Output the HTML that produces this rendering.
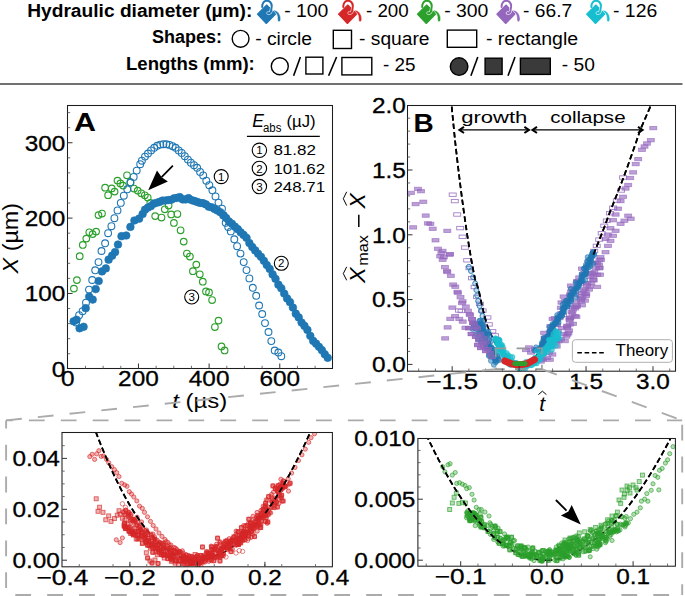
<!DOCTYPE html>
<html><head><meta charset="utf-8"><title>figure</title>
<style>html,body{margin:0;padding:0;background:#fff;width:685px;height:596px;overflow:hidden}
svg{display:block}
.bo{fill:none;stroke:#1f77b4;stroke-width:1.1}
.bf{fill:#1f77b4;stroke:#1f77b4;stroke-width:0.6}
.go{fill:none;stroke:#2ca02c;stroke-width:1.15}
.pf{fill:#9467bd;fill-opacity:.62;stroke:#9467bd;stroke-opacity:.7;stroke-width:.8}
.po{fill:none;stroke:#9467bd;stroke-opacity:.85;stroke-width:.9}
.bt{fill:#1f77b4;fill-opacity:.5;stroke:#1f77b4;stroke-opacity:.75;stroke-width:.8}
.bl{fill:#1f77b4;fill-opacity:.25;stroke:#1f77b4;stroke-opacity:.85;stroke-width:1}
.ct{fill:#17becf;fill-opacity:.6;stroke:#17becf;stroke-opacity:.7;stroke-width:.8}
.rc{fill:#d62728;fill-opacity:.35;stroke:#d62728;stroke-opacity:.7;stroke-width:.9}
.rs{fill:#d62728;fill-opacity:.35;stroke:#d62728;stroke-opacity:.7;stroke-width:.9}
.ro{fill:none;stroke:#d62728;stroke-opacity:.7;stroke-width:.8}
.gc{fill:#2ca02c;fill-opacity:.35;stroke:#2ca02c;stroke-opacity:.7;stroke-width:.9}
.gs{fill:#2ca02c;fill-opacity:.35;stroke:#2ca02c;stroke-opacity:.7;stroke-width:.9}
text{font-family:"Liberation Sans",sans-serif}
</style></head>
<body><svg width="685" height="596" viewBox="0 0 685 596" font-family="Liberation Sans, sans-serif">
<rect width="685" height="596" fill="#fff"/>
<text x="27.2" y="17.1" font-size="19.2" font-weight="bold" font-style="normal" text-anchor="start" fill="#000" textLength="225.2" lengthAdjust="spacingAndGlyphs" >Hydraulic diameter (µm):</text>
<g transform="translate(254.9,0)"><path d="M2.5,14.2 L11.8,5 L20.7,14 L11.4,23.5 Z" fill="#1f77b4" stroke="#1f77b4" stroke-width="1.1" stroke-linejoin="round"/><path d="M16.5,8.6 L16.1,11.4 C15.9,12.8 14.4,13.6 13.1,13" fill="none" stroke="#fff" stroke-width="3.1" stroke-linecap="round"/><path d="M7.3,7.0 C7.1,2.8 9.5,0.8 11.9,0.8 C14.8,0.8 16.9,2.7 16.8,6.4 L16.1,11.4 C15.9,12.8 14.4,13.6 13.1,13" fill="none" stroke="#1f77b4" stroke-width="2" stroke-linecap="round"/><path d="M19.2,10.1 C22.5,10.9 25.3,13.5 25.7,18 C25.9,20.3 25.2,21.8 24.1,21.8 C23,21.8 22.6,20.5 22.7,18.5 C22.7,15.6 21.6,13.1 19.6,12" fill="#1f77b4" stroke="#fff" stroke-width="0.5"/></g>
<text x="284.2" y="17.1" font-size="17.5" font-weight="normal" font-style="normal" text-anchor="start" fill="#000" textLength="44.2" lengthAdjust="spacingAndGlyphs" >- 100</text>
<g transform="translate(336,0)"><path d="M2.5,14.2 L11.8,5 L20.7,14 L11.4,23.5 Z" fill="#d62728" stroke="#d62728" stroke-width="1.1" stroke-linejoin="round"/><path d="M16.5,8.6 L16.1,11.4 C15.9,12.8 14.4,13.6 13.1,13" fill="none" stroke="#fff" stroke-width="3.1" stroke-linecap="round"/><path d="M7.3,7.0 C7.1,2.8 9.5,0.8 11.9,0.8 C14.8,0.8 16.9,2.7 16.8,6.4 L16.1,11.4 C15.9,12.8 14.4,13.6 13.1,13" fill="none" stroke="#d62728" stroke-width="2" stroke-linecap="round"/><path d="M19.2,10.1 C22.5,10.9 25.3,13.5 25.7,18 C25.9,20.3 25.2,21.8 24.1,21.8 C23,21.8 22.6,20.5 22.7,18.5 C22.7,15.6 21.6,13.1 19.6,12" fill="#d62728" stroke="#fff" stroke-width="0.5"/></g>
<text x="366" y="17.1" font-size="17.5" font-weight="normal" font-style="normal" text-anchor="start" fill="#000" textLength="42.7" lengthAdjust="spacingAndGlyphs" >- 200</text>
<g transform="translate(414.9,0)"><path d="M2.5,14.2 L11.8,5 L20.7,14 L11.4,23.5 Z" fill="#2ca02c" stroke="#2ca02c" stroke-width="1.1" stroke-linejoin="round"/><path d="M16.5,8.6 L16.1,11.4 C15.9,12.8 14.4,13.6 13.1,13" fill="none" stroke="#fff" stroke-width="3.1" stroke-linecap="round"/><path d="M7.3,7.0 C7.1,2.8 9.5,0.8 11.9,0.8 C14.8,0.8 16.9,2.7 16.8,6.4 L16.1,11.4 C15.9,12.8 14.4,13.6 13.1,13" fill="none" stroke="#2ca02c" stroke-width="2" stroke-linecap="round"/><path d="M19.2,10.1 C22.5,10.9 25.3,13.5 25.7,18 C25.9,20.3 25.2,21.8 24.1,21.8 C23,21.8 22.6,20.5 22.7,18.5 C22.7,15.6 21.6,13.1 19.6,12" fill="#2ca02c" stroke="#fff" stroke-width="0.5"/></g>
<text x="444.2" y="17.1" font-size="17.5" font-weight="normal" font-style="normal" text-anchor="start" fill="#000" textLength="44.2" lengthAdjust="spacingAndGlyphs" >- 300</text>
<g transform="translate(494.3,0)"><path d="M2.5,14.2 L11.8,5 L20.7,14 L11.4,23.5 Z" fill="#9467bd" stroke="#9467bd" stroke-width="1.1" stroke-linejoin="round"/><path d="M16.5,8.6 L16.1,11.4 C15.9,12.8 14.4,13.6 13.1,13" fill="none" stroke="#fff" stroke-width="3.1" stroke-linecap="round"/><path d="M7.3,7.0 C7.1,2.8 9.5,0.8 11.9,0.8 C14.8,0.8 16.9,2.7 16.8,6.4 L16.1,11.4 C15.9,12.8 14.4,13.6 13.1,13" fill="none" stroke="#9467bd" stroke-width="2" stroke-linecap="round"/><path d="M19.2,10.1 C22.5,10.9 25.3,13.5 25.7,18 C25.9,20.3 25.2,21.8 24.1,21.8 C23,21.8 22.6,20.5 22.7,18.5 C22.7,15.6 21.6,13.1 19.6,12" fill="#9467bd" stroke="#fff" stroke-width="0.5"/></g>
<text x="523.1" y="17.1" font-size="17.5" font-weight="normal" font-style="normal" text-anchor="start" fill="#000" textLength="49.1" lengthAdjust="spacingAndGlyphs" >- 66.7</text>
<g transform="translate(584.1,0)"><path d="M2.5,14.2 L11.8,5 L20.7,14 L11.4,23.5 Z" fill="#17becf" stroke="#17becf" stroke-width="1.1" stroke-linejoin="round"/><path d="M16.5,8.6 L16.1,11.4 C15.9,12.8 14.4,13.6 13.1,13" fill="none" stroke="#fff" stroke-width="3.1" stroke-linecap="round"/><path d="M7.3,7.0 C7.1,2.8 9.5,0.8 11.9,0.8 C14.8,0.8 16.9,2.7 16.8,6.4 L16.1,11.4 C15.9,12.8 14.4,13.6 13.1,13" fill="none" stroke="#17becf" stroke-width="2" stroke-linecap="round"/><path d="M19.2,10.1 C22.5,10.9 25.3,13.5 25.7,18 C25.9,20.3 25.2,21.8 24.1,21.8 C23,21.8 22.6,20.5 22.7,18.5 C22.7,15.6 21.6,13.1 19.6,12" fill="#17becf" stroke="#fff" stroke-width="0.5"/></g>
<text x="613" y="17.1" font-size="17.5" font-weight="normal" font-style="normal" text-anchor="start" fill="#000" textLength="44.2" lengthAdjust="spacingAndGlyphs" >- 126</text>
<text x="151.9" y="43.4" font-size="19.2" font-weight="bold" font-style="normal" text-anchor="start" fill="#000" textLength="70" lengthAdjust="spacingAndGlyphs" >Shapes:</text>
<circle cx="240.6" cy="38.8" r="8.4" fill="none" stroke="#000" stroke-width="1.4"/>
<text x="255.2" y="44.5" font-size="17.5" font-weight="normal" font-style="normal" text-anchor="start" fill="#000" textLength="56.8" lengthAdjust="spacingAndGlyphs" >- circle</text>
<rect x="333.3" y="30.3" width="18.2" height="18.2" fill="none" stroke="#000" stroke-width="1.4"/>
<text x="359.1" y="44.5" font-size="17.5" font-weight="normal" font-style="normal" text-anchor="start" fill="#000" textLength="70.4" lengthAdjust="spacingAndGlyphs" >- square</text>
<rect x="447.3" y="30.1" width="29.4" height="17.2" fill="none" stroke="#000" stroke-width="1.4"/>
<text x="485.9" y="44.5" font-size="17.5" font-weight="normal" font-style="normal" text-anchor="start" fill="#000" textLength="92.3" lengthAdjust="spacingAndGlyphs" >- rectangle</text>
<text x="126" y="70.4" font-size="19.2" font-weight="bold" font-style="normal" text-anchor="start" fill="#000" textLength="128.8" lengthAdjust="spacingAndGlyphs" >Lengths (mm):</text>
<circle cx="279.8" cy="66.3" r="8.5" fill="none" stroke="#000" stroke-width="1.4"/>
<line x1="293.6" y1="75.8" x2="300.4" y2="57" stroke="#000" stroke-width="1.6" />
<rect x="305.9" y="57.2" width="17" height="16.8" fill="none" stroke="#000" stroke-width="1.4"/>
<line x1="328.6" y1="75.8" x2="336.6" y2="57" stroke="#000" stroke-width="1.6" />
<rect x="341.9" y="57.5" width="29.9" height="17.4" fill="none" stroke="#000" stroke-width="1.4"/>
<text x="383" y="71.2" font-size="17.5" font-weight="normal" font-style="normal" text-anchor="start" fill="#000" textLength="32.5" lengthAdjust="spacingAndGlyphs" >- 25</text>
<circle cx="459.1" cy="66.6" r="8.8" fill="#3a3a3a" stroke="#000" stroke-width="1.4"/>
<line x1="470.9" y1="75.8" x2="477.8" y2="57" stroke="#000" stroke-width="1.6" />
<rect x="485.1" y="58.2" width="17" height="16.2" fill="#3a3a3a" stroke="#000" stroke-width="1.4"/>
<line x1="508" y1="75.8" x2="515" y2="57" stroke="#000" stroke-width="1.6" />
<rect x="520.4" y="58.2" width="29.9" height="16.2" fill="#3a3a3a" stroke="#000" stroke-width="1.4"/>
<text x="561.8" y="71.2" font-size="17.5" font-weight="normal" font-style="normal" text-anchor="start" fill="#000" textLength="33.1" lengthAdjust="spacingAndGlyphs" >- 50</text>
<line x1="0" y1="84" x2="682.5" y2="84" stroke="#707070" stroke-width="2" />
<clipPath id="ca"><rect x="67.5" y="105.5" width="265" height="263"/></clipPath><g clip-path="url(#ca)">
<circle class="go" cx="73.9" cy="288.6" r="3.3"/>
<circle class="go" cx="76.9" cy="280.1" r="3.3"/>
<circle class="go" cx="79.7" cy="256.2" r="3.3"/>
<circle class="go" cx="82.8" cy="244.9" r="3.3"/>
<circle class="go" cx="86.3" cy="238.6" r="3.3"/>
<circle class="go" cx="89.3" cy="232.3" r="3.3"/>
<circle class="go" cx="92.6" cy="234.1" r="3.3"/>
<circle class="go" cx="96.1" cy="231.6" r="3.3"/>
<circle class="go" cx="98.5" cy="215.1" r="3.3"/>
<circle class="go" cx="102" cy="213.5" r="3.3"/>
<circle class="go" cx="105.1" cy="187.7" r="3.3"/>
<circle class="go" cx="108.1" cy="195.2" r="3.3"/>
<circle class="go" cx="111.7" cy="188.4" r="3.3"/>
<circle class="go" cx="114.6" cy="191.6" r="3.3"/>
<circle class="go" cx="117.5" cy="180.6" r="3.3"/>
<circle class="go" cx="120.4" cy="183.4" r="3.3"/>
<circle class="go" cx="123.1" cy="185.6" r="3.3"/>
<circle class="go" cx="127" cy="175.3" r="3.3"/>
<circle class="go" cx="130.5" cy="182.4" r="3.3"/>
<circle class="go" cx="134" cy="188.5" r="3.3"/>
<circle class="go" cx="137.7" cy="190.6" r="3.3"/>
<circle class="go" cx="141.3" cy="193.3" r="3.3"/>
<circle class="go" cx="144.8" cy="195.3" r="3.3"/>
<circle class="go" cx="147.7" cy="197.5" r="3.3"/>
<circle class="go" cx="150.3" cy="202.8" r="3.3"/>
<circle class="go" cx="155.2" cy="216.1" r="3.3"/>
<circle class="go" cx="161.5" cy="217.5" r="3.3"/>
<circle class="go" cx="164.8" cy="209.3" r="3.3"/>
<circle class="go" cx="168.6" cy="205.5" r="3.3"/>
<circle class="go" cx="171.2" cy="214.4" r="3.3"/>
<circle class="go" cx="177.4" cy="214" r="3.3"/>
<circle class="go" cx="173.9" cy="222.9" r="3.3"/>
<circle class="go" cx="180.6" cy="230.3" r="3.3"/>
<circle class="go" cx="183.7" cy="241.6" r="3.3"/>
<circle class="go" cx="186.9" cy="253.5" r="3.3"/>
<circle class="go" cx="189.9" cy="256.5" r="3.3"/>
<circle class="go" cx="196.3" cy="264.6" r="3.3"/>
<circle class="go" cx="192.9" cy="271.2" r="3.3"/>
<circle class="go" cx="199.8" cy="274.3" r="3.3"/>
<circle class="go" cx="202.8" cy="281.7" r="3.3"/>
<circle class="go" cx="206" cy="291.4" r="3.3"/>
<circle class="go" cx="209" cy="292.4" r="3.3"/>
<circle class="go" cx="212.1" cy="300" r="3.3"/>
<circle class="go" cx="218.5" cy="320.6" r="3.3"/>
<circle class="go" cx="214.9" cy="327" r="3.3"/>
<circle class="go" cx="221.5" cy="346.4" r="3.3"/>
<circle class="go" cx="224.6" cy="350.4" r="3.3"/>
<circle class="bo" cx="79.1" cy="315.2" r="3.4"/>
<circle class="bo" cx="82.6" cy="311.2" r="3.4"/>
<circle class="bo" cx="86" cy="302.7" r="3.4"/>
<circle class="bo" cx="89" cy="289.6" r="3.4"/>
<circle class="bo" cx="92.2" cy="280" r="3.4"/>
<circle class="bo" cx="95.2" cy="270.3" r="3.4"/>
<circle class="bo" cx="98.5" cy="262.1" r="3.4"/>
<circle class="bo" cx="101.5" cy="251" r="3.4"/>
<circle class="bo" cx="105.1" cy="243.3" r="3.4"/>
<circle class="bo" cx="108.1" cy="233.2" r="3.4"/>
<circle class="bo" cx="111.4" cy="226.2" r="3.4"/>
<circle class="bo" cx="114.4" cy="218.2" r="3.4"/>
<circle class="bo" cx="117.5" cy="210.4" r="3.4"/>
<circle class="bo" cx="120.8" cy="202.9" r="3.4"/>
<circle class="bo" cx="123.8" cy="195.7" r="3.4"/>
<circle class="bo" cx="127.3" cy="189.3" r="3.4"/>
<circle class="bo" cx="130.4" cy="182.3" r="3.4"/>
<circle class="bo" cx="133.7" cy="176.9" r="3.4"/>
<circle class="bo" cx="136.7" cy="170.6" r="3.4"/>
<circle class="bo" cx="140.2" cy="164.2" r="3.4"/>
<circle class="bo" cx="141.9" cy="160.7" r="3.4"/>
<circle class="bo" cx="145" cy="156.6" r="3.4"/>
<circle class="bo" cx="148" cy="153.5" r="3.4"/>
<circle class="bo" cx="151.1" cy="150.4" r="3.4"/>
<circle class="bo" cx="154.2" cy="147.8" r="3.4"/>
<circle class="bo" cx="157.2" cy="145.8" r="3.4"/>
<circle class="bo" cx="160.3" cy="144.6" r="3.4"/>
<circle class="bo" cx="163.4" cy="144.2" r="3.4"/>
<circle class="bo" cx="166.4" cy="144.3" r="3.4"/>
<circle class="bo" cx="169.5" cy="144.9" r="3.4"/>
<circle class="bo" cx="172.6" cy="146.2" r="3.4"/>
<circle class="bo" cx="175.6" cy="147.8" r="3.4"/>
<circle class="bo" cx="178.7" cy="150.4" r="3.4"/>
<circle class="bo" cx="181.7" cy="152.9" r="3.4"/>
<circle class="bo" cx="184.8" cy="156.2" r="3.4"/>
<circle class="bo" cx="187.9" cy="159.6" r="3.4"/>
<circle class="bo" cx="190.9" cy="162.7" r="3.4"/>
<circle class="bo" cx="194" cy="165.2" r="3.4"/>
<circle class="bo" cx="197.1" cy="167.8" r="3.4"/>
<circle class="bo" cx="200.1" cy="171.9" r="3.4"/>
<circle class="bo" cx="203.2" cy="175.4" r="3.4"/>
<circle class="bo" cx="206.3" cy="180.7" r="3.4"/>
<circle class="bo" cx="209.3" cy="185.2" r="3.4"/>
<circle class="bo" cx="212.4" cy="190.3" r="3.4"/>
<circle class="bo" cx="215.5" cy="196.4" r="3.4"/>
<circle class="bo" cx="218.5" cy="202.6" r="3.4"/>
<circle class="bo" cx="222" cy="208.7" r="3.4"/>
<circle class="bo" cx="225.7" cy="222.8" r="3.4"/>
<circle class="bo" cx="230.8" cy="231.4" r="3.4"/>
<circle class="bo" cx="234.3" cy="239.3" r="3.4"/>
<circle class="bo" cx="237.1" cy="246.2" r="3.4"/>
<circle class="bo" cx="240.5" cy="253.6" r="3.4"/>
<circle class="bo" cx="243.7" cy="262.1" r="3.4"/>
<circle class="bo" cx="246.5" cy="270.1" r="3.4"/>
<circle class="bo" cx="249.4" cy="278.4" r="3.4"/>
<circle class="bo" cx="252.8" cy="287.8" r="3.4"/>
<circle class="bo" cx="256.2" cy="295.8" r="3.4"/>
<circle class="bo" cx="259.1" cy="305.5" r="3.4"/>
<circle class="bo" cx="262.2" cy="314" r="3.4"/>
<circle class="bo" cx="265" cy="323.1" r="3.4"/>
<circle class="bo" cx="268.5" cy="332" r="3.4"/>
<circle class="bo" cx="271.3" cy="341.1" r="3.4"/>
<circle class="bo" cx="274.7" cy="350.5" r="3.4"/>
<circle class="bo" cx="278.4" cy="352.5" r="3.4"/>
<circle class="bo" cx="281.3" cy="356.2" r="3.4"/>
<circle class="bo" cx="76.1" cy="322.5" r="3.4"/>
<circle class="bo" cx="223.8" cy="215.5" r="3.4"/>
<circle class="bo" cx="228.2" cy="227" r="3.4"/>
<circle class="bf" cx="73.6" cy="321.3" r="3.85"/>
<circle class="bf" cx="76.6" cy="319.8" r="3.85"/>
<circle class="bf" cx="79.6" cy="328.3" r="3.85"/>
<circle class="bf" cx="83.6" cy="326.8" r="3.85"/>
<circle class="bf" cx="85.7" cy="308.2" r="3.85"/>
<circle class="bf" cx="89.2" cy="296.6" r="3.85"/>
<circle class="bf" cx="92.7" cy="299.6" r="3.85"/>
<circle class="bf" cx="95.7" cy="289.1" r="3.85"/>
<circle class="bf" cx="98.7" cy="281" r="3.85"/>
<circle class="bf" cx="102" cy="271.4" r="3.85"/>
<circle class="bf" cx="105.8" cy="268.4" r="3.85"/>
<circle class="bf" cx="108.6" cy="259.7" r="3.85"/>
<circle class="bf" cx="112.1" cy="255.7" r="3.85"/>
<circle class="bf" cx="115.1" cy="252" r="3.85"/>
<circle class="bf" cx="118" cy="244.5" r="3.85"/>
<circle class="bf" cx="121.5" cy="236.2" r="3.85"/>
<circle class="bf" cx="126.2" cy="235.5" r="3.85"/>
<circle class="bf" cx="130.4" cy="226.9" r="3.85"/>
<circle class="bf" cx="134.4" cy="220.5" r="3.85"/>
<circle class="bf" cx="139.1" cy="218.7" r="3.85"/>
<circle class="bf" cx="142.6" cy="214" r="3.85"/>
<circle class="bf" cx="145" cy="209.72" r="3.85"/>
<circle class="bf" cx="147.9" cy="207.59" r="3.85"/>
<circle class="bf" cx="150.8" cy="206.15" r="3.85"/>
<circle class="bf" cx="153.7" cy="203.7" r="3.85"/>
<circle class="bf" cx="156.6" cy="202.76" r="3.85"/>
<circle class="bf" cx="159.5" cy="201.95" r="3.85"/>
<circle class="bf" cx="162.4" cy="200.63" r="3.85"/>
<circle class="bf" cx="165.3" cy="200.51" r="3.85"/>
<circle class="bf" cx="168.2" cy="200.1" r="3.85"/>
<circle class="bf" cx="171.1" cy="199.87" r="3.85"/>
<circle class="bf" cx="174" cy="198.36" r="3.85"/>
<circle class="bf" cx="176.9" cy="197.92" r="3.85"/>
<circle class="bf" cx="179.8" cy="197.09" r="3.85"/>
<circle class="bf" cx="182.7" cy="199.43" r="3.85"/>
<circle class="bf" cx="185.6" cy="199.46" r="3.85"/>
<circle class="bf" cx="188.5" cy="198.19" r="3.85"/>
<circle class="bf" cx="191.4" cy="200.09" r="3.85"/>
<circle class="bf" cx="194.3" cy="200.92" r="3.85"/>
<circle class="bf" cx="197.2" cy="201.94" r="3.85"/>
<circle class="bf" cx="200.1" cy="202.93" r="3.85"/>
<circle class="bf" cx="203" cy="203.2" r="3.85"/>
<circle class="bf" cx="205.9" cy="204.42" r="3.85"/>
<circle class="bf" cx="208.8" cy="206.69" r="3.85"/>
<circle class="bf" cx="211.7" cy="207.36" r="3.85"/>
<circle class="bf" cx="214.6" cy="209" r="3.85"/>
<circle class="bf" cx="217.5" cy="210.54" r="3.85"/>
<circle class="bf" cx="220.4" cy="212.24" r="3.85"/>
<circle class="bf" cx="223.3" cy="215.34" r="3.85"/>
<circle class="bf" cx="226.2" cy="218.1" r="3.85"/>
<circle class="bf" cx="229.1" cy="221.59" r="3.85"/>
<circle class="bf" cx="232" cy="223.78" r="3.85"/>
<circle class="bf" cx="234.9" cy="226.67" r="3.85"/>
<circle class="bf" cx="237.8" cy="229.2" r="3.85"/>
<circle class="bf" cx="240.7" cy="232.36" r="3.85"/>
<circle class="bf" cx="243.6" cy="234.93" r="3.85"/>
<circle class="bf" cx="246.5" cy="237.86" r="3.85"/>
<circle class="bf" cx="249.4" cy="243.06" r="3.85"/>
<circle class="bf" cx="252.3" cy="247.1" r="3.85"/>
<circle class="bf" cx="255.2" cy="250.45" r="3.85"/>
<circle class="bf" cx="258.1" cy="253.75" r="3.85"/>
<circle class="bf" cx="261" cy="256.85" r="3.85"/>
<circle class="bf" cx="263.9" cy="260.8" r="3.85"/>
<circle class="bf" cx="266.8" cy="264.98" r="3.85"/>
<circle class="bf" cx="269.7" cy="268.94" r="3.85"/>
<circle class="bf" cx="272.6" cy="274.38" r="3.85"/>
<circle class="bf" cx="275.5" cy="278.85" r="3.85"/>
<circle class="bf" cx="278.4" cy="284.65" r="3.85"/>
<circle class="bf" cx="281.3" cy="288.24" r="3.85"/>
<circle class="bf" cx="284.2" cy="293.51" r="3.85"/>
<circle class="bf" cx="287.1" cy="298.42" r="3.85"/>
<circle class="bf" cx="290" cy="302.15" r="3.85"/>
<circle class="bf" cx="292.9" cy="307.57" r="3.85"/>
<circle class="bf" cx="295.8" cy="313.71" r="3.85"/>
<circle class="bf" cx="298.7" cy="317.38" r="3.85"/>
<circle class="bf" cx="301.6" cy="322.57" r="3.85"/>
<circle class="bf" cx="304.5" cy="325.96" r="3.85"/>
<circle class="bf" cx="307.4" cy="329.89" r="3.85"/>
<circle class="bf" cx="310.3" cy="335.87" r="3.85"/>
<circle class="bf" cx="313.2" cy="340.89" r="3.85"/>
<circle class="bf" cx="316.1" cy="343.69" r="3.85"/>
<circle class="bf" cx="319" cy="346.84" r="3.85"/>
<circle class="bf" cx="321.9" cy="350.13" r="3.85"/>
<circle class="bf" cx="324.8" cy="354.3" r="3.85"/>
<circle class="bf" cx="327.7" cy="357.82" r="3.85"/>
</g>
<line x1="172.9" y1="165.6" x2="161.6" y2="177.1" stroke="#000" stroke-width="1.7" />
<path d="M148.2,190.2 L157,170.6 L161.9,177.6 L167.9,181.4 Z" fill="#000"/>
<circle cx="221.2" cy="176.6" r="7.0" fill="#fff" stroke="#000" stroke-width="1.1"/>
<text x="221.2" y="180.7" font-size="11.5" font-weight="normal" font-style="normal" text-anchor="middle" fill="#000" >1</text>
<circle cx="281.3" cy="263.3" r="7.0" fill="#fff" stroke="#000" stroke-width="1.1"/>
<text x="281.3" y="267.4" font-size="11.5" font-weight="normal" font-style="normal" text-anchor="middle" fill="#000" >2</text>
<circle cx="191.7" cy="297" r="7.0" fill="#fff" stroke="#000" stroke-width="1.1"/>
<text x="191.7" y="301.1" font-size="11.5" font-weight="normal" font-style="normal" text-anchor="middle" fill="#000" >3</text>
<text x="252.2" y="127.4" font-size="17.5" font-weight="normal" font-style="italic" text-anchor="start" fill="#000" >E</text>
<text x="263" y="131.6" font-size="12.5" font-weight="normal" font-style="normal" text-anchor="start" fill="#000" textLength="18.4" lengthAdjust="spacingAndGlyphs" >abs</text>
<text x="286.5" y="127.4" font-size="17" font-weight="normal" font-style="normal" text-anchor="start" fill="#000" textLength="29.2" lengthAdjust="spacingAndGlyphs" >(µJ)</text>
<line x1="246.9" y1="136.4" x2="319.8" y2="136.4" stroke="#000" stroke-width="1.3" />
<circle cx="259.4" cy="150.3" r="7.2" fill="#fff" stroke="#000" stroke-width="1.1"/>
<text x="259.4" y="154.4" font-size="11.5" font-weight="normal" font-style="normal" text-anchor="middle" fill="#000" >1</text>
<text x="273.4" y="155.4" font-size="14.6" font-weight="normal" font-style="normal" text-anchor="start" fill="#000" textLength="42.6" lengthAdjust="spacingAndGlyphs" >81.82</text>
<circle cx="259.4" cy="168.4" r="7.2" fill="#fff" stroke="#000" stroke-width="1.1"/>
<text x="259.4" y="172.5" font-size="11.5" font-weight="normal" font-style="normal" text-anchor="middle" fill="#000" >2</text>
<text x="273.4" y="173.5" font-size="14.6" font-weight="normal" font-style="normal" text-anchor="start" fill="#000" textLength="51.7" lengthAdjust="spacingAndGlyphs" >101.62</text>
<circle cx="259.4" cy="186.6" r="7.2" fill="#fff" stroke="#000" stroke-width="1.1"/>
<text x="259.4" y="190.7" font-size="11.5" font-weight="normal" font-style="normal" text-anchor="middle" fill="#000" >3</text>
<text x="273.4" y="191.7" font-size="14.6" font-weight="normal" font-style="normal" text-anchor="start" fill="#000" textLength="51.7" lengthAdjust="spacingAndGlyphs" >248.71</text>
<rect x="67.5" y="105.5" width="265" height="263" fill="none" stroke="#1e1e1e" stroke-width="1.05"/>
<line x1="85.47" y1="368.5" x2="85.47" y2="365.8" stroke="#555" stroke-width="0.85" />
<line x1="103.13" y1="368.5" x2="103.13" y2="365.8" stroke="#555" stroke-width="0.85" />
<line x1="120.79" y1="368.5" x2="120.79" y2="365.8" stroke="#555" stroke-width="0.85" />
<line x1="156.12" y1="368.5" x2="156.12" y2="365.8" stroke="#555" stroke-width="0.85" />
<line x1="173.79" y1="368.5" x2="173.79" y2="365.8" stroke="#555" stroke-width="0.85" />
<line x1="191.45" y1="368.5" x2="191.45" y2="365.8" stroke="#555" stroke-width="0.85" />
<line x1="226.79" y1="368.5" x2="226.79" y2="365.8" stroke="#555" stroke-width="0.85" />
<line x1="244.45" y1="368.5" x2="244.45" y2="365.8" stroke="#555" stroke-width="0.85" />
<line x1="262.12" y1="368.5" x2="262.12" y2="365.8" stroke="#555" stroke-width="0.85" />
<line x1="297.44" y1="368.5" x2="297.44" y2="365.8" stroke="#555" stroke-width="0.85" />
<line x1="315.11" y1="368.5" x2="315.11" y2="365.8" stroke="#555" stroke-width="0.85" />
<line x1="138.46" y1="368.5" x2="138.46" y2="363.5" stroke="#333" stroke-width="1.0" />
<line x1="209.12" y1="368.5" x2="209.12" y2="363.5" stroke="#333" stroke-width="1.0" />
<line x1="279.78" y1="368.5" x2="279.78" y2="363.5" stroke="#333" stroke-width="1.0" />
<line x1="67.5" y1="353.73" x2="70.2" y2="353.73" stroke="#555" stroke-width="0.85" />
<line x1="67.5" y1="338.66" x2="70.2" y2="338.66" stroke="#555" stroke-width="0.85" />
<line x1="67.5" y1="323.59" x2="70.2" y2="323.59" stroke="#555" stroke-width="0.85" />
<line x1="67.5" y1="308.52" x2="70.2" y2="308.52" stroke="#555" stroke-width="0.85" />
<line x1="67.5" y1="278.38" x2="70.2" y2="278.38" stroke="#555" stroke-width="0.85" />
<line x1="67.5" y1="263.31" x2="70.2" y2="263.31" stroke="#555" stroke-width="0.85" />
<line x1="67.5" y1="248.24" x2="70.2" y2="248.24" stroke="#555" stroke-width="0.85" />
<line x1="67.5" y1="233.17" x2="70.2" y2="233.17" stroke="#555" stroke-width="0.85" />
<line x1="67.5" y1="203.03" x2="70.2" y2="203.03" stroke="#555" stroke-width="0.85" />
<line x1="67.5" y1="187.96" x2="70.2" y2="187.96" stroke="#555" stroke-width="0.85" />
<line x1="67.5" y1="172.89" x2="70.2" y2="172.89" stroke="#555" stroke-width="0.85" />
<line x1="67.5" y1="157.82" x2="70.2" y2="157.82" stroke="#555" stroke-width="0.85" />
<line x1="67.5" y1="127.68" x2="70.2" y2="127.68" stroke="#555" stroke-width="0.85" />
<line x1="67.5" y1="112.61" x2="70.2" y2="112.61" stroke="#555" stroke-width="0.85" />
<line x1="67.5" y1="293.45" x2="72.5" y2="293.45" stroke="#333" stroke-width="1.0" />
<line x1="67.5" y1="218.1" x2="72.5" y2="218.1" stroke="#333" stroke-width="1.0" />
<line x1="67.5" y1="142.75" x2="72.5" y2="142.75" stroke="#333" stroke-width="1.0" />
<text x="67.8" y="386.4" font-size="21.3" font-weight="normal" font-style="normal" text-anchor="middle" fill="#000" textLength="13.55" lengthAdjust="spacingAndGlyphs" stroke="#000" stroke-width="0.3">0</text>
<text x="138.46" y="386.4" font-size="21.3" font-weight="normal" font-style="normal" text-anchor="middle" fill="#000" textLength="40.64" lengthAdjust="spacingAndGlyphs" stroke="#000" stroke-width="0.3">200</text>
<text x="209.12" y="386.4" font-size="21.3" font-weight="normal" font-style="normal" text-anchor="middle" fill="#000" textLength="40.64" lengthAdjust="spacingAndGlyphs" stroke="#000" stroke-width="0.3">400</text>
<text x="279.78" y="386.4" font-size="21.3" font-weight="normal" font-style="normal" text-anchor="middle" fill="#000" textLength="40.64" lengthAdjust="spacingAndGlyphs" stroke="#000" stroke-width="0.3">600</text>
<text x="65.4" y="376.6" font-size="21.3" font-weight="normal" font-style="normal" text-anchor="end" fill="#000" textLength="13.55" lengthAdjust="spacingAndGlyphs" stroke="#000" stroke-width="0.3">0</text>
<text x="65.4" y="301.25" font-size="21.3" font-weight="normal" font-style="normal" text-anchor="end" fill="#000" textLength="40.64" lengthAdjust="spacingAndGlyphs" stroke="#000" stroke-width="0.3">100</text>
<text x="65.4" y="225.9" font-size="21.3" font-weight="normal" font-style="normal" text-anchor="end" fill="#000" textLength="40.64" lengthAdjust="spacingAndGlyphs" stroke="#000" stroke-width="0.3">200</text>
<text x="65.4" y="150.55" font-size="21.3" font-weight="normal" font-style="normal" text-anchor="end" fill="#000" textLength="40.64" lengthAdjust="spacingAndGlyphs" stroke="#000" stroke-width="0.3">300</text>
<text x="74" y="131" font-size="25.8" font-weight="bold" font-style="normal" text-anchor="start" fill="#000" textLength="22" lengthAdjust="spacingAndGlyphs" >A</text>
<text x="199.8" y="408.2" font-size="20.5" text-anchor="middle" textLength="55" lengthAdjust="spacingAndGlyphs"><tspan font-style="italic">t</tspan> (µs)</text>
<text transform="translate(17.7,238.2) rotate(-90)" font-size="21.3" text-anchor="middle" textLength="70.5" lengthAdjust="spacingAndGlyphs"><tspan font-style="italic">X</tspan> (µm)</text>
<clipPath id="cb"><rect x="407.5" y="105.5" width="268" height="265.7"/></clipPath><g clip-path="url(#cb)">
<rect class="pf" x="407.4" y="191.2" width="7" height="3.4"/>
<rect class="pf" x="414.4" y="187.2" width="7" height="3.4"/>
<rect class="pf" x="417.5" y="189.5" width="7" height="3.4"/>
<rect class="pf" x="412.1" y="202.4" width="7" height="3.4"/>
<rect class="pf" x="419.8" y="200.1" width="7" height="3.4"/>
<rect class="pf" x="422.2" y="213.9" width="7" height="3.4"/>
<rect class="pf" x="409.7" y="225.7" width="7" height="3.4"/>
<rect class="pf" x="424.5" y="221.7" width="7" height="3.4"/>
<rect class="pf" x="426.9" y="222.2" width="7" height="3.4"/>
<rect class="pf" x="429.2" y="227.1" width="7" height="3.4"/>
<rect class="pf" x="443.8" y="229.2" width="7" height="3.4"/>
<rect class="pf" x="432" y="238.6" width="7" height="3.4"/>
<rect class="pf" x="434.4" y="247.1" width="7" height="3.4"/>
<rect class="pf" x="439.1" y="249.2" width="7" height="3.4"/>
<rect class="pf" x="437.9" y="251.5" width="7" height="3.4"/>
<rect class="pf" x="446.1" y="252.9" width="7" height="3.4"/>
<rect class="pf" x="436.7" y="254.6" width="7" height="3.4"/>
<rect class="pf" x="439.1" y="258.1" width="7" height="3.4"/>
<rect class="pf" x="441.4" y="265.4" width="7" height="3.4"/>
<rect class="pf" x="443.8" y="270.3" width="7" height="3.4"/>
<rect class="pf" x="447.3" y="274.1" width="7" height="3.4"/>
<rect class="pf" x="440.3" y="255.6" width="7" height="3.4"/>
<rect class="pf" x="446.6" y="252.5" width="7" height="3.4"/>
<rect class="pf" x="443.4" y="269.3" width="7" height="3.4"/>
<rect class="pf" x="449.7" y="282.9" width="7" height="3.4"/>
<rect class="pf" x="451.8" y="285" width="7" height="3.4"/>
<rect class="pf" x="453.9" y="290.2" width="7" height="3.4"/>
<rect class="pf" x="457" y="295.5" width="7" height="3.4"/>
<rect class="pf" x="459.1" y="299.7" width="7" height="3.4"/>
<rect class="pf" x="462.3" y="304.9" width="7" height="3.4"/>
<rect class="pf" x="464.4" y="309.1" width="7" height="3.4"/>
<rect class="pf" x="466.5" y="313.3" width="7" height="3.4"/>
<rect class="pf" x="468.6" y="317.5" width="7" height="3.4"/>
<rect class="pf" x="470.7" y="321.7" width="7" height="3.4"/>
<rect class="pf" x="473.8" y="326.9" width="7" height="3.4"/>
<rect class="pf" x="477" y="332.1" width="7" height="3.4"/>
<rect class="pf" x="480.1" y="336.3" width="7" height="3.4"/>
<rect class="pf" x="482.2" y="340.5" width="7" height="3.4"/>
<rect class="pf" x="448.9" y="305.9" width="7" height="3.4"/>
<rect class="pf" x="446.8" y="317.2" width="7" height="3.4"/>
<rect class="pf" x="451.6" y="314.4" width="7" height="3.4"/>
<rect class="pf" x="455.8" y="317.2" width="7" height="3.4"/>
<rect class="pf" x="459.2" y="319.9" width="7" height="3.4"/>
<rect class="pf" x="444.1" y="325.7" width="7" height="3.4"/>
<rect class="pf" x="461.9" y="326.1" width="7" height="3.4"/>
<rect class="pf" x="465.4" y="326.5" width="7" height="3.4"/>
<rect class="pf" x="441.7" y="336.7" width="7" height="3.4"/>
<rect class="pf" x="468.1" y="332.3" width="7" height="3.4"/>
<rect class="pf" x="472.3" y="335.1" width="7" height="3.4"/>
<rect class="pf" x="475.7" y="338.5" width="7" height="3.4"/>
<rect class="pf" x="479.1" y="341.3" width="7" height="3.4"/>
<rect class="pf" x="480.5" y="344.7" width="7" height="3.4"/>
<rect class="pf" x="454.4" y="291.1" width="7" height="3.4"/>
<rect class="pf" x="458.5" y="301.4" width="7" height="3.4"/>
<rect class="pf" x="466.1" y="312.4" width="7" height="3.4"/>
<rect class="pf" x="469.5" y="321.3" width="7" height="3.4"/>
<rect class="pf" x="472.3" y="325.4" width="7" height="3.4"/>
<rect class="pf" x="484.5" y="347.3" width="7" height="3.4"/>
<rect class="pf" x="486.5" y="351.3" width="7" height="3.4"/>
<rect class="pf" x="482.5" y="349.3" width="7" height="3.4"/>
<rect class="pf" x="488.5" y="355.3" width="7" height="3.4"/>
<rect class="pf" x="474.5" y="343.3" width="7" height="3.4"/>
<rect class="pf" x="477.5" y="346.3" width="7" height="3.4"/>
<rect class="po" x="449.2" y="193" width="7" height="3.4"/>
<rect class="po" x="451.3" y="199.4" width="7" height="3.4"/>
<rect class="po" x="453.7" y="212.8" width="7" height="3.4"/>
<rect class="po" x="456.7" y="226.4" width="7" height="3.4"/>
<rect class="po" x="459.1" y="235.1" width="7" height="3.4"/>
<rect class="po" x="461.4" y="245.9" width="7" height="3.4"/>
<rect class="po" x="463.7" y="258.6" width="7" height="3.4"/>
<rect class="po" x="466" y="266.3" width="7" height="3.4"/>
<rect class="po" x="468.5" y="276.4" width="7" height="3.4"/>
<rect class="po" x="471.1" y="285.3" width="7" height="3.4"/>
<rect class="po" x="473.6" y="295.2" width="7" height="3.4"/>
<rect class="po" x="476.4" y="302.1" width="7" height="3.4"/>
<rect class="po" x="479.1" y="308.9" width="7" height="3.4"/>
<rect class="po" x="483.9" y="315.8" width="7" height="3.4"/>
<rect class="po" x="485.3" y="322.7" width="7" height="3.4"/>
<rect class="po" x="488.8" y="329.6" width="7" height="3.4"/>
<rect class="po" x="491.5" y="333.7" width="7" height="3.4"/>
<rect class="po" x="455.5" y="308.8" width="7" height="3.4"/>
<rect class="po" x="458.1" y="309.3" width="7" height="3.4"/>
<rect class="po" x="493.5" y="338.3" width="7" height="3.4"/>
<rect class="po" x="496.5" y="344.3" width="7" height="3.4"/>
<rect class="pf" x="649.8" y="126.4" width="7" height="3.4"/>
<rect class="pf" x="647.3" y="138.5" width="7" height="3.4"/>
<rect class="pf" x="643.5" y="141.8" width="7" height="3.4"/>
<rect class="pf" x="641" y="144.8" width="7" height="3.4"/>
<rect class="pf" x="638.5" y="148.1" width="7" height="3.4"/>
<rect class="pf" x="634.7" y="157.4" width="7" height="3.4"/>
<rect class="pf" x="632.2" y="162.4" width="7" height="3.4"/>
<rect class="pf" x="629.7" y="170.7" width="7" height="3.4"/>
<rect class="pf" x="626.7" y="176.3" width="7" height="3.4"/>
<rect class="pf" x="624.7" y="183.3" width="7" height="3.4"/>
<rect class="pf" x="622.1" y="186.8" width="7" height="3.4"/>
<rect class="pf" x="619.6" y="195.1" width="7" height="3.4"/>
<rect class="pf" x="617.1" y="199.4" width="7" height="3.4"/>
<rect class="pf" x="614.6" y="207" width="7" height="3.4"/>
<rect class="pf" x="612.1" y="212.8" width="7" height="3.4"/>
<rect class="pf" x="624.7" y="214" width="7" height="3.4"/>
<rect class="pf" x="627.2" y="217" width="7" height="3.4"/>
<rect class="pf" x="620.9" y="219" width="7" height="3.4"/>
<rect class="pf" x="617.1" y="222.1" width="7" height="3.4"/>
<rect class="pf" x="609.6" y="218.5" width="7" height="3.4"/>
<rect class="pf" x="607" y="226.6" width="7" height="3.4"/>
<rect class="pf" x="612.1" y="229.1" width="7" height="3.4"/>
<rect class="pf" x="604.5" y="232.9" width="7" height="3.4"/>
<rect class="pf" x="609.6" y="234.1" width="7" height="3.4"/>
<rect class="pf" x="602" y="237.2" width="7" height="3.4"/>
<rect class="pf" x="607" y="239.2" width="7" height="3.4"/>
<rect class="pf" x="604.5" y="244.2" width="7" height="3.4"/>
<rect class="pf" x="602" y="250.5" width="7" height="3.4"/>
<rect class="pf" x="597" y="255.5" width="7" height="3.4"/>
<rect class="pf" x="597.47" y="258.29" width="7" height="3.4"/>
<rect class="pf" x="595.93" y="257.96" width="7" height="3.4"/>
<rect class="pf" x="593.81" y="261.77" width="7" height="3.4"/>
<rect class="pf" x="591.99" y="260.94" width="7" height="3.4"/>
<rect class="pf" x="595.57" y="262.99" width="7" height="3.4"/>
<rect class="pf" x="595.68" y="266.58" width="7" height="3.4"/>
<rect class="pf" x="596.22" y="266.05" width="7" height="3.4"/>
<rect class="pf" x="592.48" y="266.55" width="7" height="3.4"/>
<rect class="pf" x="590.88" y="270.41" width="7" height="3.4"/>
<rect class="pf" x="593.71" y="273" width="7" height="3.4"/>
<rect class="pf" x="596.54" y="272.97" width="7" height="3.4"/>
<rect class="pf" x="586.76" y="271.58" width="7" height="3.4"/>
<rect class="pf" x="588.68" y="271.68" width="7" height="3.4"/>
<rect class="pf" x="590.02" y="274.62" width="7" height="3.4"/>
<rect class="pf" x="589.54" y="278.25" width="7" height="3.4"/>
<rect class="pf" x="586.71" y="275.27" width="7" height="3.4"/>
<rect class="pf" x="590.26" y="278.69" width="7" height="3.4"/>
<rect class="pf" x="587.84" y="281.39" width="7" height="3.4"/>
<rect class="pf" x="593.71" y="285.17" width="7" height="3.4"/>
<rect class="pf" x="583.43" y="281.62" width="7" height="3.4"/>
<rect class="pf" x="583.5" y="283.68" width="7" height="3.4"/>
<rect class="pf" x="586.3" y="284.9" width="7" height="3.4"/>
<rect class="pf" x="581.83" y="287.48" width="7" height="3.4"/>
<rect class="pf" x="585.53" y="287.84" width="7" height="3.4"/>
<rect class="pf" x="579.91" y="288.85" width="7" height="3.4"/>
<rect class="pf" x="581.39" y="292.22" width="7" height="3.4"/>
<rect class="pf" x="582.61" y="294.18" width="7" height="3.4"/>
<rect class="pf" x="582.84" y="292.35" width="7" height="3.4"/>
<rect class="pf" x="578.26" y="291.15" width="7" height="3.4"/>
<rect class="pf" x="578.96" y="296.17" width="7" height="3.4"/>
<rect class="pf" x="576.84" y="294.57" width="7" height="3.4"/>
<rect class="pf" x="581.49" y="298.87" width="7" height="3.4"/>
<rect class="pf" x="577.66" y="297.84" width="7" height="3.4"/>
<rect class="pf" x="577.79" y="299.74" width="7" height="3.4"/>
<rect class="pf" x="572.9" y="300.18" width="7" height="3.4"/>
<rect class="pf" x="578.53" y="303.58" width="7" height="3.4"/>
<rect class="pf" x="573.19" y="305.16" width="7" height="3.4"/>
<rect class="pf" x="573.39" y="303.92" width="7" height="3.4"/>
<rect class="pf" x="571.18" y="305.11" width="7" height="3.4"/>
<rect class="pf" x="571.69" y="306.64" width="7" height="3.4"/>
<rect class="pf" x="569.41" y="307.91" width="7" height="3.4"/>
<rect class="pf" x="567.96" y="310.17" width="7" height="3.4"/>
<rect class="pf" x="571.59" y="314.38" width="7" height="3.4"/>
<rect class="pf" x="572.93" y="315.01" width="7" height="3.4"/>
<rect class="pf" x="568.93" y="312.02" width="7" height="3.4"/>
<rect class="pf" x="566.94" y="316.06" width="7" height="3.4"/>
<rect class="pf" x="566.17" y="316.25" width="7" height="3.4"/>
<rect class="pf" x="566.28" y="317.67" width="7" height="3.4"/>
<rect class="pf" x="566.03" y="318.44" width="7" height="3.4"/>
<rect class="pf" x="566.35" y="322.76" width="7" height="3.4"/>
<rect class="pf" x="569.58" y="322.09" width="7" height="3.4"/>
<rect class="pf" x="563.9" y="324.05" width="7" height="3.4"/>
<rect class="pf" x="563.56" y="324.81" width="7" height="3.4"/>
<rect class="pf" x="565.66" y="328.87" width="7" height="3.4"/>
<rect class="pf" x="563.79" y="326.51" width="7" height="3.4"/>
<rect class="pf" x="564.92" y="331.55" width="7" height="3.4"/>
<rect class="pf" x="558.26" y="326.38" width="7" height="3.4"/>
<rect class="pf" x="563.88" y="332.79" width="7" height="3.4"/>
<rect class="pf" x="560.29" y="332.24" width="7" height="3.4"/>
<rect class="pf" x="554.33" y="329.7" width="7" height="3.4"/>
<rect class="pf" x="562.86" y="334.8" width="7" height="3.4"/>
<rect class="pf" x="561.35" y="339.36" width="7" height="3.4"/>
<rect class="pf" x="557.59" y="337.7" width="7" height="3.4"/>
<rect class="pf" x="550.73" y="333.89" width="7" height="3.4"/>
<rect class="pf" x="552.56" y="336.19" width="7" height="3.4"/>
<rect class="pf" x="552.65" y="339.48" width="7" height="3.4"/>
<rect class="pf" x="555.07" y="339.37" width="7" height="3.4"/>
<rect class="pf" x="553.14" y="340.7" width="7" height="3.4"/>
<rect class="pf" x="553.21" y="344.75" width="7" height="3.4"/>
<rect class="pf" x="548" y="343.9" width="7" height="3.4"/>
<rect class="pf" x="546.42" y="341.26" width="7" height="3.4"/>
<rect class="pf" x="546.88" y="345.36" width="7" height="3.4"/>
<rect class="pf" x="544.35" y="343.07" width="7" height="3.4"/>
<rect class="pf" x="540.16" y="344.16" width="7" height="3.4"/>
<rect class="pf" x="543.29" y="346.88" width="7" height="3.4"/>
<rect class="pf" x="545.55" y="351.15" width="7" height="3.4"/>
<rect class="pf" x="548.88" y="352.8" width="7" height="3.4"/>
<rect class="pf" x="539.74" y="351.66" width="7" height="3.4"/>
<rect class="pf" x="543.74" y="356.25" width="7" height="3.4"/>
<rect class="pf" x="539.18" y="351.75" width="7" height="3.4"/>
<rect class="pf" x="546.34" y="357.98" width="7" height="3.4"/>
<rect class="pf" x="538.49" y="357.41" width="7" height="3.4"/>
<rect class="pf" x="536.01" y="356.61" width="7" height="3.4"/>
<rect class="pf" x="539.23" y="358.07" width="7" height="3.4"/>
<rect class="pf" x="537.34" y="359.8" width="7" height="3.4"/>
<rect class="pf" x="578.48" y="266.97" width="7" height="3.4"/>
<rect class="pf" x="579.5" y="272.58" width="7" height="3.4"/>
<rect class="pf" x="575.68" y="275.77" width="7" height="3.4"/>
<rect class="pf" x="574.47" y="280" width="7" height="3.4"/>
<rect class="pf" x="573.58" y="279.37" width="7" height="3.4"/>
<rect class="pf" x="567.36" y="283.92" width="7" height="3.4"/>
<rect class="pf" x="568.21" y="287.31" width="7" height="3.4"/>
<rect class="pf" x="567.55" y="290" width="7" height="3.4"/>
<rect class="pf" x="566.49" y="292.87" width="7" height="3.4"/>
<rect class="pf" x="560.08" y="294.9" width="7" height="3.4"/>
<rect class="pf" x="561.63" y="299.09" width="7" height="3.4"/>
<rect class="pf" x="557.95" y="300.78" width="7" height="3.4"/>
<rect class="pf" x="557.25" y="306.08" width="7" height="3.4"/>
<rect class="pf" x="557.73" y="311.5" width="7" height="3.4"/>
<rect class="pf" x="556.12" y="316.37" width="7" height="3.4"/>
<rect class="pf" x="551.27" y="316.56" width="7" height="3.4"/>
<rect class="pf" x="549.05" y="317.21" width="7" height="3.4"/>
<rect class="pf" x="552.54" y="322.76" width="7" height="3.4"/>
<rect class="pf" x="546.85" y="324.51" width="7" height="3.4"/>
<rect class="pf" x="547.06" y="329.29" width="7" height="3.4"/>
<rect class="pf" x="540.66" y="331.15" width="7" height="3.4"/>
<rect class="pf" x="541.09" y="336.03" width="7" height="3.4"/>
<rect class="po" x="619.6" y="175.8" width="7" height="3.4"/>
<rect class="po" x="617.6" y="188.8" width="7" height="3.4"/>
<rect class="po" x="613.3" y="198.9" width="7" height="3.4"/>
<rect class="po" x="609.6" y="206" width="7" height="3.4"/>
<rect class="po" x="606.5" y="211.5" width="7" height="3.4"/>
<rect class="po" x="603.3" y="219" width="7" height="3.4"/>
<rect class="po" x="600.8" y="224.1" width="7" height="3.4"/>
<rect class="po" x="598.2" y="231.6" width="7" height="3.4"/>
<rect class="po" x="595.7" y="237.9" width="7" height="3.4"/>
<rect class="po" x="593.2" y="244.2" width="7" height="3.4"/>
<rect class="po" x="590.7" y="249.3" width="7" height="3.4"/>
<rect class="po" x="585.5" y="260.3" width="7" height="3.4"/>
<rect class="po" x="581" y="271.3" width="7" height="3.4"/>
<rect class="po" x="576.5" y="282.3" width="7" height="3.4"/>
<rect class="po" x="571.5" y="293.3" width="7" height="3.4"/>
<rect class="po" x="565.5" y="303.3" width="7" height="3.4"/>
<rect class="po" x="559.5" y="313.3" width="7" height="3.4"/>
<rect class="po" x="553.5" y="323.3" width="7" height="3.4"/>
<rect class="po" x="547.5" y="332.3" width="7" height="3.4"/>
<rect class="po" x="541.5" y="341.3" width="7" height="3.4"/>
<rect class="po" x="566.5" y="298.3" width="7" height="3.4"/>
<rect class="po" x="562.5" y="305.3" width="7" height="3.4"/>
<rect class="pf" x="522.5" y="348.3" width="7" height="3.4"/>
<rect class="pf" x="527.5" y="350.8" width="7" height="3.4"/>
<rect class="pf" x="525.5" y="345.8" width="7" height="3.4"/>
<rect class="pf" x="531.5" y="347.3" width="7" height="3.4"/>
<path d="M449.48,81.24 L449.83,85.29 L450.17,89.31 L450.52,93.29 L450.87,97.23 L451.22,101.13 L451.57,105 L451.91,108.72 L452.26,112.38 L452.61,116.01 L452.96,119.61 L453.31,123.18 L453.65,126.71 L454,130.21 L454.35,133.67 L454.7,137.1 L455.05,140.42 L455.4,143.56 L455.74,146.68 L456.09,149.77 L456.44,152.83 L456.79,155.86 L457.14,158.87 L457.48,161.85 L457.83,164.81 L458.18,167.73 L458.53,170.63 L458.88,173.51 L459.22,176.36 L459.57,179.18 L459.92,181.97 L460.27,184.74 L460.62,187.49 L460.96,190.21 L461.31,192.9 L461.66,195.56 L462.01,198.21 L462.36,200.82 L462.71,203.41 L463.05,205.97 L463.4,208.51 L463.75,211.03 L464.1,213.52 L464.45,215.98 L464.79,218.42 L465.14,220.83 L465.49,223.22 L465.84,225.59 L466.19,227.93 L466.53,230.24 L466.88,232.54 L467.23,234.8 L467.58,237.05 L467.93,239.27 L468.28,241.46 L468.62,243.63 L468.97,245.78 L469.32,247.91 L469.67,250.01 L470.02,252.08 L470.36,254.13 L470.71,256.15 L471.06,258.15 L471.41,260.12 L471.76,262.07 L472.1,264 L472.45,265.91 L472.8,267.79 L473.15,269.66 L473.5,271.5 L473.85,273.31 L474.19,275.11 L474.54,276.88 L474.89,278.64 L475.24,279.84 L475.59,280.89 L475.93,281.94 L476.28,282.99 L476.63,284.03 L476.98,285.06 L477.33,286.09 L477.67,287.12 L478.02,288.14 L478.37,289.16 L478.72,290.17 L479.07,291.74 L479.42,293.47 L479.76,295.17 L480.11,296.84 L480.46,298.49 L480.81,300.11 L481.16,301.71 L481.5,303.28 L481.85,304.82 L482.2,306.34 L482.55,307.84 L482.9,309.31 L483.24,310.75 L483.59,312.17 L483.94,313.57 L484.29,314.94 L484.64,316.29 L484.98,317.62 L485.33,318.92 L485.68,320.2 L486.03,321.45 L486.38,322.69 L486.73,323.9 L487.07,325.03 L487.42,325.91 L487.77,326.78 L488.12,327.64 L488.47,328.49 L488.81,329.33 L489.16,330.15 L489.51,330.97 L489.86,331.78 L490.21,332.58 L490.55,333.37 L490.9,334.14 L491.25,334.91 L491.6,335.67 L491.95,336.41 L492.3,337.15 L492.64,337.88 L492.99,338.59 L493.34,339.3 L493.69,340 L494.04,340.68 L494.38,341.36 L494.73,342.03 L495.08,342.68 L495.43,343.33 L495.78,343.96 L496.12,344.59 L496.47,345.2 L496.82,345.81 L497.17,346.4 L497.52,346.99 L497.87,347.57 L498.21,348.13 L498.56,348.69 L498.91,349.23 L499.26,349.77 L499.61,350.29 L499.95,350.81 L500.3,351.32 L500.65,351.81 L501,352.3 L501.35,352.77 L501.69,353.24 L502.04,353.7 L502.39,354.14 L502.74,354.58 L503.09,355.01 L503.43,355.43 L503.78,355.83 L504.13,356.23 L504.48,356.62 L504.83,357 L505.18,357.36 L505.52,357.72 L505.87,358.07 L506.22,358.41 L506.57,358.75 L506.92,359.07 L507.26,359.38 L507.61,359.68 L507.96,359.97 L508.31,360.26 L508.66,360.53 L509,360.79 L509.35,361.04 L509.7,361.29 L510.05,361.52 L510.4,361.75 L510.75,361.96 L511.09,362.17 L511.44,362.37 L511.79,362.55 L512.14,362.73 L512.49,362.9 L512.83,363.06 L513.18,363.21 L513.53,363.35 L513.88,363.48 L514.23,363.6 L514.57,363.71 L514.92,363.82 L515.27,363.91 L515.62,364 L515.97,364.08 L516.32,364.15 L516.66,364.21 L517.01,364.26 L517.36,364.3 L517.71,364.34 L518.06,364.36 L518.4,364.38 L518.75,364.4 L519.1,364.4" fill="none" stroke="#000" stroke-width="1.7" stroke-dasharray="5.5 3"/>
<path d="M519.1,364.4 L519.78,364.38 L520.46,364.33 L521.14,364.25 L521.82,364.14 L522.5,364.02 L523.18,363.86 L523.86,363.67 L524.54,363.46 L525.23,363.21 L525.91,362.95 L526.59,362.68 L527.27,362.38 L527.95,362.07 L528.63,361.71 L529.31,361.31 L529.99,360.9 L530.67,360.45 L531.35,359.98 L532.03,359.49 L532.71,358.96 L533.39,358.42 L534.07,357.83 L534.75,357.14 L535.43,356.42 L536.12,355.66 L536.8,354.85 L537.48,354.01 L538.16,353.13 L538.84,352.21 L539.52,351.25 L540.2,350.25 L540.88,349.21 L541.56,348.12 L542.24,347 L542.92,345.83 L543.6,344.63 L544.28,343.38 L544.96,342.08 L545.64,340.75 L546.32,339.37 L547,338.25 L547.69,337.23 L548.37,336.19 L549.05,335.13 L549.73,334.07 L550.41,332.98 L551.09,331.89 L551.77,330.78 L552.45,329.65 L553.13,328.51 L553.81,327.36 L554.49,326.2 L555.17,325.02 L555.85,323.83 L556.53,322.62 L557.21,321.4 L557.89,320.17 L558.58,318.93 L559.26,317.67 L559.94,316.4 L560.62,315.12 L561.3,313.89 L561.98,312.75 L562.66,311.6 L563.34,310.45 L564.02,309.29 L564.7,308.12 L565.38,306.94 L566.06,305.76 L566.74,304.57 L567.42,303.37 L568.1,302.17 L568.78,300.96 L569.46,299.75 L570.15,298.52 L570.83,297.29 L571.51,296.06 L572.19,294.82 L572.87,293.57 L573.55,292.31 L574.23,291.05 L574.91,289.79 L575.59,288.56 L576.27,287.33 L576.95,286.1 L577.63,284.87 L578.31,283.62 L578.99,282.38 L579.67,281.13 L580.35,279.87 L581.04,278.61 L581.72,277.35 L582.4,276.08 L583.08,274.8 L583.76,273.52 L584.44,272.24 L585.12,270.95 L585.8,269.66 L586.48,268.36 L587.16,267.06 L587.84,265.75 L588.52,264.44 L589.2,263.13 L589.88,261.81 L590.56,260.49 L591.24,259.16 L591.93,257.83 L592.61,256.49 L593.29,254.89 L593.97,253.25 L594.65,251.59 L595.33,249.93 L596.01,248.26 L596.69,246.58 L597.37,244.88 L598.05,243.18 L598.73,241.47 L599.41,239.75 L600.09,238.03 L600.77,236.29 L601.45,234.54 L602.13,232.79 L602.81,231.02 L603.5,229.25 L604.18,227.46 L604.86,225.67 L605.54,223.87 L606.22,222.06 L606.9,220.24 L607.58,218.41 L608.26,216.57 L608.94,214.73 L609.62,212.87 L610.3,211.01 L610.98,209.31 L611.66,207.63 L612.34,205.95 L613.02,204.26 L613.7,202.56 L614.39,200.86 L615.07,199.15 L615.75,197.43 L616.43,195.71 L617.11,193.99 L617.79,192.26 L618.47,190.52 L619.15,188.78 L619.83,187.03 L620.51,185.28 L621.19,183.52 L621.87,181.76 L622.55,179.99 L623.23,178.22 L623.91,176.44 L624.59,174.62 L625.27,172.75 L625.96,170.87 L626.64,168.99 L627.32,167.1 L628,165.2 L628.68,163.3 L629.36,161.39 L630.04,159.48 L630.72,157.56 L631.4,155.63 L632.08,153.7 L632.76,151.76 L633.44,149.82 L634.12,147.87 L634.8,145.91 L635.48,143.95 L636.16,141.98 L636.85,140 L637.53,138.02 L638.21,136.04 L638.89,134.04 L639.57,132.04 L640.25,130.04 L640.93,128.2 L641.61,126.65 L642.29,125.1 L642.97,123.54 L643.65,121.98 L644.33,120.43 L645.01,118.87 L645.69,117.3 L646.37,115.74 L647.05,114.18 L647.73,112.61 L648.42,111.05 L649.1,109.48 L649.78,107.91 L650.46,106.34 L651.14,104.61 L651.82,102.6 L652.5,100.58 L653.18,98.56 L653.86,96.54 L654.54,94.51 L655.22,92.47" fill="none" stroke="#000" stroke-width="1.7" stroke-dasharray="5.5 3"/>
<circle class="bl" cx="468.9" cy="266.8" r="2.5"/>
<circle class="bl" cx="471" cy="271" r="2.5"/>
<circle class="bl" cx="473.1" cy="277.2" r="2.5"/>
<circle class="bl" cx="475.2" cy="283.5" r="2.5"/>
<circle class="bl" cx="476.4" cy="290" r="2.5"/>
<circle class="bl" cx="477.2" cy="295.5" r="2.5"/>
<circle class="bl" cx="478.2" cy="301" r="2.5"/>
<circle class="bl" cx="479.6" cy="306" r="2.5"/>
<circle class="bl" cx="481" cy="311" r="2.5"/>
<circle class="bl" cx="482.5" cy="316" r="2.5"/>
<circle class="bl" cx="484" cy="320.5" r="2.5"/>
<circle class="bt" cx="479.35" cy="320.78" r="2.5"/>
<circle class="bt" cx="473.83" cy="324.42" r="2.5"/>
<circle class="bt" cx="475.43" cy="323.82" r="2.5"/>
<circle class="bt" cx="480.17" cy="320.74" r="2.5"/>
<circle class="bt" cx="477.68" cy="324.34" r="2.5"/>
<circle class="bt" cx="481.92" cy="321.65" r="2.5"/>
<circle class="bt" cx="480.56" cy="323.88" r="2.5"/>
<circle class="bt" cx="482.02" cy="324.09" r="2.5"/>
<circle class="bt" cx="478.18" cy="324.98" r="2.5"/>
<circle class="bt" cx="478.36" cy="326.66" r="2.5"/>
<circle class="bt" cx="482.34" cy="325.27" r="2.5"/>
<circle class="bt" cx="475.11" cy="328.38" r="2.5"/>
<circle class="bt" cx="483.75" cy="326.38" r="2.5"/>
<circle class="bt" cx="479.91" cy="327.93" r="2.5"/>
<circle class="bt" cx="482.61" cy="328.03" r="2.5"/>
<circle class="bt" cx="481.6" cy="329.02" r="2.5"/>
<circle class="bt" cx="480.34" cy="329.34" r="2.5"/>
<circle class="bt" cx="481.09" cy="329.83" r="2.5"/>
<circle class="bt" cx="483.39" cy="328.13" r="2.5"/>
<circle class="bt" cx="478.82" cy="332.77" r="2.5"/>
<circle class="bt" cx="480.37" cy="331.19" r="2.5"/>
<circle class="bt" cx="481.88" cy="331.41" r="2.5"/>
<circle class="bt" cx="483.27" cy="330.91" r="2.5"/>
<circle class="bt" cx="483.42" cy="332.28" r="2.5"/>
<circle class="bt" cx="486.91" cy="331.53" r="2.5"/>
<circle class="bt" cx="488.47" cy="331.94" r="2.5"/>
<circle class="bt" cx="482.92" cy="333.41" r="2.5"/>
<circle class="bt" cx="485.12" cy="333.23" r="2.5"/>
<circle class="bt" cx="484.49" cy="335.29" r="2.5"/>
<circle class="bt" cx="488.13" cy="333.88" r="2.5"/>
<circle class="bt" cx="485.1" cy="335.84" r="2.5"/>
<circle class="bt" cx="487.37" cy="334.76" r="2.5"/>
<circle class="bt" cx="482.67" cy="338.88" r="2.5"/>
<circle class="bt" cx="481.92" cy="338.49" r="2.5"/>
<circle class="bt" cx="489.73" cy="336.17" r="2.5"/>
<circle class="bt" cx="484.96" cy="338.96" r="2.5"/>
<circle class="bt" cx="483.5" cy="340.05" r="2.5"/>
<circle class="bt" cx="480.94" cy="341.99" r="2.5"/>
<circle class="bt" cx="485.41" cy="340.44" r="2.5"/>
<circle class="bt" cx="485.64" cy="340.69" r="2.5"/>
<circle class="bt" cx="489.21" cy="339.92" r="2.5"/>
<circle class="bt" cx="484.84" cy="342.87" r="2.5"/>
<circle class="bt" cx="486.12" cy="342.31" r="2.5"/>
<circle class="bt" cx="486.37" cy="343.98" r="2.5"/>
<circle class="bt" cx="488.36" cy="342.66" r="2.5"/>
<circle class="bt" cx="490.95" cy="341.37" r="2.5"/>
<circle class="bt" cx="486.9" cy="345.43" r="2.5"/>
<circle class="bt" cx="488.82" cy="344.26" r="2.5"/>
<circle class="bt" cx="487.46" cy="345.84" r="2.5"/>
<circle class="bt" cx="486.8" cy="347.47" r="2.5"/>
<circle class="bt" cx="486.1" cy="346.42" r="2.5"/>
<circle class="bt" cx="488.56" cy="346.19" r="2.5"/>
<circle class="bt" cx="486.38" cy="348.18" r="2.5"/>
<circle class="bt" cx="490.3" cy="346.91" r="2.5"/>
<circle class="bt" cx="490.84" cy="348.09" r="2.5"/>
<circle class="bt" cx="491.4" cy="347.07" r="2.5"/>
<circle class="bt" cx="490.32" cy="348.39" r="2.5"/>
<circle class="bt" cx="492.53" cy="348.65" r="2.5"/>
<circle class="bt" cx="490.17" cy="350.18" r="2.5"/>
<circle class="bt" cx="490.54" cy="350.87" r="2.5"/>
<circle class="bt" cx="490.47" cy="351.74" r="2.5"/>
<circle class="bt" cx="495.62" cy="349.8" r="2.5"/>
<circle class="bt" cx="492.78" cy="351.78" r="2.5"/>
<circle class="bt" cx="492.18" cy="353.24" r="2.5"/>
<circle class="bt" cx="489.52" cy="355.08" r="2.5"/>
<circle class="bt" cx="493.75" cy="353.78" r="2.5"/>
<circle class="bt" cx="491.76" cy="355.44" r="2.5"/>
<circle class="bt" cx="488.83" cy="355.94" r="2.5"/>
<circle class="bt" cx="493.16" cy="354.21" r="2.5"/>
<circle class="bt" cx="493.68" cy="354.8" r="2.5"/>
<circle class="bt" cx="495.08" cy="354.39" r="2.5"/>
<circle class="bt" cx="497.54" cy="355.42" r="2.5"/>
<circle class="bt" cx="492.45" cy="357" r="2.5"/>
<circle class="bt" cx="494.73" cy="357.1" r="2.5"/>
<circle class="bt" cx="494.99" cy="357.13" r="2.5"/>
<circle class="bt" cx="490.94" cy="360.85" r="2.5"/>
<circle class="bt" cx="497.8" cy="356.76" r="2.5"/>
<circle class="bt" cx="495.54" cy="359.38" r="2.5"/>
<circle class="bt" cx="498.39" cy="358.97" r="2.5"/>
<circle class="bt" cx="495.03" cy="360.16" r="2.5"/>
<circle class="bt" cx="495.58" cy="360.16" r="2.5"/>
<circle class="bt" cx="499.23" cy="360.1" r="2.5"/>
<circle class="bt" cx="496.81" cy="361.02" r="2.5"/>
<circle class="bt" cx="495.77" cy="362.24" r="2.5"/>
<circle class="bt" cx="493.89" cy="364.81" r="2.5"/>
<circle class="bt" cx="473.8" cy="325.8" r="2.5"/>
<circle class="bt" cx="472.5" cy="329" r="2.5"/>
<circle class="bt" cx="476" cy="334" r="2.5"/>
<circle class="bt" cx="478" cy="339" r="2.5"/>
<polyline points="594,252 589,263 583,276.5 576,289.5 568,302.5 561,314.5 554,326 547,337 541,345.5 536,351.5" fill="none" stroke="#1f77b4" stroke-width="4.2" stroke-opacity="0.9" stroke-linejoin="round"/>
<circle class="bt" cx="593.06" cy="251.94" r="2.4"/>
<circle class="bt" cx="592.85" cy="252.75" r="2.4"/>
<circle class="bt" cx="593.11" cy="252.65" r="2.4"/>
<circle class="bt" cx="594.19" cy="254.01" r="2.4"/>
<circle class="bt" cx="594.32" cy="255.03" r="2.4"/>
<circle class="bt" cx="591.79" cy="253.63" r="2.4"/>
<circle class="bt" cx="591.23" cy="255.74" r="2.4"/>
<circle class="bt" cx="592.39" cy="256.58" r="2.4"/>
<circle class="bt" cx="591.86" cy="257.82" r="2.4"/>
<circle class="bt" cx="590.68" cy="256.88" r="2.4"/>
<circle class="bt" cx="587.54" cy="257.07" r="2.4"/>
<circle class="bt" cx="589.75" cy="259.57" r="2.4"/>
<circle class="bt" cx="588.49" cy="259.64" r="2.4"/>
<circle class="bt" cx="591.3" cy="261.11" r="2.4"/>
<circle class="bt" cx="593.39" cy="263.34" r="2.4"/>
<circle class="bt" cx="588.88" cy="262.6" r="2.4"/>
<circle class="bt" cx="586.83" cy="261.37" r="2.4"/>
<circle class="bt" cx="589.46" cy="264.48" r="2.4"/>
<circle class="bt" cx="590.44" cy="265.83" r="2.4"/>
<circle class="bt" cx="585.73" cy="264.8" r="2.4"/>
<circle class="bt" cx="587.05" cy="265.81" r="2.4"/>
<circle class="bt" cx="589.73" cy="267.17" r="2.4"/>
<circle class="bt" cx="585.47" cy="266.89" r="2.4"/>
<circle class="bt" cx="586" cy="267.41" r="2.4"/>
<circle class="bt" cx="587.92" cy="268.08" r="2.4"/>
<circle class="bt" cx="584.19" cy="268.66" r="2.4"/>
<circle class="bt" cx="583.79" cy="268.49" r="2.4"/>
<circle class="bt" cx="586.19" cy="270.59" r="2.4"/>
<circle class="bt" cx="586.54" cy="272.29" r="2.4"/>
<circle class="bt" cx="585.57" cy="272.13" r="2.4"/>
<circle class="bt" cx="585.44" cy="274.25" r="2.4"/>
<circle class="bt" cx="585.67" cy="274.68" r="2.4"/>
<circle class="bt" cx="581.4" cy="274.17" r="2.4"/>
<circle class="bt" cx="583.01" cy="275.18" r="2.4"/>
<circle class="bt" cx="583.76" cy="275.3" r="2.4"/>
<circle class="bt" cx="582.84" cy="275.62" r="2.4"/>
<circle class="bt" cx="581.72" cy="276.28" r="2.4"/>
<circle class="bt" cx="581.1" cy="278.04" r="2.4"/>
<circle class="bt" cx="585.37" cy="280.41" r="2.4"/>
<circle class="bt" cx="581.48" cy="279.25" r="2.4"/>
<circle class="bt" cx="582.19" cy="281.48" r="2.4"/>
<circle class="bt" cx="582.99" cy="280.71" r="2.4"/>
<circle class="bt" cx="580.14" cy="281.24" r="2.4"/>
<circle class="bt" cx="579.91" cy="282.76" r="2.4"/>
<circle class="bt" cx="580.69" cy="282.31" r="2.4"/>
<circle class="bt" cx="579.01" cy="283.05" r="2.4"/>
<circle class="bt" cx="575.51" cy="282.32" r="2.4"/>
<circle class="bt" cx="577.27" cy="283.72" r="2.4"/>
<circle class="bt" cx="579.12" cy="285.84" r="2.4"/>
<circle class="bt" cx="578.66" cy="285.93" r="2.4"/>
<circle class="bt" cx="578.23" cy="287.42" r="2.4"/>
<circle class="bt" cx="577.16" cy="287.87" r="2.4"/>
<circle class="bt" cx="575.71" cy="287.02" r="2.4"/>
<circle class="bt" cx="576.54" cy="287.77" r="2.4"/>
<circle class="bt" cx="576.12" cy="288.69" r="2.4"/>
<circle class="bt" cx="576.34" cy="291.48" r="2.4"/>
<circle class="bt" cx="570.86" cy="288.66" r="2.4"/>
<circle class="bt" cx="572.86" cy="291.27" r="2.4"/>
<circle class="bt" cx="573.43" cy="290.49" r="2.4"/>
<circle class="bt" cx="574.6" cy="293.08" r="2.4"/>
<circle class="bt" cx="572.8" cy="294.05" r="2.4"/>
<circle class="bt" cx="570.84" cy="293.67" r="2.4"/>
<circle class="bt" cx="576.02" cy="297.27" r="2.4"/>
<circle class="bt" cx="571.06" cy="295.35" r="2.4"/>
<circle class="bt" cx="570.19" cy="295.23" r="2.4"/>
<circle class="bt" cx="570.11" cy="295.75" r="2.4"/>
<circle class="bt" cx="569.65" cy="295.78" r="2.4"/>
<circle class="bt" cx="570.37" cy="296.95" r="2.4"/>
<circle class="bt" cx="570.9" cy="298.95" r="2.4"/>
<circle class="bt" cx="571.25" cy="299.65" r="2.4"/>
<circle class="bt" cx="571.27" cy="301.33" r="2.4"/>
<circle class="bt" cx="567.7" cy="299.92" r="2.4"/>
<circle class="bt" cx="565.8" cy="300.83" r="2.4"/>
<circle class="bt" cx="568.98" cy="301.86" r="2.4"/>
<circle class="bt" cx="566.19" cy="300.76" r="2.4"/>
<circle class="bt" cx="568.66" cy="304.34" r="2.4"/>
<circle class="bt" cx="567.31" cy="303.84" r="2.4"/>
<circle class="bt" cx="564.34" cy="303.49" r="2.4"/>
<circle class="bt" cx="567.55" cy="306.33" r="2.4"/>
<circle class="bt" cx="567.73" cy="306.4" r="2.4"/>
<circle class="bt" cx="562.52" cy="304.4" r="2.4"/>
<circle class="bt" cx="564.93" cy="308.16" r="2.4"/>
<circle class="bt" cx="563.97" cy="306.56" r="2.4"/>
<circle class="bt" cx="563.8" cy="308.26" r="2.4"/>
<circle class="bt" cx="562.24" cy="308.71" r="2.4"/>
<circle class="bt" cx="562.74" cy="308.63" r="2.4"/>
<circle class="bt" cx="564.16" cy="310.39" r="2.4"/>
<circle class="bt" cx="564" cy="312.46" r="2.4"/>
<circle class="bt" cx="563.24" cy="312.32" r="2.4"/>
<circle class="bt" cx="561.81" cy="312.32" r="2.4"/>
<circle class="bt" cx="560.85" cy="313.59" r="2.4"/>
<circle class="bt" cx="561.84" cy="313.62" r="2.4"/>
<circle class="bt" cx="561.98" cy="316.2" r="2.4"/>
<circle class="bt" cx="562.16" cy="315.82" r="2.4"/>
<circle class="bt" cx="560.02" cy="315.97" r="2.4"/>
<circle class="bt" cx="557.04" cy="315" r="2.4"/>
<circle class="bt" cx="557.66" cy="316.92" r="2.4"/>
<circle class="bt" cx="558.68" cy="318.17" r="2.4"/>
<circle class="bt" cx="556.72" cy="318.39" r="2.4"/>
<circle class="bt" cx="558.69" cy="319.57" r="2.4"/>
<circle class="bt" cx="557.48" cy="319.13" r="2.4"/>
<circle class="bt" cx="557.89" cy="320.24" r="2.4"/>
<circle class="bt" cx="558.71" cy="322.74" r="2.4"/>
<circle class="bt" cx="556.29" cy="321.61" r="2.4"/>
<circle class="bt" cx="554.77" cy="322.73" r="2.4"/>
<circle class="bt" cx="554.9" cy="323.45" r="2.4"/>
<circle class="bt" cx="556.27" cy="323.8" r="2.4"/>
<circle class="bt" cx="552.43" cy="323.88" r="2.4"/>
<circle class="bt" cx="553.73" cy="324.59" r="2.4"/>
<circle class="bt" cx="552.69" cy="325.86" r="2.4"/>
<circle class="bt" cx="552.08" cy="325.54" r="2.4"/>
<circle class="bt" cx="551.59" cy="326.63" r="2.4"/>
<circle class="bt" cx="549.45" cy="327.02" r="2.4"/>
<circle class="bt" cx="553.42" cy="329.33" r="2.4"/>
<circle class="bt" cx="551.91" cy="330.16" r="2.4"/>
<circle class="bt" cx="550.42" cy="329.18" r="2.4"/>
<circle class="bt" cx="549.73" cy="330.93" r="2.4"/>
<circle class="bt" cx="551.36" cy="331.53" r="2.4"/>
<circle class="bt" cx="551.2" cy="332.36" r="2.4"/>
<circle class="bt" cx="548.84" cy="331.84" r="2.4"/>
<circle class="bt" cx="551.88" cy="334.23" r="2.4"/>
<circle class="bt" cx="549.81" cy="334.66" r="2.4"/>
<circle class="bt" cx="548.91" cy="335.71" r="2.4"/>
<circle class="bt" cx="548.12" cy="335.95" r="2.4"/>
<circle class="bt" cx="547.31" cy="336.64" r="2.4"/>
<circle class="bt" cx="546.94" cy="336.47" r="2.4"/>
<circle class="bt" cx="549.93" cy="339.45" r="2.4"/>
<circle class="bt" cx="547.64" cy="339.12" r="2.4"/>
<circle class="bt" cx="544.07" cy="338.05" r="2.4"/>
<circle class="bt" cx="544.55" cy="339.26" r="2.4"/>
<circle class="bt" cx="543.66" cy="337.91" r="2.4"/>
<circle class="bt" cx="543.15" cy="340.47" r="2.4"/>
<circle class="bt" cx="545.18" cy="340.8" r="2.4"/>
<circle class="bt" cx="544.08" cy="342.59" r="2.4"/>
<circle class="bt" cx="543.17" cy="342.69" r="2.4"/>
<circle class="bt" cx="541.7" cy="342.92" r="2.4"/>
<circle class="bt" cx="542.35" cy="343.71" r="2.4"/>
<circle class="bt" cx="543.57" cy="345.02" r="2.4"/>
<circle class="bt" cx="541.84" cy="346.31" r="2.4"/>
<circle class="bt" cx="542.53" cy="346.67" r="2.4"/>
<circle class="bt" cx="541.16" cy="347.25" r="2.4"/>
<circle class="bt" cx="542.99" cy="348.97" r="2.4"/>
<circle class="bt" cx="540.52" cy="349.02" r="2.4"/>
<circle class="bt" cx="540.94" cy="350.32" r="2.4"/>
<circle class="bt" cx="535.95" cy="347.25" r="2.4"/>
<circle class="bt" cx="540.05" cy="351.18" r="2.4"/>
<circle class="bt" cx="538.26" cy="350.4" r="2.4"/>
<circle class="bt" cx="539.49" cy="352.17" r="2.4"/>
<circle class="bt" cx="535.62" cy="349.96" r="2.4"/>
<circle class="bt" cx="534.39" cy="350.66" r="2.4"/>
<rect class="pf" x="468.6" y="317.5" width="7" height="3.4"/>
<rect class="pf" x="470.7" y="321.7" width="7" height="3.4"/>
<rect class="pf" x="473.8" y="326.9" width="7" height="3.4"/>
<rect class="pf" x="477" y="332.1" width="7" height="3.4"/>
<rect class="pf" x="480.1" y="336.3" width="7" height="3.4"/>
<rect class="pf" x="482.2" y="340.5" width="7" height="3.4"/>
<rect class="pf" x="465.4" y="326.5" width="7" height="3.4"/>
<rect class="pf" x="468.1" y="332.3" width="7" height="3.4"/>
<rect class="pf" x="472.3" y="335.1" width="7" height="3.4"/>
<rect class="pf" x="475.7" y="338.5" width="7" height="3.4"/>
<rect class="pf" x="479.1" y="341.3" width="7" height="3.4"/>
<rect class="pf" x="480.5" y="344.7" width="7" height="3.4"/>
<rect class="pf" x="469.5" y="321.3" width="7" height="3.4"/>
<rect class="pf" x="472.3" y="325.4" width="7" height="3.4"/>
<rect class="pf" x="484.5" y="347.3" width="7" height="3.4"/>
<rect class="pf" x="486.5" y="351.3" width="7" height="3.4"/>
<rect class="pf" x="482.5" y="349.3" width="7" height="3.4"/>
<rect class="pf" x="488.5" y="355.3" width="7" height="3.4"/>
<rect class="pf" x="474.5" y="343.3" width="7" height="3.4"/>
<rect class="pf" x="477.5" y="346.3" width="7" height="3.4"/>
<circle class="ct" cx="495.47" cy="338.3" r="2.6"/>
<circle class="ct" cx="495.32" cy="339.19" r="2.6"/>
<circle class="ct" cx="495.88" cy="339.43" r="2.6"/>
<circle class="ct" cx="496.82" cy="339.84" r="2.6"/>
<circle class="ct" cx="498.55" cy="339.51" r="2.6"/>
<circle class="ct" cx="499.43" cy="340.05" r="2.6"/>
<circle class="ct" cx="499.41" cy="340.54" r="2.6"/>
<circle class="ct" cx="497.52" cy="343.79" r="2.6"/>
<circle class="ct" cx="496.88" cy="342.89" r="2.6"/>
<circle class="ct" cx="497.41" cy="343.81" r="2.6"/>
<circle class="ct" cx="498.8" cy="344.06" r="2.6"/>
<circle class="ct" cx="500.79" cy="344.02" r="2.6"/>
<circle class="ct" cx="498.98" cy="345.35" r="2.6"/>
<circle class="ct" cx="498.66" cy="347.59" r="2.6"/>
<circle class="ct" cx="502.25" cy="345.3" r="2.6"/>
<circle class="ct" cx="500.86" cy="347.27" r="2.6"/>
<circle class="ct" cx="497.49" cy="349.48" r="2.6"/>
<circle class="ct" cx="502.8" cy="347.42" r="2.6"/>
<circle class="ct" cx="499.36" cy="350.65" r="2.6"/>
<circle class="ct" cx="501.58" cy="349.41" r="2.6"/>
<circle class="ct" cx="498.62" cy="351.5" r="2.6"/>
<circle class="ct" cx="502.86" cy="350.64" r="2.6"/>
<circle class="ct" cx="503.67" cy="351.29" r="2.6"/>
<circle class="ct" cx="503.4" cy="353.26" r="2.6"/>
<circle class="ct" cx="503.29" cy="353.38" r="2.6"/>
<circle class="ct" cx="503.3" cy="353.78" r="2.6"/>
<circle class="ct" cx="503.18" cy="354.51" r="2.6"/>
<circle class="ct" cx="506.65" cy="353.12" r="2.6"/>
<circle class="ct" cx="503.74" cy="355.26" r="2.6"/>
<circle class="ct" cx="503.97" cy="356.23" r="2.6"/>
<circle class="ct" cx="508.16" cy="355.21" r="2.6"/>
<circle class="ct" cx="507" cy="357.4" r="2.6"/>
<circle class="ct" cx="507.08" cy="356.33" r="2.6"/>
<circle class="ct" cx="507.56" cy="358.13" r="2.6"/>
<circle class="ct" cx="505.69" cy="358.58" r="2.6"/>
<circle class="ct" cx="510.49" cy="357.02" r="2.6"/>
<circle class="ct" cx="508.1" cy="358.56" r="2.6"/>
<circle class="ct" cx="506.43" cy="361.4" r="2.6"/>
<circle class="ct" cx="512.35" cy="356.99" r="2.6"/>
<circle class="ct" cx="509.49" cy="361.52" r="2.6"/>
<circle class="ct" cx="511.69" cy="360.91" r="2.6"/>
<circle class="ct" cx="508.83" cy="363.78" r="2.6"/>
<circle class="ct" cx="510.2" cy="364.79" r="2.6"/>
<circle class="ct" cx="510.33" cy="363.55" r="2.6"/>
<circle class="ct" cx="513.25" cy="362.33" r="2.6"/>
<circle class="ct" cx="513.68" cy="363.6" r="2.6"/>
<circle class="ct" cx="513.38" cy="363.37" r="2.6"/>
<circle class="ct" cx="513.65" cy="364.49" r="2.6"/>
<circle class="ct" cx="514.97" cy="363.92" r="2.6"/>
<circle class="ct" cx="516.51" cy="363.16" r="2.6"/>
<circle class="ct" cx="516.04" cy="363.06" r="2.6"/>
<circle class="ct" cx="517.18" cy="366.58" r="2.6"/>
<circle class="ct" cx="518.09" cy="365.45" r="2.6"/>
<circle class="ct" cx="517.92" cy="365.29" r="2.6"/>
<circle class="ct" cx="518.93" cy="366.17" r="2.6"/>
<circle class="ct" cx="519.63" cy="368.77" r="2.6"/>
<circle class="ct" cx="519.6" cy="369.89" r="2.6"/>
<circle class="ct" cx="520.2" cy="365.64" r="2.6"/>
<circle class="ct" cx="521.69" cy="365.12" r="2.6"/>
<circle class="ct" cx="522.58" cy="367.64" r="2.6"/>
<circle class="ct" cx="522.43" cy="364.42" r="2.6"/>
<circle class="ct" cx="524.25" cy="367.23" r="2.6"/>
<circle class="ct" cx="524.06" cy="366.48" r="2.6"/>
<circle class="ct" cx="525.22" cy="368.64" r="2.6"/>
<circle class="ct" cx="526.33" cy="361.8" r="2.6"/>
<circle class="ct" cx="526.07" cy="363.75" r="2.6"/>
<circle class="ct" cx="528.25" cy="365.61" r="2.6"/>
<circle class="ct" cx="527.44" cy="365.55" r="2.6"/>
<circle class="ct" cx="528.85" cy="363.92" r="2.6"/>
<circle class="ct" cx="528.67" cy="362.94" r="2.6"/>
<circle class="ct" cx="530.35" cy="362.89" r="2.6"/>
<circle class="ct" cx="529.99" cy="363.32" r="2.6"/>
<circle class="ct" cx="531.28" cy="365.1" r="2.6"/>
<circle class="ct" cx="531.8" cy="364.89" r="2.6"/>
<circle class="ct" cx="532.69" cy="360.35" r="2.6"/>
<circle class="ct" cx="534.09" cy="363.59" r="2.6"/>
<circle class="ct" cx="534.92" cy="363.03" r="2.6"/>
<circle class="ct" cx="533.77" cy="360.37" r="2.6"/>
<circle class="ct" cx="536.78" cy="363.35" r="2.6"/>
<circle class="ct" cx="536.29" cy="361.02" r="2.6"/>
<circle class="ct" cx="537.61" cy="360.51" r="2.6"/>
<circle class="ct" cx="534.82" cy="357.75" r="2.6"/>
<circle class="ct" cx="536.02" cy="359.59" r="2.6"/>
<circle class="ct" cx="539.37" cy="360.12" r="2.6"/>
<circle class="ct" cx="536.53" cy="357.8" r="2.6"/>
<circle class="ct" cx="540.64" cy="358.94" r="2.6"/>
<circle class="ct" cx="539.22" cy="356.39" r="2.6"/>
<circle class="ct" cx="539.76" cy="356.07" r="2.6"/>
<circle class="ct" cx="539.54" cy="354.69" r="2.6"/>
<circle class="ct" cx="540.56" cy="355.57" r="2.6"/>
<circle class="ct" cx="539.87" cy="355.05" r="2.6"/>
<circle class="ct" cx="537.11" cy="350.83" r="2.6"/>
<circle class="ct" cx="543.24" cy="354.48" r="2.6"/>
<circle class="ct" cx="542.47" cy="352.28" r="2.6"/>
<circle class="ct" cx="543.71" cy="353.2" r="2.6"/>
<circle class="ct" cx="544.13" cy="353.6" r="2.6"/>
<circle class="ct" cx="543.86" cy="351.57" r="2.6"/>
<circle class="ct" cx="543.84" cy="349.69" r="2.6"/>
<circle class="ct" cx="544.16" cy="350.48" r="2.6"/>
<circle class="ct" cx="546.44" cy="349.81" r="2.6"/>
<circle class="ct" cx="547.39" cy="351.87" r="2.6"/>
<circle class="ct" cx="545.27" cy="348.28" r="2.6"/>
<circle class="ct" cx="546.61" cy="348.3" r="2.6"/>
<circle class="ct" cx="551.85" cy="349.88" r="2.6"/>
<circle class="ct" cx="547.31" cy="346.4" r="2.6"/>
<circle class="ct" cx="547.92" cy="345.91" r="2.6"/>
<circle class="ct" cx="549.37" cy="347.29" r="2.6"/>
<circle class="ct" cx="548.19" cy="344.94" r="2.6"/>
<circle class="ct" cx="550.6" cy="345.06" r="2.6"/>
<circle class="ct" cx="551.38" cy="346.52" r="2.6"/>
<circle class="ct" cx="551.91" cy="346.11" r="2.6"/>
<circle class="ct" cx="555.91" cy="345.72" r="2.6"/>
<circle class="ct" cx="550.15" cy="341.68" r="2.6"/>
<circle class="ct" cx="554.16" cy="343.29" r="2.6"/>
<circle class="ct" cx="548.85" cy="339.73" r="2.6"/>
<circle class="ct" cx="549.81" cy="340.38" r="2.6"/>
<circle class="ct" cx="551.23" cy="340" r="2.6"/>
<circle class="ct" cx="553.04" cy="339.89" r="2.6"/>
<circle class="ct" cx="554.46" cy="339.52" r="2.6"/>
<circle class="ct" cx="555.47" cy="340.06" r="2.6"/>
<circle class="ct" cx="552.95" cy="336.77" r="2.6"/>
<circle class="ct" cx="556.34" cy="339.43" r="2.6"/>
<circle class="ct" cx="558.01" cy="338.15" r="2.6"/>
<circle class="ct" cx="559.15" cy="338.2" r="2.6"/>
<circle class="ct" cx="553.57" cy="333.93" r="2.6"/>
<circle class="ct" cx="557.75" cy="335.31" r="2.6"/>
<circle class="ct" cx="556.9" cy="333.7" r="2.6"/>
<circle class="ct" cx="555.43" cy="331.28" r="2.6"/>
<circle class="ct" cx="558.92" cy="333.11" r="2.6"/>
<circle class="ct" cx="556.24" cy="331.42" r="2.6"/>
<polyline points="504.8,361 512,364 519,365 527,363.6 534.5,359.6" fill="none" stroke="#d62728" stroke-width="7" stroke-linecap="round" stroke-linejoin="round"/>
<polyline points="514.6,363.6 525.2,363.6" fill="none" stroke="#2ca02c" stroke-width="4.6" stroke-linecap="round"/>
<clipPath id="tb"><rect x="407.5" y="105.5" width="111.6" height="219.4"/><rect x="519.1" y="105.5" width="156.4" height="150.8"/></clipPath><g clip-path="url(#tb)">
<path d="M449.48,81.24 L449.83,85.29 L450.17,89.31 L450.52,93.29 L450.87,97.23 L451.22,101.13 L451.57,105 L451.91,108.72 L452.26,112.38 L452.61,116.01 L452.96,119.61 L453.31,123.18 L453.65,126.71 L454,130.21 L454.35,133.67 L454.7,137.1 L455.05,140.42 L455.4,143.56 L455.74,146.68 L456.09,149.77 L456.44,152.83 L456.79,155.86 L457.14,158.87 L457.48,161.85 L457.83,164.81 L458.18,167.73 L458.53,170.63 L458.88,173.51 L459.22,176.36 L459.57,179.18 L459.92,181.97 L460.27,184.74 L460.62,187.49 L460.96,190.21 L461.31,192.9 L461.66,195.56 L462.01,198.21 L462.36,200.82 L462.71,203.41 L463.05,205.97 L463.4,208.51 L463.75,211.03 L464.1,213.52 L464.45,215.98 L464.79,218.42 L465.14,220.83 L465.49,223.22 L465.84,225.59 L466.19,227.93 L466.53,230.24 L466.88,232.54 L467.23,234.8 L467.58,237.05 L467.93,239.27 L468.28,241.46 L468.62,243.63 L468.97,245.78 L469.32,247.91 L469.67,250.01 L470.02,252.08 L470.36,254.13 L470.71,256.15 L471.06,258.15 L471.41,260.12 L471.76,262.07 L472.1,264 L472.45,265.91 L472.8,267.79 L473.15,269.66 L473.5,271.5 L473.85,273.31 L474.19,275.11 L474.54,276.88 L474.89,278.64 L475.24,279.84 L475.59,280.89 L475.93,281.94 L476.28,282.99 L476.63,284.03 L476.98,285.06 L477.33,286.09 L477.67,287.12 L478.02,288.14 L478.37,289.16 L478.72,290.17 L479.07,291.74 L479.42,293.47 L479.76,295.17 L480.11,296.84 L480.46,298.49 L480.81,300.11 L481.16,301.71 L481.5,303.28 L481.85,304.82 L482.2,306.34 L482.55,307.84 L482.9,309.31 L483.24,310.75 L483.59,312.17 L483.94,313.57 L484.29,314.94 L484.64,316.29 L484.98,317.62 L485.33,318.92 L485.68,320.2 L486.03,321.45 L486.38,322.69 L486.73,323.9 L487.07,325.03 L487.42,325.91 L487.77,326.78 L488.12,327.64 L488.47,328.49 L488.81,329.33 L489.16,330.15 L489.51,330.97 L489.86,331.78 L490.21,332.58 L490.55,333.37 L490.9,334.14 L491.25,334.91 L491.6,335.67 L491.95,336.41 L492.3,337.15 L492.64,337.88 L492.99,338.59 L493.34,339.3 L493.69,340 L494.04,340.68 L494.38,341.36 L494.73,342.03 L495.08,342.68 L495.43,343.33 L495.78,343.96 L496.12,344.59 L496.47,345.2 L496.82,345.81 L497.17,346.4 L497.52,346.99 L497.87,347.57 L498.21,348.13 L498.56,348.69 L498.91,349.23 L499.26,349.77 L499.61,350.29 L499.95,350.81 L500.3,351.32 L500.65,351.81 L501,352.3 L501.35,352.77 L501.69,353.24 L502.04,353.7 L502.39,354.14 L502.74,354.58 L503.09,355.01 L503.43,355.43 L503.78,355.83 L504.13,356.23 L504.48,356.62 L504.83,357 L505.18,357.36 L505.52,357.72 L505.87,358.07 L506.22,358.41 L506.57,358.75 L506.92,359.07 L507.26,359.38 L507.61,359.68 L507.96,359.97 L508.31,360.26 L508.66,360.53 L509,360.79 L509.35,361.04 L509.7,361.29 L510.05,361.52 L510.4,361.75 L510.75,361.96 L511.09,362.17 L511.44,362.37 L511.79,362.55 L512.14,362.73 L512.49,362.9 L512.83,363.06 L513.18,363.21 L513.53,363.35 L513.88,363.48 L514.23,363.6 L514.57,363.71 L514.92,363.82 L515.27,363.91 L515.62,364 L515.97,364.08 L516.32,364.15 L516.66,364.21 L517.01,364.26 L517.36,364.3 L517.71,364.34 L518.06,364.36 L518.4,364.38 L518.75,364.4 L519.1,364.4" fill="none" stroke="#000" stroke-width="1.7" stroke-dasharray="5.5 3"/>
<path d="M519.1,364.4 L519.78,364.38 L520.46,364.33 L521.14,364.25 L521.82,364.14 L522.5,364.02 L523.18,363.86 L523.86,363.67 L524.54,363.46 L525.23,363.21 L525.91,362.95 L526.59,362.68 L527.27,362.38 L527.95,362.07 L528.63,361.71 L529.31,361.31 L529.99,360.9 L530.67,360.45 L531.35,359.98 L532.03,359.49 L532.71,358.96 L533.39,358.42 L534.07,357.83 L534.75,357.14 L535.43,356.42 L536.12,355.66 L536.8,354.85 L537.48,354.01 L538.16,353.13 L538.84,352.21 L539.52,351.25 L540.2,350.25 L540.88,349.21 L541.56,348.12 L542.24,347 L542.92,345.83 L543.6,344.63 L544.28,343.38 L544.96,342.08 L545.64,340.75 L546.32,339.37 L547,338.25 L547.69,337.23 L548.37,336.19 L549.05,335.13 L549.73,334.07 L550.41,332.98 L551.09,331.89 L551.77,330.78 L552.45,329.65 L553.13,328.51 L553.81,327.36 L554.49,326.2 L555.17,325.02 L555.85,323.83 L556.53,322.62 L557.21,321.4 L557.89,320.17 L558.58,318.93 L559.26,317.67 L559.94,316.4 L560.62,315.12 L561.3,313.89 L561.98,312.75 L562.66,311.6 L563.34,310.45 L564.02,309.29 L564.7,308.12 L565.38,306.94 L566.06,305.76 L566.74,304.57 L567.42,303.37 L568.1,302.17 L568.78,300.96 L569.46,299.75 L570.15,298.52 L570.83,297.29 L571.51,296.06 L572.19,294.82 L572.87,293.57 L573.55,292.31 L574.23,291.05 L574.91,289.79 L575.59,288.56 L576.27,287.33 L576.95,286.1 L577.63,284.87 L578.31,283.62 L578.99,282.38 L579.67,281.13 L580.35,279.87 L581.04,278.61 L581.72,277.35 L582.4,276.08 L583.08,274.8 L583.76,273.52 L584.44,272.24 L585.12,270.95 L585.8,269.66 L586.48,268.36 L587.16,267.06 L587.84,265.75 L588.52,264.44 L589.2,263.13 L589.88,261.81 L590.56,260.49 L591.24,259.16 L591.93,257.83 L592.61,256.49 L593.29,254.89 L593.97,253.25 L594.65,251.59 L595.33,249.93 L596.01,248.26 L596.69,246.58 L597.37,244.88 L598.05,243.18 L598.73,241.47 L599.41,239.75 L600.09,238.03 L600.77,236.29 L601.45,234.54 L602.13,232.79 L602.81,231.02 L603.5,229.25 L604.18,227.46 L604.86,225.67 L605.54,223.87 L606.22,222.06 L606.9,220.24 L607.58,218.41 L608.26,216.57 L608.94,214.73 L609.62,212.87 L610.3,211.01 L610.98,209.31 L611.66,207.63 L612.34,205.95 L613.02,204.26 L613.7,202.56 L614.39,200.86 L615.07,199.15 L615.75,197.43 L616.43,195.71 L617.11,193.99 L617.79,192.26 L618.47,190.52 L619.15,188.78 L619.83,187.03 L620.51,185.28 L621.19,183.52 L621.87,181.76 L622.55,179.99 L623.23,178.22 L623.91,176.44 L624.59,174.62 L625.27,172.75 L625.96,170.87 L626.64,168.99 L627.32,167.1 L628,165.2 L628.68,163.3 L629.36,161.39 L630.04,159.48 L630.72,157.56 L631.4,155.63 L632.08,153.7 L632.76,151.76 L633.44,149.82 L634.12,147.87 L634.8,145.91 L635.48,143.95 L636.16,141.98 L636.85,140 L637.53,138.02 L638.21,136.04 L638.89,134.04 L639.57,132.04 L640.25,130.04 L640.93,128.2 L641.61,126.65 L642.29,125.1 L642.97,123.54 L643.65,121.98 L644.33,120.43 L645.01,118.87 L645.69,117.3 L646.37,115.74 L647.05,114.18 L647.73,112.61 L648.42,111.05 L649.1,109.48 L649.78,107.91 L650.46,106.34 L651.14,104.61 L651.82,102.6 L652.5,100.58 L653.18,98.56 L653.86,96.54 L654.54,94.51 L655.22,92.47" fill="none" stroke="#000" stroke-width="1.7" stroke-dasharray="5.5 3"/>
</g>
</g>
<rect x="495.8" y="348.4" width="46.1" height="20.7" fill="none" stroke="#999" stroke-width="1.6" stroke-dasharray="10.5 10.3"/>
<rect x="572.4" y="339.7" width="100" height="22.6" rx="3" fill="#fff" fill-opacity="0.85" stroke="#b0b0b0" stroke-width="1"/>
<line x1="577.3" y1="352.8" x2="603.8" y2="352.8" stroke="#000" stroke-width="1.6" stroke-dasharray="4.6 2.7"/>
<text x="615.6" y="356.4" font-size="16.2" font-weight="normal" font-style="normal" text-anchor="start" fill="#000" textLength="52.6" lengthAdjust="spacingAndGlyphs" >Theory</text>
<line x1="459.3" y1="129.9" x2="529.1" y2="129.9" stroke="#000" stroke-width="1.3" />
<path d="M464,126.8 L459.4,129.9 L464,133" fill="none" stroke="#000" stroke-width="2"/>
<path d="M524.4,126.8 L529,129.9 L524.4,133" fill="none" stroke="#000" stroke-width="2"/>
<line x1="532.3" y1="129.9" x2="642.7" y2="129.9" stroke="#000" stroke-width="1.3" />
<path d="M537,126.8 L532.4,129.9 L537,133" fill="none" stroke="#000" stroke-width="2"/>
<path d="M638,126.8 L642.6,129.9 L638,133" fill="none" stroke="#000" stroke-width="2"/>
<text x="461.2" y="122.8" font-size="16.8" font-weight="normal" font-style="normal" text-anchor="start" fill="#000" textLength="66.2" lengthAdjust="spacingAndGlyphs" >growth</text>
<text x="550.2" y="122.8" font-size="16.8" font-weight="normal" font-style="normal" text-anchor="start" fill="#000" textLength="75.4" lengthAdjust="spacingAndGlyphs" >collapse</text>
<rect x="407.5" y="105.5" width="268" height="265.7" fill="none" stroke="#1e1e1e" stroke-width="1.05"/>
<line x1="418.68" y1="371.2" x2="418.68" y2="368.5" stroke="#555" stroke-width="0.85" />
<line x1="435.42" y1="371.2" x2="435.42" y2="368.5" stroke="#555" stroke-width="0.85" />
<line x1="468.89" y1="371.2" x2="468.89" y2="368.5" stroke="#555" stroke-width="0.85" />
<line x1="485.63" y1="371.2" x2="485.63" y2="368.5" stroke="#555" stroke-width="0.85" />
<line x1="502.36" y1="371.2" x2="502.36" y2="368.5" stroke="#555" stroke-width="0.85" />
<line x1="535.84" y1="371.2" x2="535.84" y2="368.5" stroke="#555" stroke-width="0.85" />
<line x1="552.57" y1="371.2" x2="552.57" y2="368.5" stroke="#555" stroke-width="0.85" />
<line x1="569.31" y1="371.2" x2="569.31" y2="368.5" stroke="#555" stroke-width="0.85" />
<line x1="602.78" y1="371.2" x2="602.78" y2="368.5" stroke="#555" stroke-width="0.85" />
<line x1="619.52" y1="371.2" x2="619.52" y2="368.5" stroke="#555" stroke-width="0.85" />
<line x1="636.25" y1="371.2" x2="636.25" y2="368.5" stroke="#555" stroke-width="0.85" />
<line x1="669.73" y1="371.2" x2="669.73" y2="368.5" stroke="#555" stroke-width="0.85" />
<line x1="452.16" y1="371.2" x2="452.16" y2="366.2" stroke="#333" stroke-width="1.0" />
<line x1="519.1" y1="371.2" x2="519.1" y2="366.2" stroke="#333" stroke-width="1.0" />
<line x1="586.05" y1="371.2" x2="586.05" y2="366.2" stroke="#333" stroke-width="1.0" />
<line x1="652.99" y1="371.2" x2="652.99" y2="366.2" stroke="#333" stroke-width="1.0" />
<line x1="407.5" y1="351.44" x2="410.2" y2="351.44" stroke="#555" stroke-width="0.85" />
<line x1="407.5" y1="338.48" x2="410.2" y2="338.48" stroke="#555" stroke-width="0.85" />
<line x1="407.5" y1="325.52" x2="410.2" y2="325.52" stroke="#555" stroke-width="0.85" />
<line x1="407.5" y1="312.56" x2="410.2" y2="312.56" stroke="#555" stroke-width="0.85" />
<line x1="407.5" y1="286.64" x2="410.2" y2="286.64" stroke="#555" stroke-width="0.85" />
<line x1="407.5" y1="273.68" x2="410.2" y2="273.68" stroke="#555" stroke-width="0.85" />
<line x1="407.5" y1="260.72" x2="410.2" y2="260.72" stroke="#555" stroke-width="0.85" />
<line x1="407.5" y1="247.76" x2="410.2" y2="247.76" stroke="#555" stroke-width="0.85" />
<line x1="407.5" y1="221.84" x2="410.2" y2="221.84" stroke="#555" stroke-width="0.85" />
<line x1="407.5" y1="208.88" x2="410.2" y2="208.88" stroke="#555" stroke-width="0.85" />
<line x1="407.5" y1="195.92" x2="410.2" y2="195.92" stroke="#555" stroke-width="0.85" />
<line x1="407.5" y1="182.96" x2="410.2" y2="182.96" stroke="#555" stroke-width="0.85" />
<line x1="407.5" y1="157.04" x2="410.2" y2="157.04" stroke="#555" stroke-width="0.85" />
<line x1="407.5" y1="144.08" x2="410.2" y2="144.08" stroke="#555" stroke-width="0.85" />
<line x1="407.5" y1="131.12" x2="410.2" y2="131.12" stroke="#555" stroke-width="0.85" />
<line x1="407.5" y1="118.16" x2="410.2" y2="118.16" stroke="#555" stroke-width="0.85" />
<line x1="407.5" y1="299.6" x2="412.5" y2="299.6" stroke="#333" stroke-width="1.0" />
<line x1="407.5" y1="234.8" x2="412.5" y2="234.8" stroke="#333" stroke-width="1.0" />
<line x1="407.5" y1="170" x2="412.5" y2="170" stroke="#333" stroke-width="1.0" />
<line x1="407.5" y1="364.4" x2="412.5" y2="364.4" stroke="#333" stroke-width="1.0" />
<text x="452.16" y="388.6" font-size="21.3" font-weight="normal" font-style="normal" text-anchor="middle" fill="#000" textLength="51.72" lengthAdjust="spacingAndGlyphs" stroke="#000" stroke-width="0.3">−1.5</text>
<text x="519.1" y="388.6" font-size="21.3" font-weight="normal" font-style="normal" text-anchor="middle" fill="#000" textLength="33.87" lengthAdjust="spacingAndGlyphs" stroke="#000" stroke-width="0.3">0.0</text>
<text x="586.05" y="388.6" font-size="21.3" font-weight="normal" font-style="normal" text-anchor="middle" fill="#000" textLength="33.87" lengthAdjust="spacingAndGlyphs" stroke="#000" stroke-width="0.3">1.5</text>
<text x="652.99" y="388.6" font-size="21.3" font-weight="normal" font-style="normal" text-anchor="middle" fill="#000" textLength="33.87" lengthAdjust="spacingAndGlyphs" stroke="#000" stroke-width="0.3">3.0</text>
<text x="405.9" y="372.2" font-size="21.3" font-weight="normal" font-style="normal" text-anchor="end" fill="#000" textLength="33.87" lengthAdjust="spacingAndGlyphs" stroke="#000" stroke-width="0.3">0.0</text>
<text x="405.9" y="307.4" font-size="21.3" font-weight="normal" font-style="normal" text-anchor="end" fill="#000" textLength="33.87" lengthAdjust="spacingAndGlyphs" stroke="#000" stroke-width="0.3">0.5</text>
<text x="405.9" y="242.6" font-size="21.3" font-weight="normal" font-style="normal" text-anchor="end" fill="#000" textLength="33.87" lengthAdjust="spacingAndGlyphs" stroke="#000" stroke-width="0.3">1.0</text>
<text x="405.9" y="177.8" font-size="21.3" font-weight="normal" font-style="normal" text-anchor="end" fill="#000" textLength="33.87" lengthAdjust="spacingAndGlyphs" stroke="#000" stroke-width="0.3">1.5</text>
<text x="405.9" y="113" font-size="21.3" font-weight="normal" font-style="normal" text-anchor="end" fill="#000" textLength="33.87" lengthAdjust="spacingAndGlyphs" stroke="#000" stroke-width="0.3">2.0</text>
<text x="413.5" y="131.9" font-size="25.8" font-weight="bold" font-style="normal" text-anchor="start" fill="#000" textLength="20.2" lengthAdjust="spacingAndGlyphs" >B</text>
<text x="542.2" y="411.3" font-size="21" font-weight="normal" font-style="italic" text-anchor="middle" fill="#000" >t</text>
<path d="M538.4,394.6 L542.4,391.2 L546.4,394.6" fill="none" stroke="#000" stroke-width="1"/>
<g transform="translate(365.3,283.2) rotate(-90)"><text x="0.3" y="0" font-size="21.5" font-style="italic" textLength="15.6" lengthAdjust="spacingAndGlyphs">X</text><path d="M2.9,-18.6 L9.6,-22 L16.4,-18.6" fill="none" stroke="#000" stroke-width="1"/><text x="17.4" y="3.1" font-size="15" textLength="30.6" lengthAdjust="spacingAndGlyphs">max</text><line x1="56.2" y1="-6.5" x2="68.5" y2="-6.5" stroke="#000" stroke-width="1.5"/><text x="74.8" y="0" font-size="21.5" font-style="italic" textLength="15.2" lengthAdjust="spacingAndGlyphs">X</text><path d="M77.6,-18.6 L84.5,-22 L91.4,-18.6" fill="none" stroke="#000" stroke-width="1"/></g>
<line x1="6.1" y1="420.4" x2="682.2" y2="420.4" stroke="#ababab" stroke-width="1.9" stroke-dasharray="15.8 16.1" stroke-dashoffset="9.1"/>
<line x1="6.1" y1="420.4" x2="6.1" y2="595" stroke="#ababab" stroke-width="1.9" stroke-dasharray="15.8 16.1" stroke-dashoffset="7.6"/>
<line x1="6.1" y1="595" x2="682.2" y2="595" stroke="#ababab" stroke-width="1.9" stroke-dasharray="15.8 16.1" stroke-dashoffset="22.7"/>
<line x1="682.2" y1="420.4" x2="682.2" y2="595" stroke="#ababab" stroke-width="1.9" stroke-dasharray="15.8 16.1" stroke-dashoffset="27.6"/>
<line x1="6.1" y1="420.4" x2="495.8" y2="369.1" stroke="#ababab" stroke-width="1.9" stroke-dasharray="15.8 16.1" stroke-dashoffset="0"/>
<line x1="541.9" y1="369.1" x2="682.2" y2="420.4" stroke="#ababab" stroke-width="1.9" stroke-dasharray="15.8 16.1" stroke-dashoffset="0"/>
<clipPath id="ci1"><rect x="62" y="432.5" width="270.4" height="134.3"/></clipPath><g clip-path="url(#ci1)">
<path d="M92.78,423.88 L93.65,426.21 L94.52,428.53 L95.39,430.83 L96.26,433.11 L97.13,435.37 L98.01,437.62 L98.88,439.84 L99.75,442.04 L100.62,444.22 L101.49,446.38 L102.37,448.52 L103.24,450.64 L104.11,452.73 L104.98,454.81 L105.85,456.86 L106.73,458.9 L107.6,460.91 L108.47,462.9 L109.34,464.87 L110.21,466.82 L111.08,468.75 L111.96,470.66 L112.83,472.55 L113.7,474.41 L114.57,476.26 L115.44,478.08 L116.32,479.89 L117.19,481.67 L118.06,483.43 L118.93,485.17 L119.8,486.9 L120.68,488.6 L121.55,490.28 L122.42,491.93 L123.29,493.57 L124.16,495.19 L125.03,496.79 L125.91,498.36 L126.78,499.92 L127.65,501.45 L128.52,502.97 L129.39,504.46 L130.27,505.94 L131.14,507.39 L132.01,508.82 L132.88,510.24 L133.75,511.63 L134.62,513 L135.5,514.35 L136.37,515.68 L137.24,516.99 L138.11,518.28 L138.98,519.55 L139.86,520.8 L140.73,522.03 L141.6,523.24 L142.47,524.43 L143.34,525.6 L144.22,526.75 L145.09,527.88 L145.96,528.98 L146.83,530.06 L147.7,531.12 L148.57,532.17 L149.45,533.19 L150.32,534.19 L151.19,535.18 L152.06,536.14 L152.93,537.08 L153.81,538.01 L154.68,538.92 L155.55,539.8 L156.42,540.67 L157.29,541.52 L158.17,542.34 L159.04,543.15 L159.91,543.94 L160.78,544.71 L161.65,545.46 L162.53,546.2 L163.4,546.91 L164.27,547.6 L165.14,548.28 L166.01,548.93 L166.88,549.57 L167.76,550.18 L168.63,550.78 L169.5,551.36 L170.37,551.92 L171.24,552.46 L172.12,552.99 L172.99,553.49 L173.86,553.97 L174.73,554.44 L175.6,554.89 L176.47,555.32 L177.35,555.73 L178.22,556.12 L179.09,556.49 L179.96,556.85 L180.83,557.17 L181.71,557.48 L182.58,557.78 L183.45,558.05 L184.32,558.31 L185.19,558.56 L186.07,558.78 L186.94,558.99 L187.81,559.19 L188.68,559.36 L189.55,559.52 L190.43,559.66 L191.3,559.79 L192.17,559.9 L193.04,559.99 L193.91,560.07 L194.78,560.12 L195.66,560.17 L196.53,560.19 L197.4,560.2" fill="none" stroke="#000" stroke-width="1.7" stroke-dasharray="5.5 3"/>
<path d="M197.4,560.2 L198.37,560.19 L199.34,560.15 L200.31,560.09 L201.28,560.01 L202.25,559.9 L203.22,559.77 L204.19,559.61 L205.16,559.44 L206.13,559.23 L207.1,559.01 L208.07,558.75 L209.04,558.48 L210.01,558.18 L210.98,557.86 L211.95,557.51 L212.93,557.14 L213.9,556.75 L214.87,556.37 L215.84,555.99 L216.81,555.6 L217.78,555.2 L218.75,554.79 L219.72,554.36 L220.69,553.91 L221.66,553.46 L222.63,552.99 L223.6,552.5 L224.57,551.95 L225.54,551.36 L226.51,550.76 L227.48,550.14 L228.45,549.5 L229.42,548.84 L230.39,548.16 L231.36,547.46 L232.33,546.74 L233.3,546 L234.27,545.24 L235.24,544.47 L236.21,543.67 L237.18,542.86 L238.15,542.03 L239.12,541.17 L240.09,540.3 L241.06,539.41 L242.03,538.51 L243,537.58 L243.97,536.63 L244.95,535.67 L245.92,534.68 L246.89,533.75 L247.86,532.79 L248.83,531.83 L249.8,530.84 L250.77,529.84 L251.74,528.83 L252.71,527.8 L253.68,526.76 L254.65,525.7 L255.62,524.63 L256.59,523.54 L257.56,522.44 L258.53,521.32 L259.5,520.19 L260.47,519.05 L261.44,517.88 L262.41,516.71 L263.38,515.52 L264.35,514.32 L265.32,513.1 L266.29,511.77 L267.26,510.42 L268.23,509.05 L269.2,507.66 L270.17,506.26 L271.14,504.83 L272.11,503.39 L273.08,501.93 L274.05,500.45 L275.02,498.95 L276,497.44 L276.97,495.9 L277.94,494.35 L278.91,492.78 L279.88,491.19 L280.85,489.58 L281.82,487.96 L282.79,486.32 L283.76,484.65 L284.73,482.98 L285.7,481.28 L286.67,479.56 L287.64,477.83 L288.61,476.08 L289.58,474.31 L290.55,472.52 L291.52,470.71 L292.49,468.89 L293.46,467.04 L294.43,465.18 L295.4,463.3 L296.37,461.41 L297.34,459.49 L298.31,457.56 L299.28,455.61 L300.25,453.64 L301.22,451.65 L302.19,449.65 L303.16,447.62 L304.13,445.58 L305.1,443.52 L306.07,441.44 L307.05,439.35 L308.02,437.23 L308.99,435.1 L309.96,432.93 L310.93,430.46 L311.9,427.97 L312.87,425.45 L313.84,422.9" fill="none" stroke="#000" stroke-width="1.7" stroke-dasharray="5.5 3"/>
<circle class="rc" cx="122.87" cy="511.77" r="2.1"/>
<circle class="rc" cx="125.83" cy="509.99" r="2.1"/>
<circle class="rc" cx="124.04" cy="512.22" r="2.1"/>
<circle class="rc" cx="125.61" cy="510.32" r="2.1"/>
<circle class="rc" cx="124.74" cy="514.79" r="2.1"/>
<circle class="rc" cx="128.38" cy="512.06" r="2.1"/>
<circle class="rc" cx="128.44" cy="513.63" r="2.1"/>
<circle class="rc" cx="125.02" cy="514.95" r="2.1"/>
<circle class="rc" cx="129.19" cy="512.47" r="2.1"/>
<circle class="rc" cx="127.98" cy="515.65" r="2.1"/>
<circle class="rc" cx="129" cy="514.37" r="2.1"/>
<circle class="rc" cx="130.97" cy="514.38" r="2.1"/>
<circle class="rc" cx="130.76" cy="515.85" r="2.1"/>
<circle class="rc" cx="129.25" cy="517.25" r="2.1"/>
<circle class="rc" cx="130.06" cy="521.15" r="2.1"/>
<circle class="rc" cx="132.98" cy="519.1" r="2.1"/>
<circle class="rc" cx="131.79" cy="519.47" r="2.1"/>
<circle class="rc" cx="134.3" cy="519.41" r="2.1"/>
<circle class="rc" cx="132.98" cy="521.04" r="2.1"/>
<circle class="rc" cx="134.89" cy="521.15" r="2.1"/>
<circle class="rc" cx="137.01" cy="517.26" r="2.1"/>
<circle class="rc" cx="134.72" cy="520.1" r="2.1"/>
<circle class="rc" cx="135.34" cy="521.58" r="2.1"/>
<circle class="rc" cx="133.92" cy="523.3" r="2.1"/>
<circle class="rc" cx="136.84" cy="524.98" r="2.1"/>
<circle class="rc" cx="138.11" cy="522.5" r="2.1"/>
<circle class="rc" cx="137.48" cy="525.16" r="2.1"/>
<circle class="rc" cx="138.92" cy="526.12" r="2.1"/>
<circle class="rc" cx="141.6" cy="522" r="2.1"/>
<circle class="rc" cx="140.22" cy="527.29" r="2.1"/>
<circle class="rc" cx="139.4" cy="527.04" r="2.1"/>
<circle class="rc" cx="140.07" cy="529.35" r="2.1"/>
<circle class="rc" cx="140.78" cy="529.59" r="2.1"/>
<circle class="rc" cx="138.53" cy="530.61" r="2.1"/>
<circle class="rc" cx="140.48" cy="530.23" r="2.1"/>
<circle class="rc" cx="141.15" cy="533.12" r="2.1"/>
<circle class="rc" cx="142.96" cy="528.68" r="2.1"/>
<circle class="rc" cx="145.09" cy="530.48" r="2.1"/>
<circle class="rc" cx="141.46" cy="531.92" r="2.1"/>
<circle class="rc" cx="142.97" cy="532.55" r="2.1"/>
<circle class="rc" cx="144.73" cy="534.36" r="2.1"/>
<circle class="rc" cx="146.57" cy="530.01" r="2.1"/>
<circle class="rc" cx="145.5" cy="534.85" r="2.1"/>
<circle class="rc" cx="146.58" cy="532.01" r="2.1"/>
<circle class="rc" cx="147.65" cy="532.59" r="2.1"/>
<circle class="rc" cx="145.44" cy="536.06" r="2.1"/>
<circle class="rc" cx="147.76" cy="534.54" r="2.1"/>
<circle class="rc" cx="147.89" cy="538.26" r="2.1"/>
<circle class="rc" cx="150.95" cy="534.12" r="2.1"/>
<circle class="rc" cx="152.9" cy="534.05" r="2.1"/>
<circle class="rc" cx="151.25" cy="535.39" r="2.1"/>
<circle class="rc" cx="148.92" cy="541.07" r="2.1"/>
<circle class="rc" cx="151.89" cy="537.16" r="2.1"/>
<circle class="rc" cx="154.21" cy="538.73" r="2.1"/>
<circle class="rc" cx="154.5" cy="536.79" r="2.1"/>
<circle class="rc" cx="153.01" cy="538.17" r="2.1"/>
<circle class="rc" cx="154.93" cy="539.65" r="2.1"/>
<circle class="rc" cx="155.01" cy="541.92" r="2.1"/>
<circle class="rc" cx="155.14" cy="539.3" r="2.1"/>
<circle class="rc" cx="153.85" cy="543.29" r="2.1"/>
<circle class="rc" cx="157.13" cy="540.09" r="2.1"/>
<circle class="rc" cx="158.78" cy="542.28" r="2.1"/>
<circle class="rc" cx="158.16" cy="544.97" r="2.1"/>
<circle class="rc" cx="159.17" cy="543.59" r="2.1"/>
<circle class="rc" cx="157.94" cy="544.75" r="2.1"/>
<circle class="rc" cx="159.86" cy="542.26" r="2.1"/>
<circle class="rc" cx="161.48" cy="543.23" r="2.1"/>
<circle class="rc" cx="162.55" cy="543.56" r="2.1"/>
<circle class="rc" cx="163.8" cy="543.29" r="2.1"/>
<circle class="rc" cx="163.61" cy="545.6" r="2.1"/>
<circle class="rc" cx="166.08" cy="541.67" r="2.1"/>
<circle class="rc" cx="163.35" cy="545.02" r="2.1"/>
<circle class="rc" cx="164.63" cy="548.03" r="2.1"/>
<circle class="rc" cx="163.39" cy="548.46" r="2.1"/>
<circle class="rc" cx="165.49" cy="547.5" r="2.1"/>
<circle class="rc" cx="168.99" cy="544.87" r="2.1"/>
<circle class="rc" cx="167.2" cy="546.25" r="2.1"/>
<circle class="rc" cx="168.04" cy="548.43" r="2.1"/>
<circle class="rc" cx="167.26" cy="550.9" r="2.1"/>
<circle class="rc" cx="169.47" cy="549.79" r="2.1"/>
<circle class="rc" cx="169.63" cy="550.2" r="2.1"/>
<circle class="rc" cx="170.04" cy="548.39" r="2.1"/>
<circle class="rc" cx="170.94" cy="547.48" r="2.1"/>
<circle class="rc" cx="171.67" cy="550.38" r="2.1"/>
<circle class="rc" cx="171.77" cy="550.64" r="2.1"/>
<circle class="rc" cx="174.65" cy="550.76" r="2.1"/>
<circle class="rc" cx="175.4" cy="548.18" r="2.1"/>
<circle class="rc" cx="174.26" cy="550.38" r="2.1"/>
<circle class="rc" cx="174.44" cy="551.24" r="2.1"/>
<circle class="rc" cx="175.32" cy="552.42" r="2.1"/>
<circle class="rc" cx="177.66" cy="551.1" r="2.1"/>
<circle class="rc" cx="177.79" cy="552.55" r="2.1"/>
<circle class="rc" cx="176.81" cy="552.99" r="2.1"/>
<circle class="rc" cx="178.58" cy="551.94" r="2.1"/>
<circle class="rc" cx="179.11" cy="551.87" r="2.1"/>
<circle class="rc" cx="182.35" cy="550.86" r="2.1"/>
<circle class="rc" cx="180.33" cy="552.1" r="2.1"/>
<circle class="rc" cx="180.49" cy="554.99" r="2.1"/>
<circle class="rc" cx="183.08" cy="557.16" r="2.1"/>
<circle class="rc" cx="183.67" cy="555.63" r="2.1"/>
<circle class="rc" cx="184.82" cy="556.76" r="2.1"/>
<circle class="rc" cx="184.74" cy="557.14" r="2.1"/>
<circle class="rc" cx="183.87" cy="555.32" r="2.1"/>
<circle class="rc" cx="183.75" cy="559.41" r="2.1"/>
<circle class="rc" cx="186.58" cy="555.22" r="2.1"/>
<circle class="rc" cx="185.64" cy="557.69" r="2.1"/>
<circle class="rc" cx="185.84" cy="559.2" r="2.1"/>
<circle class="rc" cx="189.58" cy="556.69" r="2.1"/>
<circle class="rc" cx="188.84" cy="556.5" r="2.1"/>
<circle class="rc" cx="188.86" cy="559.2" r="2.1"/>
<circle class="rc" cx="190.44" cy="558.84" r="2.1"/>
<circle class="rc" cx="191.53" cy="556.54" r="2.1"/>
<circle class="rc" cx="194.01" cy="557.55" r="2.1"/>
<circle class="rc" cx="193.04" cy="557.38" r="2.1"/>
<circle class="rc" cx="193.99" cy="559.76" r="2.1"/>
<circle class="rc" cx="195.11" cy="558.96" r="2.1"/>
<circle class="rc" cx="197.35" cy="555.22" r="2.1"/>
<circle class="rc" cx="196.6" cy="556.33" r="2.1"/>
<circle class="rc" cx="196.33" cy="559.7" r="2.1"/>
<circle class="rc" cx="198.4" cy="557.41" r="2.1"/>
<rect class="rs" x="122.58" y="521.25" width="4" height="4"/>
<rect class="rs" x="122.08" y="523.78" width="4" height="4"/>
<rect class="rs" x="122.2" y="522.81" width="4" height="4"/>
<rect class="rs" x="122.7" y="524.74" width="4" height="4"/>
<rect class="rs" x="128.69" y="517.35" width="4" height="4"/>
<rect class="rs" x="123.67" y="526.7" width="4" height="4"/>
<rect class="rs" x="125.84" y="525.9" width="4" height="4"/>
<rect class="rs" x="123.43" y="526.22" width="4" height="4"/>
<rect class="rs" x="127.76" y="524.76" width="4" height="4"/>
<rect class="rs" x="124.89" y="526.25" width="4" height="4"/>
<rect class="rs" x="126.9" y="525.56" width="4" height="4"/>
<rect class="rs" x="127.47" y="529.54" width="4" height="4"/>
<rect class="rs" x="129.27" y="527.29" width="4" height="4"/>
<rect class="rs" x="126.79" y="528.82" width="4" height="4"/>
<rect class="rs" x="132.4" y="526.52" width="4" height="4"/>
<rect class="rs" x="128.59" y="531.46" width="4" height="4"/>
<rect class="rs" x="130.23" y="531.29" width="4" height="4"/>
<rect class="rs" x="130.76" y="529.19" width="4" height="4"/>
<rect class="rs" x="129.71" y="530.16" width="4" height="4"/>
<rect class="rs" x="133.86" y="529.3" width="4" height="4"/>
<rect class="rs" x="131.29" y="532.37" width="4" height="4"/>
<rect class="rs" x="132.14" y="531.04" width="4" height="4"/>
<rect class="rs" x="131.47" y="531.99" width="4" height="4"/>
<rect class="rs" x="131.47" y="533.01" width="4" height="4"/>
<rect class="rs" x="136.23" y="529.48" width="4" height="4"/>
<rect class="rs" x="133.6" y="532.99" width="4" height="4"/>
<rect class="rs" x="136.56" y="533.1" width="4" height="4"/>
<rect class="rs" x="134.21" y="536.91" width="4" height="4"/>
<rect class="rs" x="135.75" y="533.56" width="4" height="4"/>
<rect class="rs" x="136.7" y="536.15" width="4" height="4"/>
<rect class="rs" x="140.23" y="531.33" width="4" height="4"/>
<rect class="rs" x="135.74" y="537.16" width="4" height="4"/>
<rect class="rs" x="139.18" y="534.24" width="4" height="4"/>
<rect class="rs" x="137.54" y="536.15" width="4" height="4"/>
<rect class="rs" x="140.39" y="533.58" width="4" height="4"/>
<rect class="rs" x="142.85" y="535.34" width="4" height="4"/>
<rect class="rs" x="142.95" y="537.08" width="4" height="4"/>
<rect class="rs" x="140.31" y="541.18" width="4" height="4"/>
<rect class="rs" x="142.39" y="536.27" width="4" height="4"/>
<rect class="rs" x="145.98" y="536.4" width="4" height="4"/>
<rect class="rs" x="143.84" y="539.73" width="4" height="4"/>
<rect class="rs" x="140.47" y="541.27" width="4" height="4"/>
<rect class="rs" x="144.52" y="538.9" width="4" height="4"/>
<rect class="rs" x="144.13" y="540.24" width="4" height="4"/>
<rect class="rs" x="146.2" y="538.46" width="4" height="4"/>
<rect class="rs" x="144.98" y="540.23" width="4" height="4"/>
<rect class="rs" x="147.07" y="539.87" width="4" height="4"/>
<rect class="rs" x="147.08" y="542.18" width="4" height="4"/>
<rect class="rs" x="145.52" y="543.15" width="4" height="4"/>
<rect class="rs" x="146.89" y="543.39" width="4" height="4"/>
<rect class="rs" x="149.78" y="539.53" width="4" height="4"/>
<rect class="rs" x="150.31" y="541.88" width="4" height="4"/>
<rect class="rs" x="148.32" y="546.14" width="4" height="4"/>
<rect class="rs" x="149.42" y="544.22" width="4" height="4"/>
<rect class="rs" x="149.92" y="543.21" width="4" height="4"/>
<rect class="rs" x="150.72" y="545.41" width="4" height="4"/>
<rect class="rs" x="153.07" y="543.69" width="4" height="4"/>
<rect class="rs" x="151.25" y="545.72" width="4" height="4"/>
<rect class="rs" x="153.28" y="542.77" width="4" height="4"/>
<rect class="rs" x="150.79" y="550.34" width="4" height="4"/>
<rect class="rs" x="153.63" y="545.84" width="4" height="4"/>
<rect class="rs" x="155.05" y="546.06" width="4" height="4"/>
<rect class="rs" x="153.77" y="549.83" width="4" height="4"/>
<rect class="rs" x="155.97" y="547.63" width="4" height="4"/>
<rect class="rs" x="156.74" y="549.62" width="4" height="4"/>
<rect class="rs" x="158.85" y="546.08" width="4" height="4"/>
<rect class="rs" x="157.84" y="547.59" width="4" height="4"/>
<rect class="rs" x="157.78" y="551.04" width="4" height="4"/>
<rect class="rs" x="161.46" y="547.2" width="4" height="4"/>
<rect class="rs" x="155.32" y="552.73" width="4" height="4"/>
<rect class="rs" x="159.6" y="548.3" width="4" height="4"/>
<rect class="rs" x="159.47" y="550.81" width="4" height="4"/>
<rect class="rs" x="161.08" y="553.16" width="4" height="4"/>
<rect class="rs" x="159.4" y="552.56" width="4" height="4"/>
<rect class="rs" x="161.92" y="552.47" width="4" height="4"/>
<rect class="rs" x="162.1" y="552.68" width="4" height="4"/>
<rect class="rs" x="162.26" y="552.85" width="4" height="4"/>
<rect class="rs" x="162.28" y="556.02" width="4" height="4"/>
<rect class="rs" x="165.01" y="551.36" width="4" height="4"/>
<rect class="rs" x="166.36" y="552.05" width="4" height="4"/>
<rect class="rs" x="166.81" y="553.56" width="4" height="4"/>
<rect class="rs" x="165.72" y="556.68" width="4" height="4"/>
<rect class="rs" x="166.09" y="553.59" width="4" height="4"/>
<rect class="rs" x="169.06" y="551.65" width="4" height="4"/>
<rect class="rs" x="168.34" y="556.44" width="4" height="4"/>
<rect class="rs" x="168.94" y="554.44" width="4" height="4"/>
<rect class="rs" x="169.6" y="553.73" width="4" height="4"/>
<rect class="rs" x="169.06" y="554.94" width="4" height="4"/>
<rect class="rs" x="171.3" y="555.06" width="4" height="4"/>
<rect class="rs" x="169.9" y="556" width="4" height="4"/>
<rect class="rs" x="169.9" y="557.98" width="4" height="4"/>
<rect class="rs" x="169.32" y="559.3" width="4" height="4"/>
<rect class="rs" x="170.74" y="558.07" width="4" height="4"/>
<rect class="rs" x="173.4" y="558.12" width="4" height="4"/>
<rect class="rs" x="173.48" y="553.22" width="4" height="4"/>
<rect class="rs" x="173.84" y="559.09" width="4" height="4"/>
<rect class="rs" x="173.04" y="561.12" width="4" height="4"/>
<rect class="rs" x="175.17" y="554.01" width="4" height="4"/>
<rect class="rs" x="176.57" y="553.62" width="4" height="4"/>
<rect class="rs" x="176.55" y="558.16" width="4" height="4"/>
<rect class="rs" x="178.1" y="558.73" width="4" height="4"/>
<rect class="rs" x="176.6" y="562.65" width="4" height="4"/>
<rect class="rs" x="178.2" y="559.1" width="4" height="4"/>
<rect class="rs" x="181.57" y="554.5" width="4" height="4"/>
<rect class="rs" x="181.11" y="555.84" width="4" height="4"/>
<rect class="rs" x="180.96" y="561.45" width="4" height="4"/>
<rect class="rs" x="182.32" y="559.99" width="4" height="4"/>
<rect class="rs" x="181.71" y="558.26" width="4" height="4"/>
<rect class="rs" x="183.18" y="559.81" width="4" height="4"/>
<rect class="rs" x="181.81" y="561.19" width="4" height="4"/>
<rect class="rs" x="183.95" y="566.09" width="4" height="4"/>
<rect class="rs" x="183.71" y="557.13" width="4" height="4"/>
<rect class="rs" x="186.07" y="556.54" width="4" height="4"/>
<rect class="rs" x="185.62" y="561.52" width="4" height="4"/>
<rect class="rs" x="187.94" y="560.67" width="4" height="4"/>
<rect class="rs" x="187.99" y="559.79" width="4" height="4"/>
<rect class="rs" x="186.77" y="561.85" width="4" height="4"/>
<rect class="rs" x="189.35" y="560.48" width="4" height="4"/>
<rect class="rs" x="190.74" y="561.68" width="4" height="4"/>
<rect class="rs" x="188.52" y="561.47" width="4" height="4"/>
<rect class="rs" x="190.93" y="557.49" width="4" height="4"/>
<rect class="rs" x="190.76" y="560.26" width="4" height="4"/>
<rect class="rs" x="193" y="560.96" width="4" height="4"/>
<rect class="rs" x="192.2" y="558.09" width="4" height="4"/>
<rect class="rs" x="193.75" y="560.48" width="4" height="4"/>
<rect class="rs" x="193.07" y="552.52" width="4" height="4"/>
<rect class="rs" x="194.88" y="555.19" width="4" height="4"/>
<rect class="rs" x="194.17" y="558.4" width="4" height="4"/>
<rect class="rs" x="195.42" y="564.38" width="4" height="4"/>
<rect class="rs" x="196.24" y="563.35" width="4" height="4"/>
<rect class="rs" x="144.3" y="550.8" width="4" height="4"/>
<rect class="rs" x="145.6" y="556" width="4" height="4"/>
<rect class="rs" x="148" y="559" width="4" height="4"/>
<rect class="rs" x="150" y="561" width="4" height="4"/>
<rect class="rs" x="153" y="558" width="4" height="4"/>
<rect class="rs" x="156" y="561.5" width="4" height="4"/>
<circle class="rc" cx="145.84" cy="541.73" r="2.1"/>
<circle class="rc" cx="171.6" cy="555.73" r="2.1"/>
<circle class="rc" cx="163.08" cy="555.16" r="2.1"/>
<circle class="rc" cx="138.23" cy="531.48" r="2.1"/>
<circle class="rc" cx="124.58" cy="523.25" r="2.1"/>
<circle class="rc" cx="173.3" cy="557.06" r="2.1"/>
<circle class="rc" cx="195" cy="562.96" r="2.1"/>
<circle class="rc" cx="137.75" cy="535.56" r="2.1"/>
<circle class="rc" cx="196.17" cy="560.4" r="2.1"/>
<circle class="rc" cx="175.84" cy="561.09" r="2.1"/>
<circle class="rc" cx="192.74" cy="563.68" r="2.1"/>
<circle class="rc" cx="180.2" cy="561.1" r="2.1"/>
<circle class="rc" cx="160.85" cy="548.08" r="2.1"/>
<circle class="rc" cx="171.06" cy="553.65" r="2.1"/>
<circle class="rc" cx="147.52" cy="545.15" r="2.1"/>
<circle class="rc" cx="171.06" cy="556.94" r="2.1"/>
<circle class="rc" cx="147.6" cy="558" r="2.1"/>
<circle class="rc" cx="170.34" cy="558.44" r="2.1"/>
<circle class="rc" cx="157.97" cy="549.63" r="2.1"/>
<circle class="rc" cx="152.31" cy="543.88" r="2.1"/>
<circle class="rc" cx="142.39" cy="535.58" r="2.1"/>
<circle class="rc" cx="191.35" cy="562.48" r="2.1"/>
<circle class="rc" cx="161.4" cy="554.56" r="2.1"/>
<circle class="rc" cx="185.18" cy="561.81" r="2.1"/>
<circle class="rc" cx="168.81" cy="555.56" r="2.1"/>
<circle class="rc" cx="152" cy="563" r="2.1"/>
<circle class="rc" cx="152.79" cy="552.34" r="2.1"/>
<circle class="rc" cx="125.43" cy="528.22" r="2.1"/>
<circle class="rc" cx="129.47" cy="531.54" r="2.1"/>
<circle class="rc" cx="158" cy="563.5" r="2.1"/>
<circle class="rc" cx="189.94" cy="562.67" r="2.1"/>
<circle class="rc" cx="167.72" cy="558.68" r="2.1"/>
<circle class="rc" cx="157.05" cy="548.06" r="2.1"/>
<circle class="rc" cx="188.07" cy="558.54" r="2.1"/>
<circle class="rc" cx="168.09" cy="555.59" r="2.1"/>
<circle class="rc" cx="131.71" cy="532.16" r="2.1"/>
<circle class="rc" cx="124.7" cy="526.74" r="2.1"/>
<circle class="rc" cx="144.85" cy="537.34" r="2.1"/>
<circle class="rc" cx="163.46" cy="549.2" r="2.1"/>
<circle class="rc" cx="155.07" cy="545.69" r="2.1"/>
<circle class="rc" cx="198.73" cy="561.84" r="2.1"/>
<circle class="rc" cx="198.56" cy="561.74" r="2.1"/>
<circle class="rc" cx="199.75" cy="562.46" r="2.1"/>
<circle class="rc" cx="199.72" cy="563.38" r="2.1"/>
<circle class="rc" cx="198.07" cy="555.77" r="2.1"/>
<circle class="rc" cx="199.44" cy="559.56" r="2.1"/>
<circle class="rc" cx="201.05" cy="566.34" r="2.1"/>
<circle class="rc" cx="200.86" cy="562.04" r="2.1"/>
<circle class="rc" cx="200.41" cy="560.75" r="2.1"/>
<circle class="rc" cx="203.05" cy="562.34" r="2.1"/>
<circle class="rc" cx="201.58" cy="561.63" r="2.1"/>
<circle class="rc" cx="200.82" cy="555.46" r="2.1"/>
<circle class="rc" cx="202.45" cy="557.32" r="2.1"/>
<circle class="rc" cx="202.72" cy="559.14" r="2.1"/>
<circle class="rc" cx="202.53" cy="556.11" r="2.1"/>
<circle class="rc" cx="203.42" cy="555.94" r="2.1"/>
<circle class="rc" cx="205.12" cy="561.96" r="2.1"/>
<circle class="rc" cx="204.36" cy="557.76" r="2.1"/>
<circle class="rc" cx="204.61" cy="558.26" r="2.1"/>
<circle class="rc" cx="203.95" cy="558.83" r="2.1"/>
<circle class="rc" cx="204.77" cy="561.1" r="2.1"/>
<circle class="rc" cx="205.94" cy="559.18" r="2.1"/>
<circle class="rc" cx="204.89" cy="557.21" r="2.1"/>
<circle class="rc" cx="205.14" cy="557.66" r="2.1"/>
<circle class="rc" cx="208.74" cy="561.36" r="2.1"/>
<circle class="rc" cx="207.05" cy="557.39" r="2.1"/>
<circle class="rc" cx="207.06" cy="556.65" r="2.1"/>
<circle class="rc" cx="206" cy="553.33" r="2.1"/>
<circle class="rc" cx="208.38" cy="557.8" r="2.1"/>
<circle class="rc" cx="202.44" cy="547.02" r="2.1"/>
<circle class="rc" cx="206.78" cy="551.86" r="2.1"/>
<circle class="rc" cx="209.13" cy="559.87" r="2.1"/>
<circle class="rc" cx="211.25" cy="560.58" r="2.1"/>
<circle class="rc" cx="208.63" cy="557.15" r="2.1"/>
<circle class="rc" cx="207.42" cy="552.74" r="2.1"/>
<circle class="rc" cx="211.65" cy="559.47" r="2.1"/>
<circle class="rc" cx="208.59" cy="553.86" r="2.1"/>
<circle class="rc" cx="208.58" cy="553.41" r="2.1"/>
<circle class="rc" cx="210.83" cy="554.58" r="2.1"/>
<circle class="rc" cx="211" cy="556.97" r="2.1"/>
<circle class="rc" cx="212.05" cy="556.5" r="2.1"/>
<circle class="rc" cx="213.84" cy="560.71" r="2.1"/>
<circle class="rc" cx="212.27" cy="555.62" r="2.1"/>
<circle class="rc" cx="211.93" cy="556.67" r="2.1"/>
<circle class="rc" cx="211.78" cy="554.45" r="2.1"/>
<circle class="rc" cx="212.65" cy="554.83" r="2.1"/>
<circle class="rc" cx="211.87" cy="552.7" r="2.1"/>
<circle class="rc" cx="216.09" cy="557.7" r="2.1"/>
<circle class="rc" cx="213.92" cy="556.7" r="2.1"/>
<circle class="rc" cx="213.13" cy="551.87" r="2.1"/>
<circle class="rc" cx="215" cy="557.95" r="2.1"/>
<circle class="rc" cx="215.05" cy="553.05" r="2.1"/>
<circle class="rc" cx="211.76" cy="549.54" r="2.1"/>
<circle class="rc" cx="216.01" cy="556.59" r="2.1"/>
<circle class="rc" cx="212.89" cy="549.95" r="2.1"/>
<circle class="rc" cx="211.2" cy="546.07" r="2.1"/>
<circle class="rc" cx="211.81" cy="547.02" r="2.1"/>
<circle class="rc" cx="219.95" cy="560.94" r="2.1"/>
<circle class="rc" cx="214.76" cy="549.05" r="2.1"/>
<circle class="rc" cx="218.11" cy="556.03" r="2.1"/>
<circle class="rc" cx="220.05" cy="557.14" r="2.1"/>
<circle class="rc" cx="215.19" cy="547.76" r="2.1"/>
<circle class="rc" cx="216.81" cy="550.46" r="2.1"/>
<circle class="rc" cx="218.14" cy="550.78" r="2.1"/>
<circle class="rc" cx="215.92" cy="546.74" r="2.1"/>
<circle class="rc" cx="219.18" cy="552.95" r="2.1"/>
<circle class="rc" cx="218.93" cy="551.96" r="2.1"/>
<circle class="rc" cx="221.75" cy="555.5" r="2.1"/>
<circle class="rc" cx="222" cy="555.5" r="2.1"/>
<circle class="rc" cx="220.14" cy="551.78" r="2.1"/>
<circle class="rc" cx="216.59" cy="544.18" r="2.1"/>
<circle class="rc" cx="217.27" cy="546.51" r="2.1"/>
<circle class="rc" cx="223.58" cy="555.74" r="2.1"/>
<circle class="rc" cx="220.42" cy="550.07" r="2.1"/>
<circle class="rc" cx="223.48" cy="553.08" r="2.1"/>
<circle class="rc" cx="221.99" cy="549.21" r="2.1"/>
<circle class="rc" cx="223.28" cy="553.84" r="2.1"/>
<circle class="rc" cx="221.47" cy="549.48" r="2.1"/>
<circle class="rc" cx="220.36" cy="544.35" r="2.1"/>
<circle class="rc" cx="219.69" cy="542.52" r="2.1"/>
<circle class="rc" cx="217.56" cy="538.16" r="2.1"/>
<circle class="rc" cx="222.05" cy="548.46" r="2.1"/>
<circle class="rc" cx="223.85" cy="547.67" r="2.1"/>
<circle class="rc" cx="223" cy="545.72" r="2.1"/>
<circle class="rc" cx="220.41" cy="541.88" r="2.1"/>
<circle class="rc" cx="223.05" cy="546.93" r="2.1"/>
<circle class="rc" cx="223.88" cy="547.38" r="2.1"/>
<circle class="rc" cx="224.54" cy="546.73" r="2.1"/>
<circle class="rc" cx="224.43" cy="544.9" r="2.1"/>
<circle class="rc" cx="226.21" cy="547.32" r="2.1"/>
<circle class="rc" cx="226.83" cy="547.5" r="2.1"/>
<circle class="rc" cx="224.57" cy="542.6" r="2.1"/>
<circle class="rc" cx="228.04" cy="548.51" r="2.1"/>
<circle class="rc" cx="227.54" cy="549.78" r="2.1"/>
<circle class="rc" cx="224.16" cy="543.35" r="2.1"/>
<circle class="rc" cx="231.03" cy="551.61" r="2.1"/>
<circle class="rc" cx="227.77" cy="548.05" r="2.1"/>
<circle class="rc" cx="230.25" cy="548.79" r="2.1"/>
<circle class="rc" cx="229.05" cy="546.91" r="2.1"/>
<circle class="rc" cx="228.99" cy="544.59" r="2.1"/>
<circle class="rc" cx="225.72" cy="541.27" r="2.1"/>
<circle class="rc" cx="226.78" cy="540.34" r="2.1"/>
<circle class="rc" cx="227.94" cy="543.89" r="2.1"/>
<circle class="rc" cx="227.17" cy="542.56" r="2.1"/>
<circle class="rc" cx="228.7" cy="543.28" r="2.1"/>
<circle class="rc" cx="232.35" cy="549.32" r="2.1"/>
<circle class="rc" cx="230.35" cy="543.82" r="2.1"/>
<circle class="rc" cx="229.06" cy="542.92" r="2.1"/>
<circle class="rc" cx="230.47" cy="542.4" r="2.1"/>
<circle class="rc" cx="231.03" cy="544.85" r="2.1"/>
<circle class="rc" cx="231.04" cy="541.1" r="2.1"/>
<circle class="rc" cx="230.31" cy="542.12" r="2.1"/>
<circle class="rc" cx="231.99" cy="541.14" r="2.1"/>
<circle class="rc" cx="229.31" cy="538.6" r="2.1"/>
<circle class="rc" cx="231.63" cy="541.87" r="2.1"/>
<circle class="rc" cx="234.03" cy="543.86" r="2.1"/>
<circle class="rc" cx="234.23" cy="544.32" r="2.1"/>
<circle class="rc" cx="231.82" cy="539.71" r="2.1"/>
<circle class="rc" cx="235.79" cy="545.24" r="2.1"/>
<circle class="rc" cx="234.01" cy="541.01" r="2.1"/>
<circle class="rc" cx="232.72" cy="540.07" r="2.1"/>
<circle class="rc" cx="234.75" cy="540.28" r="2.1"/>
<circle class="rc" cx="236.68" cy="544.93" r="2.1"/>
<circle class="rc" cx="233.01" cy="537.79" r="2.1"/>
<circle class="rc" cx="233.98" cy="536.89" r="2.1"/>
<circle class="rc" cx="238.38" cy="544.56" r="2.1"/>
<circle class="rc" cx="238.19" cy="544.18" r="2.1"/>
<circle class="rc" cx="237.08" cy="542.41" r="2.1"/>
<circle class="rc" cx="238.43" cy="543.31" r="2.1"/>
<circle class="rc" cx="237.06" cy="539.53" r="2.1"/>
<circle class="rc" cx="237.85" cy="540.25" r="2.1"/>
<circle class="rc" cx="239.23" cy="543.84" r="2.1"/>
<circle class="rc" cx="238.63" cy="539.4" r="2.1"/>
<circle class="rc" cx="240.69" cy="542.92" r="2.1"/>
<circle class="rc" cx="241.02" cy="541.33" r="2.1"/>
<circle class="rc" cx="236.19" cy="536.13" r="2.1"/>
<circle class="rc" cx="239.33" cy="540.56" r="2.1"/>
<circle class="rc" cx="238.47" cy="538.27" r="2.1"/>
<circle class="rc" cx="238.77" cy="538.06" r="2.1"/>
<circle class="rc" cx="235.94" cy="534.4" r="2.1"/>
<circle class="rc" cx="241.21" cy="538.23" r="2.1"/>
<circle class="rc" cx="240.38" cy="537.58" r="2.1"/>
<circle class="rc" cx="238.75" cy="535.7" r="2.1"/>
<circle class="rc" cx="242.72" cy="540.18" r="2.1"/>
<circle class="rc" cx="236.14" cy="531.07" r="2.1"/>
<circle class="rc" cx="238" cy="531.75" r="2.1"/>
<circle class="rc" cx="238.65" cy="531.93" r="2.1"/>
<circle class="rc" cx="244.98" cy="539.7" r="2.1"/>
<circle class="rc" cx="243.37" cy="537.18" r="2.1"/>
<circle class="rc" cx="242.32" cy="536.19" r="2.1"/>
<circle class="rc" cx="241.52" cy="534.95" r="2.1"/>
<circle class="rc" cx="242.18" cy="533.4" r="2.1"/>
<circle class="rc" cx="241.76" cy="534.79" r="2.1"/>
<circle class="rc" cx="244.26" cy="536.57" r="2.1"/>
<circle class="rc" cx="245.33" cy="536.22" r="2.1"/>
<circle class="rc" cx="244.9" cy="535.49" r="2.1"/>
<circle class="rc" cx="244.26" cy="534.33" r="2.1"/>
<circle class="rc" cx="242.98" cy="531.78" r="2.1"/>
<circle class="rc" cx="245.23" cy="534.08" r="2.1"/>
<circle class="rc" cx="243.64" cy="532.55" r="2.1"/>
<circle class="rc" cx="248.29" cy="538.72" r="2.1"/>
<circle class="rc" cx="241.4" cy="527.66" r="2.1"/>
<circle class="rc" cx="243.14" cy="531.79" r="2.1"/>
<circle class="rc" cx="248.5" cy="535.85" r="2.1"/>
<circle class="rc" cx="246.14" cy="533.92" r="2.1"/>
<circle class="rc" cx="244.42" cy="530.23" r="2.1"/>
<circle class="rc" cx="244.95" cy="531.49" r="2.1"/>
<circle class="rc" cx="245.81" cy="532.07" r="2.1"/>
<circle class="rc" cx="246.06" cy="530.56" r="2.1"/>
<circle class="rc" cx="251.28" cy="536.81" r="2.1"/>
<circle class="rc" cx="249.26" cy="533.48" r="2.1"/>
<circle class="rc" cx="248.51" cy="531.99" r="2.1"/>
<circle class="rc" cx="243.61" cy="525.56" r="2.1"/>
<circle class="rc" cx="249.14" cy="532.74" r="2.1"/>
<circle class="rc" cx="253.02" cy="534.4" r="2.1"/>
<circle class="rc" cx="254.53" cy="536.6" r="2.1"/>
<circle class="rc" cx="245.32" cy="525.92" r="2.1"/>
<circle class="rc" cx="246.98" cy="525.61" r="2.1"/>
<circle class="rc" cx="251.09" cy="531.46" r="2.1"/>
<circle class="rc" cx="250.61" cy="529.17" r="2.1"/>
<circle class="rc" cx="250.3" cy="528.55" r="2.1"/>
<circle class="rc" cx="249.17" cy="527.36" r="2.1"/>
<circle class="rc" cx="251.71" cy="531.29" r="2.1"/>
<circle class="rc" cx="253.1" cy="529.51" r="2.1"/>
<circle class="rc" cx="251.96" cy="528.68" r="2.1"/>
<circle class="rc" cx="250.8" cy="527.53" r="2.1"/>
<circle class="rc" cx="251.1" cy="528.37" r="2.1"/>
<circle class="rc" cx="253.91" cy="528.53" r="2.1"/>
<circle class="rc" cx="248.43" cy="523.54" r="2.1"/>
<circle class="rc" cx="253.41" cy="527.02" r="2.1"/>
<circle class="rc" cx="250.82" cy="523.36" r="2.1"/>
<circle class="rc" cx="252.47" cy="524.87" r="2.1"/>
<circle class="rc" cx="251.93" cy="525.28" r="2.1"/>
<circle class="rc" cx="257.14" cy="531.14" r="2.1"/>
<circle class="rc" cx="251.08" cy="523.37" r="2.1"/>
<circle class="rc" cx="255.12" cy="527.49" r="2.1"/>
<circle class="rc" cx="253.3" cy="525.02" r="2.1"/>
<circle class="rc" cx="255.2" cy="525.05" r="2.1"/>
<circle class="rc" cx="250.45" cy="522.89" r="2.1"/>
<circle class="rc" cx="254.14" cy="524.47" r="2.1"/>
<circle class="rc" cx="257.13" cy="526.82" r="2.1"/>
<circle class="rc" cx="256.79" cy="525.89" r="2.1"/>
<circle class="rc" cx="256.14" cy="524.52" r="2.1"/>
<circle class="rc" cx="260.69" cy="527.62" r="2.1"/>
<circle class="rc" cx="248.85" cy="519.2" r="2.1"/>
<circle class="rc" cx="259.88" cy="527.36" r="2.1"/>
<circle class="rc" cx="259.26" cy="524.96" r="2.1"/>
<circle class="rc" cx="256" cy="521.99" r="2.1"/>
<circle class="rc" cx="255.33" cy="521.61" r="2.1"/>
<circle class="rc" cx="261.01" cy="525.04" r="2.1"/>
<circle class="rc" cx="253.36" cy="519.36" r="2.1"/>
<circle class="rc" cx="257.78" cy="521.26" r="2.1"/>
<circle class="rc" cx="258.98" cy="523.54" r="2.1"/>
<circle class="rc" cx="258.8" cy="522.42" r="2.1"/>
<circle class="rc" cx="253.09" cy="516.22" r="2.1"/>
<circle class="rc" cx="260.81" cy="522.79" r="2.1"/>
<circle class="rc" cx="257.65" cy="520.2" r="2.1"/>
<circle class="rc" cx="258.11" cy="518.35" r="2.1"/>
<circle class="rc" cx="258.04" cy="518.26" r="2.1"/>
<circle class="rc" cx="261.78" cy="520.77" r="2.1"/>
<circle class="rc" cx="258.99" cy="518.26" r="2.1"/>
<circle class="rc" cx="259.01" cy="517.9" r="2.1"/>
<circle class="rc" cx="256.45" cy="517.29" r="2.1"/>
<circle class="rc" cx="257.75" cy="515.65" r="2.1"/>
<circle class="rc" cx="267.21" cy="523.31" r="2.1"/>
<circle class="rc" cx="261.61" cy="518.24" r="2.1"/>
<circle class="rc" cx="265.52" cy="521.29" r="2.1"/>
<circle class="rc" cx="260.81" cy="517.6" r="2.1"/>
<circle class="rc" cx="267.82" cy="521.96" r="2.1"/>
<circle class="rc" cx="259.95" cy="516.94" r="2.1"/>
<circle class="rc" cx="257.04" cy="512.47" r="2.1"/>
<circle class="rc" cx="263.24" cy="517.89" r="2.1"/>
<circle class="rc" cx="260.32" cy="515.01" r="2.1"/>
<circle class="rc" cx="262.34" cy="516.47" r="2.1"/>
<circle class="rc" cx="263.82" cy="516.14" r="2.1"/>
<circle class="rc" cx="263.45" cy="515.18" r="2.1"/>
<circle class="rc" cx="261.41" cy="513.58" r="2.1"/>
<circle class="rc" cx="261.91" cy="514.93" r="2.1"/>
<circle class="rc" cx="266.47" cy="517.57" r="2.1"/>
<circle class="rc" cx="262.65" cy="512.61" r="2.1"/>
<circle class="rc" cx="265.96" cy="514.54" r="2.1"/>
<circle class="rc" cx="265.77" cy="515.78" r="2.1"/>
<circle class="rc" cx="260.96" cy="510.39" r="2.1"/>
<circle class="rc" cx="268.13" cy="514.29" r="2.1"/>
<circle class="rc" cx="262.47" cy="509.41" r="2.1"/>
<circle class="rc" cx="264.53" cy="512.28" r="2.1"/>
<circle class="rc" cx="263.6" cy="509.92" r="2.1"/>
<circle class="rc" cx="267.01" cy="512.31" r="2.1"/>
<circle class="rc" cx="265.86" cy="509.99" r="2.1"/>
<circle class="rc" cx="269.62" cy="512.29" r="2.1"/>
<circle class="rc" cx="265.17" cy="507.13" r="2.1"/>
<circle class="rc" cx="270.73" cy="512.93" r="2.1"/>
<circle class="rc" cx="266.4" cy="509.06" r="2.1"/>
<circle class="rc" cx="263.19" cy="506.14" r="2.1"/>
<circle class="rc" cx="268.38" cy="510.24" r="2.1"/>
<circle class="rc" cx="265.09" cy="505.89" r="2.1"/>
<circle class="rc" cx="266.06" cy="505.05" r="2.1"/>
<circle class="rc" cx="270.97" cy="507.15" r="2.1"/>
<circle class="rc" cx="265.6" cy="503.29" r="2.1"/>
<circle class="rc" cx="274.76" cy="507.83" r="2.1"/>
<circle class="rc" cx="272.96" cy="507.6" r="2.1"/>
<circle class="rc" cx="266.31" cy="499.73" r="2.1"/>
<circle class="rc" cx="277.33" cy="506.95" r="2.1"/>
<circle class="rc" cx="274.4" cy="505.54" r="2.1"/>
<circle class="rc" cx="267.51" cy="500.37" r="2.1"/>
<circle class="rc" cx="272.29" cy="502.91" r="2.1"/>
<circle class="rc" cx="272.01" cy="502.21" r="2.1"/>
<circle class="rc" cx="274.11" cy="502.79" r="2.1"/>
<circle class="rc" cx="271.86" cy="501.32" r="2.1"/>
<circle class="rc" cx="275.32" cy="502.76" r="2.1"/>
<circle class="rc" cx="276.79" cy="502.48" r="2.1"/>
<circle class="rc" cx="278.87" cy="503.57" r="2.1"/>
<circle class="rc" cx="268.69" cy="496.63" r="2.1"/>
<circle class="rc" cx="272.3" cy="498.93" r="2.1"/>
<circle class="rc" cx="276.43" cy="501.75" r="2.1"/>
<circle class="rc" cx="271.44" cy="496.99" r="2.1"/>
<circle class="rc" cx="275.94" cy="498.52" r="2.1"/>
<circle class="rc" cx="271.48" cy="494.46" r="2.1"/>
<circle class="rc" cx="274.87" cy="497.88" r="2.1"/>
<circle class="rc" cx="281.99" cy="500.86" r="2.1"/>
<circle class="rc" cx="278.43" cy="499.32" r="2.1"/>
<circle class="rc" cx="283.05" cy="501.01" r="2.1"/>
<circle class="rc" cx="281.25" cy="498.17" r="2.1"/>
<circle class="rc" cx="273.52" cy="491.97" r="2.1"/>
<circle class="rc" cx="279.27" cy="495.14" r="2.1"/>
<circle class="rc" cx="281.23" cy="496.53" r="2.1"/>
<circle class="rc" cx="281.64" cy="495.25" r="2.1"/>
<circle class="rc" cx="277.87" cy="490.6" r="2.1"/>
<circle class="rc" cx="278.21" cy="492.07" r="2.1"/>
<circle class="rc" cx="276.9" cy="490.65" r="2.1"/>
<circle class="rc" cx="272.98" cy="485.93" r="2.1"/>
<circle class="rc" cx="277.56" cy="488.41" r="2.1"/>
<circle class="rc" cx="275.34" cy="488.68" r="2.1"/>
<circle class="rc" cx="280.72" cy="490.4" r="2.1"/>
<circle class="rc" cx="275.42" cy="487.33" r="2.1"/>
<circle class="rc" cx="280.37" cy="489.91" r="2.1"/>
<circle class="rc" cx="282.29" cy="488.99" r="2.1"/>
<circle class="rc" cx="280.68" cy="489.49" r="2.1"/>
<circle class="rc" cx="280.55" cy="487.04" r="2.1"/>
<circle class="rc" cx="278.39" cy="485.72" r="2.1"/>
<circle class="rc" cx="282.32" cy="487.63" r="2.1"/>
<circle class="rc" cx="288.5" cy="491.13" r="2.1"/>
<circle class="rc" cx="281.56" cy="486.7" r="2.1"/>
<circle class="rc" cx="283.72" cy="486.52" r="2.1"/>
<circle class="rc" cx="279.64" cy="484.44" r="2.1"/>
<circle class="rc" cx="284.83" cy="485.37" r="2.1"/>
<circle class="rc" cx="284.96" cy="486.79" r="2.1"/>
<circle class="rc" cx="286.04" cy="486.39" r="2.1"/>
<circle class="rc" cx="283.54" cy="483.45" r="2.1"/>
<circle class="rc" cx="282.11" cy="482.88" r="2.1"/>
<circle class="rc" cx="283.28" cy="480.91" r="2.1"/>
<circle class="rc" cx="280.91" cy="479.26" r="2.1"/>
<circle class="rc" cx="283.48" cy="481.05" r="2.1"/>
<circle class="rc" cx="289.18" cy="484.22" r="2.1"/>
<circle class="rc" cx="290.05" cy="483.18" r="2.1"/>
<rect class="rs" x="205.05" y="555.39" width="4" height="4"/>
<rect class="rs" x="209.93" y="554.67" width="4" height="4"/>
<rect class="rs" x="240.72" y="538.18" width="4" height="4"/>
<rect class="rs" x="288.05" y="481.18" width="4" height="4"/>
<rect class="rs" x="230.72" y="538.07" width="4" height="4"/>
<rect class="rs" x="278.55" y="485.04" width="4" height="4"/>
<rect class="rs" x="246.85" y="517.2" width="4" height="4"/>
<rect class="rs" x="203.94" y="557.18" width="4" height="4"/>
<rect class="rs" x="235.85" y="538.25" width="4" height="4"/>
<rect class="rs" x="226.99" y="542.59" width="4" height="4"/>
<rect class="rs" x="263.6" y="501.29" width="4" height="4"/>
<rect class="rs" x="209.76" y="547.54" width="4" height="4"/>
<rect class="rs" x="256.04" y="516.26" width="4" height="4"/>
<rect class="rs" x="248.3" y="526.55" width="4" height="4"/>
<rect class="rs" x="277.27" y="493.14" width="4" height="4"/>
<rect class="rs" x="200.44" y="545.02" width="4" height="4"/>
<rect class="rs" x="206.58" y="551.41" width="4" height="4"/>
<rect class="rs" x="263.17" y="505.13" width="4" height="4"/>
<rect class="rs" x="261.6" y="507.92" width="4" height="4"/>
<rect class="rs" x="219.47" y="547.48" width="4" height="4"/>
<rect class="rs" x="241.37" y="535.18" width="4" height="4"/>
<rect class="rs" x="239.4" y="525.66" width="4" height="4"/>
<rect class="rs" x="268.97" y="505.15" width="4" height="4"/>
<rect class="rs" x="273.34" y="486.68" width="4" height="4"/>
<rect class="rs" x="252.53" y="534.6" width="4" height="4"/>
<rect class="rs" x="223.72" y="539.27" width="4" height="4"/>
<rect class="rs" x="229.04" y="539.1" width="4" height="4"/>
<rect class="rs" x="265.82" y="519.96" width="4" height="4"/>
<rect class="rs" x="239.76" y="532.79" width="4" height="4"/>
<rect class="rs" x="217.18" y="550.95" width="4" height="4"/>
<rect class="rs" x="236.19" y="542.18" width="4" height="4"/>
<rect class="rs" x="239.21" y="536.23" width="4" height="4"/>
<rect class="rs" x="279.64" y="493.25" width="4" height="4"/>
<rect class="rs" x="224.83" y="545.5" width="4" height="4"/>
<rect class="rs" x="218.05" y="555.14" width="4" height="4"/>
<rect class="rs" x="266.13" y="512.29" width="4" height="4"/>
<rect class="rs" x="242.9" y="533.49" width="4" height="4"/>
<rect class="rs" x="231.98" y="534.89" width="4" height="4"/>
<rect class="rs" x="202.89" y="555.21" width="4" height="4"/>
<rect class="rs" x="198.82" y="553.46" width="4" height="4"/>
<rect class="rs" x="275.33" y="504.95" width="4" height="4"/>
<rect class="rs" x="270.98" y="483.93" width="4" height="4"/>
<rect class="rs" x="263.77" y="513.78" width="4" height="4"/>
<rect class="rs" x="281.54" y="481.45" width="4" height="4"/>
<rect class="rs" x="206.63" y="555.15" width="4" height="4"/>
<rect class="rs" x="220.05" y="546.46" width="4" height="4"/>
<rect class="rs" x="209.81" y="545.02" width="4" height="4"/>
<rect class="rs" x="236.63" y="537.4" width="4" height="4"/>
<rect class="rs" x="242.98" y="537.7" width="4" height="4"/>
<rect class="rs" x="252.14" y="522.47" width="4" height="4"/>
<rect class="rs" x="241.64" y="530.55" width="4" height="4"/>
<rect class="rs" x="282.96" y="484.79" width="4" height="4"/>
<rect class="rs" x="229.03" y="549.61" width="4" height="4"/>
<rect class="rs" x="238.69" y="540.92" width="4" height="4"/>
<rect class="rs" x="213.92" y="544.74" width="4" height="4"/>
<rect class="rs" x="276.39" y="483.72" width="4" height="4"/>
<rect class="rs" x="255.75" y="513.65" width="4" height="4"/>
<rect class="rs" x="253.33" y="519.61" width="4" height="4"/>
<rect class="rs" x="254.79" y="523.89" width="4" height="4"/>
<rect class="rs" x="196.56" y="559.74" width="4" height="4"/>
<rect class="rs" x="236" y="529.75" width="4" height="4"/>
<rect class="rs" x="219.75" y="553.5" width="4" height="4"/>
<rect class="rs" x="266.69" y="494.63" width="4" height="4"/>
<rect class="rs" x="280.32" y="485.63" width="4" height="4"/>
<rect class="rs" x="246.5" y="533.85" width="4" height="4"/>
<rect class="rs" x="259.41" y="511.58" width="4" height="4"/>
<rect class="rs" x="236.38" y="542.56" width="4" height="4"/>
<rect class="rs" x="217.95" y="558.94" width="4" height="4"/>
<rect class="rs" x="227.05" y="544.91" width="4" height="4"/>
<rect class="rs" x="249.71" y="529.29" width="4" height="4"/>
<rect class="rs" x="281.05" y="499.01" width="4" height="4"/>
<rect class="rs" x="199.58" y="559.63" width="4" height="4"/>
<rect class="rs" x="197.44" y="557.56" width="4" height="4"/>
<rect class="rs" x="263.52" y="519.29" width="4" height="4"/>
<rect class="rs" x="211.84" y="558.71" width="4" height="4"/>
<rect class="rs" x="235.08" y="540.41" width="4" height="4"/>
<rect class="rs" x="258.69" y="525.62" width="4" height="4"/>
<rect class="rs" x="212.76" y="547.05" width="4" height="4"/>
<rect class="rs" x="216.11" y="554.03" width="4" height="4"/>
<rect class="rs" x="243.81" y="530.07" width="4" height="4"/>
<rect class="rs" x="243.23" y="532.08" width="4" height="4"/>
<rect class="rs" x="248.45" y="520.89" width="4" height="4"/>
<rect class="rs" x="204.78" y="549.86" width="4" height="4"/>
<rect class="rs" x="244.98" y="523.61" width="4" height="4"/>
<rect class="rs" x="209" y="554.97" width="4" height="4"/>
<rect class="rs" x="272.11" y="500.79" width="4" height="4"/>
<rect class="rs" x="276.21" y="490.07" width="4" height="4"/>
<rect class="rs" x="215.56" y="536.16" width="4" height="4"/>
<rect class="rs" x="232.01" y="539.01" width="4" height="4"/>
<rect class="rs" x="218.14" y="549.78" width="4" height="4"/>
<circle class="ro" cx="239.3" cy="550.6" r="2.2"/>
<circle class="ro" cx="242.6" cy="551.4" r="2.2"/>
<circle class="ro" cx="250.9" cy="537.4" r="2.2"/>
<circle class="ro" cx="247.5" cy="540.5" r="2.2"/>
<circle class="ro" cx="236" cy="553" r="2.2"/>
<circle class="ro" cx="226" cy="557" r="2.2"/>
<circle class="rc" cx="89.8" cy="456.6" r="2.1"/>
<circle class="rc" cx="92.1" cy="454.3" r="2.1"/>
<circle class="rc" cx="94.6" cy="459.4" r="2.1"/>
<circle class="rc" cx="96.7" cy="453.9" r="2.1"/>
<circle class="rc" cx="98.9" cy="450.7" r="2.1"/>
<circle class="rc" cx="101.2" cy="456.4" r="2.1"/>
<circle class="rc" cx="103.5" cy="455.9" r="2.1"/>
<circle class="rc" cx="106.5" cy="459.4" r="2.1"/>
<circle class="rc" cx="108.7" cy="462.8" r="2.1"/>
<circle class="rc" cx="111.7" cy="466.7" r="2.1"/>
<circle class="rc" cx="114.4" cy="469.6" r="2.1"/>
<circle class="rc" cx="116.7" cy="472.6" r="2.1"/>
<circle class="rc" cx="119" cy="476.5" r="2.1"/>
<circle class="rc" cx="121.7" cy="483.3" r="2.1"/>
<circle class="rc" cx="124.7" cy="484.9" r="2.1"/>
<circle class="rc" cx="127" cy="486.3" r="2.1"/>
<circle class="rc" cx="129.3" cy="491.7" r="2.1"/>
<circle class="rc" cx="131.5" cy="494" r="2.1"/>
<circle class="rc" cx="133.8" cy="497" r="2.1"/>
<circle class="rc" cx="136.8" cy="500.9" r="2.1"/>
<circle class="rc" cx="139.5" cy="506.1" r="2.1"/>
<circle class="rc" cx="142.3" cy="508.4" r="2.1"/>
<circle class="rc" cx="144.5" cy="512.3" r="2.1"/>
<circle class="rc" cx="147.5" cy="516.8" r="2.1"/>
<circle class="rc" cx="150.5" cy="521.4" r="2.1"/>
<circle class="rc" cx="153.2" cy="525.5" r="2.1"/>
<circle class="rc" cx="156" cy="529" r="2.1"/>
<circle class="rc" cx="159" cy="533" r="2.1"/>
<circle class="rc" cx="162" cy="536.4" r="2.1"/>
<circle class="rc" cx="165" cy="539.5" r="2.1"/>
<circle class="rc" cx="168" cy="542.5" r="2.1"/>
<circle class="rc" cx="171" cy="545" r="2.1"/>
<circle class="rc" cx="174" cy="547.5" r="2.1"/>
<circle class="rc" cx="177" cy="549.5" r="2.1"/>
<circle class="rc" cx="180" cy="551.5" r="2.1"/>
<circle class="rc" cx="183" cy="553" r="2.1"/>
<circle class="rc" cx="186" cy="554.5" r="2.1"/>
<circle class="rc" cx="189" cy="555.5" r="2.1"/>
<circle class="rc" cx="192" cy="556.3" r="2.1"/>
<circle class="rc" cx="283.6" cy="483.4" r="2.1"/>
<circle class="rc" cx="288.2" cy="478.8" r="2.1"/>
<circle class="rc" cx="291.6" cy="473.1" r="2.1"/>
<circle class="rc" cx="295" cy="467.4" r="2.1"/>
<circle class="rc" cx="298.5" cy="460.5" r="2.1"/>
<circle class="rc" cx="301.9" cy="454.8" r="2.1"/>
<circle class="rc" cx="305.3" cy="449.1" r="2.1"/>
<circle class="rc" cx="308.7" cy="442.3" r="2.1"/>
<circle class="rc" cx="311" cy="437.7" r="2.1"/>
<circle class="rc" cx="314.5" cy="433.8" r="2.1"/>
<circle class="rc" cx="317.5" cy="429.5" r="2.1"/>
<rect class="rs" x="94.2" y="496.8" width="4" height="4"/>
<rect class="rs" x="97.6" y="505.2" width="4" height="4"/>
<rect class="rs" x="96" y="509.3" width="4" height="4"/>
<rect class="rs" x="101" y="510.3" width="4" height="4"/>
<rect class="rs" x="103.8" y="517.8" width="4" height="4"/>
<rect class="rs" x="106.7" y="513.9" width="4" height="4"/>
<rect class="rs" x="109" y="519.4" width="4" height="4"/>
<rect class="rs" x="112.4" y="516.6" width="4" height="4"/>
<rect class="rs" x="115.2" y="513.2" width="4" height="4"/>
<rect class="rs" x="118.1" y="512.1" width="4" height="4"/>
<rect class="rs" x="120.4" y="516.2" width="4" height="4"/>
<rect class="rs" x="117" y="508.7" width="4" height="4"/>
<rect class="rs" x="123" y="518" width="4" height="4"/>
<rect class="rs" x="126" y="522" width="4" height="4"/>
<circle class="rc" cx="116.3" cy="539.8" r="2.1"/>
<circle class="rc" cx="120.1" cy="542.6" r="2.1"/>
<circle class="rc" cx="122.4" cy="538" r="2.1"/>
<circle class="ro" cx="122.4" cy="503.8" r="2.2"/>
<circle class="ro" cx="125.5" cy="507.5" r="2.2"/>
<circle class="ro" cx="129" cy="517" r="2.2"/>
<circle class="ro" cx="133" cy="521" r="2.2"/>
<circle class="ro" cx="136" cy="526" r="2.2"/>
<clipPath id="ti1"><rect x="62" y="432.5" width="135.4" height="95.9"/><rect x="197.4" y="432.5" width="135" height="81.1"/></clipPath><g clip-path="url(#ti1)">
<path d="M92.78,423.88 L93.3,425.28 L93.82,426.68 L94.34,428.07 L94.87,429.45 L95.39,430.83 L95.91,432.2 L96.44,433.56 L96.96,434.92 L97.48,436.27 L98.01,437.62 L98.53,438.95 L99.05,440.28 L99.58,441.6 L100.1,442.92 L100.62,444.22 L101.14,445.52 L101.67,446.81 L102.19,448.09 L102.71,449.37 L103.24,450.64 L103.76,451.9 L104.28,453.15 L104.81,454.4 L105.33,455.63 L105.85,456.86 L106.38,458.09 L106.9,459.3 L107.42,460.51 L107.95,461.71 L108.47,462.9 L108.99,464.09 L109.52,465.26 L110.04,466.43 L110.56,467.6 L111.08,468.75 L111.61,469.9 L112.13,471.04 L112.65,472.17 L113.18,473.3 L113.7,474.41 L114.22,475.52 L114.75,476.62 L115.27,477.72 L115.79,478.81 L116.32,479.89 L116.84,480.96 L117.36,482.02 L117.89,483.08 L118.41,484.13 L118.93,485.17 L119.45,486.21 L119.98,487.24 L120.5,488.26 L121.02,489.27 L121.55,490.28 L122.07,491.27 L122.59,492.26 L123.12,493.25 L123.64,494.22 L124.16,495.19 L124.69,496.15 L125.21,497.1 L125.73,498.05 L126.26,498.99 L126.78,499.92 L127.3,500.84 L127.82,501.76 L128.35,502.67 L128.87,503.57 L129.39,504.46 L129.92,505.35 L130.44,506.23 L130.96,507.1 L131.49,507.97 L132.01,508.82 L132.53,509.67 L133.06,510.52 L133.58,511.35 L134.1,512.18 L134.62,513 L135.15,513.81 L135.67,514.62 L136.19,515.42 L136.72,516.21 L137.24,516.99 L137.76,517.77 L138.29,518.54 L138.81,519.3 L139.33,520.06 L139.86,520.8 L140.38,521.54 L140.9,522.28 L141.43,523 L141.95,523.72 L142.47,524.43 L143,525.14 L143.52,525.83 L144.04,526.52 L144.56,527.2 L145.09,527.88 L145.61,528.54 L146.13,529.2 L146.66,529.85 L147.18,530.49 L147.7,531.12 L148.23,531.75 L148.75,532.37 L149.27,532.99 L149.8,533.59 L150.32,534.19 L150.84,534.78 L151.37,535.37 L151.89,535.95 L152.41,536.52 L152.93,537.08 L153.46,537.64 L153.98,538.19 L154.5,538.74 L155.03,539.27 L155.55,539.8 L156.07,540.32 L156.6,540.84 L157.12,541.35 L157.64,541.85 L158.17,542.34 L158.69,542.83 L159.21,543.31 L159.74,543.79 L160.26,544.25 L160.78,544.71 L161.3,545.17 L161.83,545.61 L162.35,546.05 L162.87,546.48 L163.4,546.91 L163.92,547.33 L164.44,547.74 L164.97,548.14 L165.49,548.54 L166.01,548.93 L166.54,549.32 L167.06,549.69 L167.58,550.06 L168.11,550.43 L168.63,550.78 L169.15,551.13 L169.67,551.48 L170.2,551.81 L170.72,552.14 L171.24,552.46 L171.77,552.78 L172.29,553.09 L172.81,553.39 L173.34,553.69 L173.86,553.97 L174.38,554.26 L174.91,554.53 L175.43,554.8 L175.95,555.06 L176.47,555.32 L177,555.57 L177.52,555.81 L178.04,556.04 L178.57,556.27 L179.09,556.49 L179.61,556.71 L180.14,556.91 L180.66,557.11 L181.18,557.3 L181.71,557.48 L182.23,557.66 L182.75,557.83 L183.28,558 L183.8,558.16 L184.32,558.31 L184.84,558.46 L185.37,558.6 L185.89,558.74 L186.41,558.87 L186.94,558.99 L187.46,559.11 L187.98,559.22 L188.51,559.33 L189.03,559.43 L189.55,559.52 L190.08,559.61 L190.6,559.69 L191.12,559.77 L191.65,559.83 L192.17,559.9 L192.69,559.96 L193.22,560.01 L193.74,560.05 L194.26,560.09 L194.78,560.12 L195.31,560.15 L195.83,560.17 L196.35,560.19 L196.88,560.2 L197.4,560.2" fill="none" stroke="#000" stroke-width="1.7" stroke-dasharray="5.5 3"/>
<path d="M197.4,560.2 L197.98,560.2 L198.56,560.18 L199.15,560.16 L199.73,560.13 L200.31,560.09 L200.89,560.05 L201.48,559.99 L202.06,559.92 L202.64,559.85 L203.22,559.77 L203.8,559.68 L204.39,559.58 L204.97,559.47 L205.55,559.36 L206.13,559.23 L206.72,559.1 L207.3,558.96 L207.88,558.81 L208.46,558.65 L209.04,558.48 L209.63,558.3 L210.21,558.12 L210.79,557.92 L211.37,557.72 L211.95,557.51 L212.54,557.29 L213.12,557.06 L213.7,556.83 L214.28,556.58 L214.87,556.37 L215.45,556.14 L216.03,555.92 L216.61,555.68 L217.19,555.45 L217.78,555.2 L218.36,554.95 L218.94,554.7 L219.52,554.44 L220.11,554.18 L220.69,553.91 L221.27,553.64 L221.85,553.36 L222.43,553.08 L223.02,552.79 L223.6,552.5 L224.18,552.17 L224.76,551.83 L225.34,551.48 L225.93,551.12 L226.51,550.76 L227.09,550.39 L227.67,550.01 L228.26,549.63 L228.84,549.23 L229.42,548.84 L230,548.43 L230.58,548.02 L231.17,547.6 L231.75,547.17 L232.33,546.74 L232.91,546.3 L233.5,545.85 L234.08,545.4 L234.66,544.94 L235.24,544.47 L235.82,543.99 L236.41,543.51 L236.99,543.02 L237.57,542.53 L238.15,542.03 L238.74,541.52 L239.32,541 L239.9,540.48 L240.48,539.95 L241.06,539.41 L241.65,538.87 L242.23,538.32 L242.81,537.76 L243.39,537.2 L243.97,536.63 L244.56,536.05 L245.14,535.47 L245.72,534.88 L246.3,534.31 L246.89,533.75 L247.47,533.18 L248.05,532.6 L248.63,532.02 L249.21,531.43 L249.8,530.84 L250.38,530.25 L250.96,529.64 L251.54,529.04 L252.13,528.42 L252.71,527.8 L253.29,527.18 L253.87,526.55 L254.45,525.92 L255.04,525.28 L255.62,524.63 L256.2,523.98 L256.78,523.32 L257.37,522.66 L257.95,522 L258.53,521.32 L259.11,520.65 L259.69,519.96 L260.28,519.28 L260.86,518.58 L261.44,517.88 L262.02,517.18 L262.61,516.47 L263.19,515.76 L263.77,515.04 L264.35,514.32 L264.93,513.59 L265.52,512.84 L266.1,512.04 L266.68,511.23 L267.26,510.42 L267.84,509.6 L268.43,508.78 L269.01,507.94 L269.59,507.1 L270.17,506.26 L270.76,505.4 L271.34,504.55 L271.92,503.68 L272.5,502.81 L273.08,501.93 L273.67,501.04 L274.25,500.15 L274.83,499.25 L275.41,498.35 L276,497.44 L276.58,496.52 L277.16,495.59 L277.74,494.66 L278.32,493.72 L278.91,492.78 L279.49,491.83 L280.07,490.87 L280.65,489.91 L281.24,488.94 L281.82,487.96 L282.4,486.98 L282.98,485.99 L283.56,484.99 L284.15,483.99 L284.73,482.98 L285.31,481.96 L285.89,480.94 L286.47,479.91 L287.06,478.87 L287.64,477.83 L288.22,476.78 L288.8,475.72 L289.39,474.66 L289.97,473.59 L290.55,472.52 L291.13,471.44 L291.71,470.35 L292.3,469.25 L292.88,468.15 L293.46,467.04 L294.04,465.93 L294.63,464.81 L295.21,463.68 L295.79,462.55 L296.37,461.41 L296.95,460.26 L297.54,459.11 L298.12,457.95 L298.7,456.78 L299.28,455.61 L299.87,454.43 L300.45,453.24 L301.03,452.05 L301.61,450.85 L302.19,449.65 L302.78,448.43 L303.36,447.22 L303.94,445.99 L304.52,444.76 L305.1,443.52 L305.69,442.28 L306.27,441.03 L306.85,439.77 L307.43,438.5 L308.02,437.23 L308.6,435.96 L309.18,434.67 L309.76,433.38 L310.34,431.95 L310.93,430.46 L311.51,428.97 L312.09,427.47 L312.67,425.95 L313.26,424.43 L313.84,422.9" fill="none" stroke="#000" stroke-width="1.7" stroke-dasharray="5.5 3"/>
</g>
</g>
<rect x="62" y="432.5" width="270.4" height="134.3" fill="none" stroke="#1e1e1e" stroke-width="1.05"/>
<line x1="79.28" y1="566.8" x2="79.28" y2="564.1" stroke="#555" stroke-width="0.85" />
<line x1="113.03" y1="566.8" x2="113.03" y2="564.1" stroke="#555" stroke-width="0.85" />
<line x1="129.9" y1="566.8" x2="129.9" y2="564.1" stroke="#555" stroke-width="0.85" />
<line x1="146.78" y1="566.8" x2="146.78" y2="564.1" stroke="#555" stroke-width="0.85" />
<line x1="180.53" y1="566.8" x2="180.53" y2="564.1" stroke="#555" stroke-width="0.85" />
<line x1="197.4" y1="566.8" x2="197.4" y2="564.1" stroke="#555" stroke-width="0.85" />
<line x1="214.28" y1="566.8" x2="214.28" y2="564.1" stroke="#555" stroke-width="0.85" />
<line x1="248.03" y1="566.8" x2="248.03" y2="564.1" stroke="#555" stroke-width="0.85" />
<line x1="264.9" y1="566.8" x2="264.9" y2="564.1" stroke="#555" stroke-width="0.85" />
<line x1="281.78" y1="566.8" x2="281.78" y2="564.1" stroke="#555" stroke-width="0.85" />
<line x1="315.53" y1="566.8" x2="315.53" y2="564.1" stroke="#555" stroke-width="0.85" />
<line x1="129.9" y1="566.8" x2="129.9" y2="561.8" stroke="#333" stroke-width="1.0" />
<line x1="197.4" y1="566.8" x2="197.4" y2="561.8" stroke="#333" stroke-width="1.0" />
<line x1="264.9" y1="566.8" x2="264.9" y2="561.8" stroke="#333" stroke-width="1.0" />
<line x1="62" y1="547.48" x2="64.7" y2="547.48" stroke="#555" stroke-width="0.85" />
<line x1="62" y1="534.75" x2="64.7" y2="534.75" stroke="#555" stroke-width="0.85" />
<line x1="62" y1="522.03" x2="64.7" y2="522.03" stroke="#555" stroke-width="0.85" />
<line x1="62" y1="496.58" x2="64.7" y2="496.58" stroke="#555" stroke-width="0.85" />
<line x1="62" y1="483.85" x2="64.7" y2="483.85" stroke="#555" stroke-width="0.85" />
<line x1="62" y1="471.13" x2="64.7" y2="471.13" stroke="#555" stroke-width="0.85" />
<line x1="62" y1="445.68" x2="64.7" y2="445.68" stroke="#555" stroke-width="0.85" />
<line x1="62" y1="560.2" x2="67" y2="560.2" stroke="#333" stroke-width="1.0" />
<line x1="62" y1="509.3" x2="67" y2="509.3" stroke="#333" stroke-width="1.0" />
<line x1="62" y1="458.4" x2="67" y2="458.4" stroke="#333" stroke-width="1.0" />
<text x="62.4" y="584.8" font-size="21.3" font-weight="normal" font-style="normal" text-anchor="middle" fill="#000" textLength="51.72" lengthAdjust="spacingAndGlyphs" stroke="#000" stroke-width="0.3">−0.4</text>
<text x="129.9" y="584.8" font-size="21.3" font-weight="normal" font-style="normal" text-anchor="middle" fill="#000" textLength="51.72" lengthAdjust="spacingAndGlyphs" stroke="#000" stroke-width="0.3">−0.2</text>
<text x="197.4" y="584.8" font-size="21.3" font-weight="normal" font-style="normal" text-anchor="middle" fill="#000" textLength="33.87" lengthAdjust="spacingAndGlyphs" stroke="#000" stroke-width="0.3">0.0</text>
<text x="264.9" y="584.8" font-size="21.3" font-weight="normal" font-style="normal" text-anchor="middle" fill="#000" textLength="33.87" lengthAdjust="spacingAndGlyphs" stroke="#000" stroke-width="0.3">0.2</text>
<text x="332.4" y="584.8" font-size="21.3" font-weight="normal" font-style="normal" text-anchor="middle" fill="#000" textLength="33.87" lengthAdjust="spacingAndGlyphs" stroke="#000" stroke-width="0.3">0.4</text>
<text x="59.9" y="568" font-size="21.3" font-weight="normal" font-style="normal" text-anchor="end" fill="#000" textLength="47.41" lengthAdjust="spacingAndGlyphs" stroke="#000" stroke-width="0.3">0.00</text>
<text x="59.9" y="517.1" font-size="21.3" font-weight="normal" font-style="normal" text-anchor="end" fill="#000" textLength="47.41" lengthAdjust="spacingAndGlyphs" stroke="#000" stroke-width="0.3">0.02</text>
<text x="59.9" y="466.2" font-size="21.3" font-weight="normal" font-style="normal" text-anchor="end" fill="#000" textLength="47.41" lengthAdjust="spacingAndGlyphs" stroke="#000" stroke-width="0.3">0.04</text>
<clipPath id="ci2"><rect x="417.9" y="438.5" width="257.5" height="127.7"/></clipPath><g clip-path="url(#ci2)">
<path d="M426.22,434.6 L427.23,436.75 L428.23,438.88 L429.24,440.99 L430.24,443.09 L431.25,445.16 L432.25,447.21 L433.26,449.25 L434.27,451.26 L435.27,453.26 L436.28,455.24 L437.28,457.2 L438.29,459.14 L439.29,461.06 L440.3,462.96 L441.3,464.84 L442.31,466.71 L443.32,468.55 L444.32,470.38 L445.33,472.18 L446.33,473.97 L447.34,475.74 L448.34,477.49 L449.35,479.22 L450.36,480.93 L451.36,482.63 L452.37,484.3 L453.37,485.96 L454.38,487.6 L455.38,489.22 L456.39,490.82 L457.4,492.4 L458.4,493.96 L459.41,495.5 L460.41,497.03 L461.42,498.53 L462.42,500.02 L463.43,501.49 L464.44,502.94 L465.44,504.37 L466.45,505.78 L467.45,507.17 L468.46,508.55 L469.46,509.91 L470.47,511.24 L471.47,512.56 L472.48,513.86 L473.49,515.15 L474.49,516.41 L475.5,517.66 L476.5,518.88 L477.51,520.09 L478.51,521.28 L479.52,522.45 L480.53,523.61 L481.53,524.74 L482.54,525.86 L483.54,526.95 L484.55,528.03 L485.55,529.09 L486.56,530.14 L487.57,531.16 L488.57,532.17 L489.58,533.16 L490.58,534.12 L491.59,535.08 L492.59,536.01 L493.6,536.92 L494.61,537.82 L495.61,538.7 L496.62,539.56 L497.62,540.4 L498.63,541.23 L499.63,542.03 L500.64,542.82 L501.64,543.59 L502.65,544.33 L503.66,545.04 L504.66,545.74 L505.67,546.42 L506.67,547.08 L507.68,547.73 L508.68,548.36 L509.69,548.98 L510.7,549.58 L511.7,550.16 L512.71,550.72 L513.71,551.27 L514.72,551.81 L515.72,552.32 L516.73,552.82 L517.74,553.31 L518.74,553.77 L519.75,554.22 L520.75,554.66 L521.76,555.08 L522.76,555.48 L523.77,555.86 L524.78,556.23 L525.78,556.58 L526.79,556.92 L527.79,557.24 L528.8,557.54 L529.8,557.83 L530.81,558.1 L531.81,558.36 L532.82,558.59 L533.83,558.81 L534.83,559.02 L535.84,559.21 L536.84,559.38 L537.85,559.54 L538.85,559.68 L539.86,559.8 L540.87,559.9 L541.87,560 L542.88,560.07 L543.88,560.13 L544.89,560.17 L545.89,560.19 L546.9,560.2" fill="none" stroke="#000" stroke-width="1.7" stroke-dasharray="5.5 3"/>
<path d="M546.9,560.2 L547.98,560.19 L549.05,560.16 L550.13,560.1 L551.21,560.03 L552.29,559.93 L553.37,559.81 L554.44,559.67 L555.52,559.51 L556.6,559.32 L557.67,559.12 L558.75,558.89 L559.83,558.64 L560.91,558.37 L561.99,558.08 L563.06,557.76 L564.14,557.43 L565.22,557.07 L566.29,556.69 L567.37,556.29 L568.45,555.87 L569.53,555.43 L570.61,554.96 L571.68,554.47 L572.76,553.96 L573.84,553.43 L574.91,552.88 L575.99,552.31 L577.07,551.71 L578.15,551.09 L579.23,550.46 L580.3,549.79 L581.38,549.11 L582.46,548.41 L583.53,547.68 L584.61,546.94 L585.69,546.17 L586.77,545.38 L587.85,544.57 L588.92,543.73 L590,542.88 L591.08,542.12 L592.15,541.36 L593.23,540.58 L594.31,539.79 L595.39,538.99 L596.46,538.17 L597.54,537.34 L598.62,536.5 L599.7,535.64 L600.77,534.78 L601.85,533.9 L602.93,533 L604.01,532.1 L605.08,531.18 L606.16,530.25 L607.24,529.31 L608.32,528.35 L609.39,527.39 L610.47,526.41 L611.55,525.42 L612.63,524.41 L613.7,523.4 L614.78,522.29 L615.86,521.11 L616.94,519.91 L618.01,518.7 L619.09,517.46 L620.17,516.21 L621.25,514.95 L622.32,513.66 L623.4,512.36 L624.48,511.04 L625.56,509.7 L626.63,508.34 L627.71,506.97 L628.79,505.58 L629.87,504.17 L630.94,502.75 L632.02,501.3 L633.1,499.84 L634.18,498.37 L635.25,496.87 L636.33,495.36 L637.41,493.83 L638.49,492.28 L639.56,490.72 L640.64,489.14 L641.72,487.54 L642.8,485.92 L643.88,484.29 L644.95,482.64 L646.03,480.97 L647.11,479.29 L648.18,477.59 L649.26,475.87 L650.34,474.13 L651.42,472.38 L652.5,470.6 L653.57,468.82 L654.65,467.01 L655.73,465.19 L656.8,463.35 L657.88,461.49 L658.96,459.62 L660.04,457.73 L661.12,455.82 L662.19,453.89 L663.27,451.95 L664.35,449.99 L665.42,448.01 L666.5,446.02 L667.58,444.01 L668.66,441.98 L669.74,439.94 L670.81,437.88 L671.89,435.93 L672.97,433.98 L674.04,432 L675.12,430.02 L676.2,428.02" fill="none" stroke="#000" stroke-width="1.7" stroke-dasharray="5.5 3"/>
<circle class="gc" cx="571.01" cy="541.2" r="2.1"/>
<circle class="gc" cx="506.56" cy="545.2" r="2.1"/>
<circle class="gc" cx="481.7" cy="521.73" r="2.1"/>
<circle class="gc" cx="474.25" cy="513.44" r="2.1"/>
<circle class="gc" cx="546.99" cy="556.89" r="2.1"/>
<circle class="gc" cx="512.04" cy="544.12" r="2.1"/>
<circle class="gc" cx="474.62" cy="514.63" r="2.1"/>
<circle class="gc" cx="499.06" cy="543.3" r="2.1"/>
<circle class="gc" cx="476.01" cy="515.22" r="2.1"/>
<circle class="gc" cx="573.18" cy="540.8" r="2.1"/>
<circle class="gc" cx="581" cy="546.06" r="2.1"/>
<circle class="gc" cx="509.82" cy="549.87" r="2.1"/>
<circle class="gc" cx="521.36" cy="549" r="2.1"/>
<circle class="gc" cx="526.54" cy="549.72" r="2.1"/>
<circle class="gc" cx="611.72" cy="523.84" r="2.1"/>
<circle class="gc" cx="596.7" cy="544.96" r="2.1"/>
<circle class="gc" cx="546.79" cy="552.66" r="2.1"/>
<circle class="gc" cx="605.86" cy="537.68" r="2.1"/>
<circle class="gc" cx="605.31" cy="524.02" r="2.1"/>
<circle class="gc" cx="531.26" cy="553.15" r="2.1"/>
<circle class="gc" cx="529.22" cy="554.42" r="2.1"/>
<circle class="gc" cx="588.91" cy="550.56" r="2.1"/>
<circle class="gc" cx="542" cy="561.08" r="2.1"/>
<circle class="gc" cx="555.11" cy="553.7" r="2.1"/>
<circle class="gc" cx="467.86" cy="510.77" r="2.1"/>
<circle class="gc" cx="493.64" cy="539.44" r="2.1"/>
<circle class="gc" cx="559.51" cy="548.65" r="2.1"/>
<circle class="gc" cx="613.28" cy="531.98" r="2.1"/>
<circle class="gc" cx="554.87" cy="560.2" r="2.1"/>
<circle class="gc" cx="506.76" cy="545.72" r="2.1"/>
<circle class="gc" cx="472.31" cy="512.81" r="2.1"/>
<circle class="gc" cx="475.23" cy="525.62" r="2.1"/>
<circle class="gc" cx="610.68" cy="522.62" r="2.1"/>
<circle class="gc" cx="504.4" cy="545.69" r="2.1"/>
<circle class="gc" cx="549.66" cy="549.59" r="2.1"/>
<circle class="gc" cx="536.65" cy="556.42" r="2.1"/>
<circle class="gc" cx="598" cy="547" r="2.1"/>
<circle class="gc" cx="541.73" cy="559.13" r="2.1"/>
<circle class="gc" cx="503.21" cy="543.52" r="2.1"/>
<circle class="gc" cx="502.47" cy="543.74" r="2.1"/>
<circle class="gc" cx="528.15" cy="547" r="2.1"/>
<circle class="gc" cx="551.73" cy="552.14" r="2.1"/>
<circle class="gc" cx="552.69" cy="553.9" r="2.1"/>
<circle class="gc" cx="524.24" cy="554.26" r="2.1"/>
<circle class="gc" cx="577.02" cy="549.32" r="2.1"/>
<circle class="gc" cx="497.61" cy="531.1" r="2.1"/>
<circle class="gc" cx="578.71" cy="555.19" r="2.1"/>
<circle class="gc" cx="598.81" cy="545.17" r="2.1"/>
<circle class="gc" cx="562.98" cy="549.38" r="2.1"/>
<circle class="gc" cx="469.34" cy="519.18" r="2.1"/>
<circle class="gc" cx="575.59" cy="549.06" r="2.1"/>
<circle class="gc" cx="578.35" cy="553.24" r="2.1"/>
<circle class="gc" cx="495.12" cy="526.29" r="2.1"/>
<circle class="gc" cx="480.06" cy="519.79" r="2.1"/>
<circle class="gc" cx="497.47" cy="537.27" r="2.1"/>
<circle class="gc" cx="497.12" cy="533.61" r="2.1"/>
<circle class="gc" cx="498.11" cy="528.12" r="2.1"/>
<circle class="gc" cx="598.63" cy="539.21" r="2.1"/>
<circle class="gc" cx="479.54" cy="525.94" r="2.1"/>
<circle class="gc" cx="561.08" cy="553.37" r="2.1"/>
<circle class="gc" cx="566.21" cy="553.8" r="2.1"/>
<circle class="gc" cx="542.69" cy="559.43" r="2.1"/>
<circle class="gc" cx="607.38" cy="538.51" r="2.1"/>
<circle class="gc" cx="477.39" cy="517.66" r="2.1"/>
<circle class="gc" cx="500.77" cy="538.67" r="2.1"/>
<circle class="gc" cx="556.9" cy="560.67" r="2.1"/>
<circle class="gc" cx="535.12" cy="551.18" r="2.1"/>
<circle class="gc" cx="511.36" cy="545.76" r="2.1"/>
<circle class="gc" cx="478.94" cy="523.46" r="2.1"/>
<circle class="gc" cx="576.51" cy="548.52" r="2.1"/>
<circle class="gc" cx="525.49" cy="555.95" r="2.1"/>
<circle class="gc" cx="518.36" cy="547.18" r="2.1"/>
<circle class="gc" cx="479.73" cy="521.14" r="2.1"/>
<circle class="gc" cx="597.3" cy="533.55" r="2.1"/>
<circle class="gc" cx="611.28" cy="532.83" r="2.1"/>
<circle class="gc" cx="531.91" cy="553.66" r="2.1"/>
<circle class="gc" cx="473.85" cy="515.47" r="2.1"/>
<circle class="gc" cx="565.14" cy="544.05" r="2.1"/>
<circle class="gc" cx="614.61" cy="529.51" r="2.1"/>
<circle class="gc" cx="517.63" cy="545.89" r="2.1"/>
<circle class="gc" cx="538.68" cy="552.34" r="2.1"/>
<circle class="gc" cx="569.53" cy="548.18" r="2.1"/>
<circle class="gc" cx="489.88" cy="522.76" r="2.1"/>
<circle class="gc" cx="580.41" cy="547.36" r="2.1"/>
<circle class="gc" cx="589.08" cy="542.38" r="2.1"/>
<circle class="gc" cx="469.27" cy="518.33" r="2.1"/>
<circle class="gc" cx="518.17" cy="554.43" r="2.1"/>
<circle class="gc" cx="515.71" cy="552.75" r="2.1"/>
<circle class="gc" cx="586.6" cy="543.14" r="2.1"/>
<circle class="gc" cx="540.07" cy="560.38" r="2.1"/>
<circle class="gc" cx="613.01" cy="530.09" r="2.1"/>
<circle class="gc" cx="480.91" cy="517.27" r="2.1"/>
<circle class="gc" cx="536.35" cy="555.66" r="2.1"/>
<circle class="gc" cx="532.83" cy="547.95" r="2.1"/>
<circle class="gc" cx="510.12" cy="542.55" r="2.1"/>
<circle class="gc" cx="473.88" cy="513.05" r="2.1"/>
<circle class="gc" cx="548.98" cy="551.7" r="2.1"/>
<circle class="gc" cx="521.24" cy="545.96" r="2.1"/>
<circle class="gc" cx="573.21" cy="542.44" r="2.1"/>
<circle class="gc" cx="553.91" cy="555.08" r="2.1"/>
<circle class="gc" cx="548" cy="554.59" r="2.1"/>
<circle class="gc" cx="527.5" cy="555.92" r="2.1"/>
<circle class="gc" cx="561.21" cy="557.59" r="2.1"/>
<circle class="gc" cx="558.92" cy="549.25" r="2.1"/>
<circle class="gc" cx="469.87" cy="520.38" r="2.1"/>
<circle class="gc" cx="562.82" cy="544.61" r="2.1"/>
<circle class="gc" cx="495.08" cy="526.07" r="2.1"/>
<circle class="gc" cx="474.75" cy="520.44" r="2.1"/>
<circle class="gc" cx="567.16" cy="547.05" r="2.1"/>
<circle class="gc" cx="516.26" cy="548.79" r="2.1"/>
<circle class="gc" cx="521.07" cy="547.3" r="2.1"/>
<circle class="gc" cx="589.35" cy="549.94" r="2.1"/>
<circle class="gc" cx="594.56" cy="543.07" r="2.1"/>
<circle class="gc" cx="470.2" cy="520.73" r="2.1"/>
<circle class="gc" cx="585.8" cy="539.44" r="2.1"/>
<circle class="gc" cx="542.8" cy="554.27" r="2.1"/>
<circle class="gc" cx="549.41" cy="556.81" r="2.1"/>
<circle class="gc" cx="514.56" cy="548.19" r="2.1"/>
<circle class="gc" cx="606.1" cy="537.48" r="2.1"/>
<circle class="gc" cx="600.78" cy="528.99" r="2.1"/>
<circle class="gc" cx="493.71" cy="533.65" r="2.1"/>
<circle class="gc" cx="582.1" cy="544.63" r="2.1"/>
<circle class="gc" cx="557.9" cy="551.66" r="2.1"/>
<circle class="gc" cx="583.02" cy="541.38" r="2.1"/>
<circle class="gc" cx="595.81" cy="537.96" r="2.1"/>
<circle class="gc" cx="474.99" cy="519.51" r="2.1"/>
<circle class="gc" cx="567.66" cy="556.22" r="2.1"/>
<circle class="gc" cx="579.31" cy="551.06" r="2.1"/>
<circle class="gc" cx="569.41" cy="557.22" r="2.1"/>
<circle class="gc" cx="469.71" cy="514.2" r="2.1"/>
<circle class="gc" cx="556.21" cy="557.72" r="2.1"/>
<circle class="gc" cx="540.77" cy="556.01" r="2.1"/>
<circle class="gc" cx="524.76" cy="555.1" r="2.1"/>
<circle class="gc" cx="529.48" cy="558.12" r="2.1"/>
<circle class="gc" cx="559.42" cy="553.97" r="2.1"/>
<circle class="gc" cx="472.66" cy="514.06" r="2.1"/>
<circle class="gc" cx="569.16" cy="542.35" r="2.1"/>
<circle class="gc" cx="584.49" cy="538.9" r="2.1"/>
<circle class="gc" cx="469.12" cy="513.09" r="2.1"/>
<circle class="gc" cx="466.53" cy="517.75" r="2.1"/>
<circle class="gc" cx="511.56" cy="537.2" r="2.1"/>
<circle class="gc" cx="521.37" cy="548.76" r="2.1"/>
<circle class="gc" cx="492.2" cy="526.44" r="2.1"/>
<circle class="gc" cx="490.7" cy="524.33" r="2.1"/>
<circle class="gc" cx="568.97" cy="544.71" r="2.1"/>
<circle class="gc" cx="548.84" cy="560.19" r="2.1"/>
<circle class="gc" cx="598.65" cy="542.74" r="2.1"/>
<circle class="gc" cx="533.53" cy="556.99" r="2.1"/>
<circle class="gc" cx="503.12" cy="543.49" r="2.1"/>
<circle class="gc" cx="521.06" cy="546.53" r="2.1"/>
<circle class="gc" cx="533.49" cy="555.18" r="2.1"/>
<circle class="gc" cx="617.63" cy="528.75" r="2.1"/>
<circle class="gc" cx="594.44" cy="534.92" r="2.1"/>
<circle class="gc" cx="511.02" cy="542.46" r="2.1"/>
<circle class="gc" cx="564.48" cy="543.92" r="2.1"/>
<circle class="gc" cx="535.35" cy="555.07" r="2.1"/>
<circle class="gc" cx="521.86" cy="555.89" r="2.1"/>
<circle class="gc" cx="550.65" cy="554.95" r="2.1"/>
<circle class="gc" cx="522.44" cy="556.38" r="2.1"/>
<circle class="gc" cx="479.76" cy="522.85" r="2.1"/>
<circle class="gc" cx="500.44" cy="538.09" r="2.1"/>
<circle class="gc" cx="565.49" cy="557.25" r="2.1"/>
<circle class="gc" cx="495.59" cy="527.72" r="2.1"/>
<circle class="gc" cx="547.22" cy="553.99" r="2.1"/>
<circle class="gc" cx="530.84" cy="554.03" r="2.1"/>
<circle class="gc" cx="471.91" cy="515.17" r="2.1"/>
<circle class="gc" cx="520.23" cy="555.5" r="2.1"/>
<circle class="gc" cx="546.84" cy="551.45" r="2.1"/>
<circle class="gc" cx="597.7" cy="543.25" r="2.1"/>
<circle class="gc" cx="574.66" cy="552.37" r="2.1"/>
<circle class="gc" cx="534.04" cy="560.58" r="2.1"/>
<circle class="gc" cx="602.19" cy="536.31" r="2.1"/>
<circle class="gc" cx="549.09" cy="550.35" r="2.1"/>
<circle class="gc" cx="573.86" cy="540.86" r="2.1"/>
<circle class="gc" cx="579.18" cy="541.74" r="2.1"/>
<circle class="gc" cx="541.91" cy="560.93" r="2.1"/>
<circle class="gc" cx="565.15" cy="556.36" r="2.1"/>
<circle class="gc" cx="616.43" cy="531.89" r="2.1"/>
<circle class="gc" cx="559.42" cy="546.24" r="2.1"/>
<circle class="gc" cx="575.67" cy="555.08" r="2.1"/>
<circle class="gc" cx="557.81" cy="550.26" r="2.1"/>
<circle class="gc" cx="513.29" cy="540.64" r="2.1"/>
<circle class="gc" cx="601.47" cy="535.45" r="2.1"/>
<circle class="gc" cx="614.43" cy="519.81" r="2.1"/>
<circle class="gc" cx="494.61" cy="537.29" r="2.1"/>
<circle class="gc" cx="500.02" cy="531.57" r="2.1"/>
<circle class="gc" cx="518.26" cy="551.31" r="2.1"/>
<circle class="gc" cx="574.77" cy="553.03" r="2.1"/>
<circle class="gc" cx="562.42" cy="555.87" r="2.1"/>
<circle class="gc" cx="600.74" cy="538.38" r="2.1"/>
<circle class="gc" cx="615.63" cy="530.41" r="2.1"/>
<circle class="gc" cx="602.99" cy="538.75" r="2.1"/>
<circle class="gc" cx="514.58" cy="540.52" r="2.1"/>
<circle class="gc" cx="467.02" cy="515.92" r="2.1"/>
<circle class="gc" cx="597.62" cy="533.46" r="2.1"/>
<circle class="gc" cx="599.6" cy="539.35" r="2.1"/>
<circle class="gc" cx="524.93" cy="553.23" r="2.1"/>
<circle class="gc" cx="529.14" cy="554.73" r="2.1"/>
<circle class="gc" cx="471.35" cy="518.12" r="2.1"/>
<circle class="gc" cx="507.11" cy="537" r="2.1"/>
<circle class="gc" cx="478.61" cy="518.7" r="2.1"/>
<circle class="gc" cx="571.64" cy="547.01" r="2.1"/>
<circle class="gc" cx="608.24" cy="533.57" r="2.1"/>
<circle class="gc" cx="484.26" cy="527.78" r="2.1"/>
<circle class="gc" cx="564.97" cy="554.42" r="2.1"/>
<circle class="gc" cx="608.14" cy="526.86" r="2.1"/>
<circle class="gc" cx="467.08" cy="513.39" r="2.1"/>
<circle class="gc" cx="555.4" cy="549.82" r="2.1"/>
<circle class="gc" cx="504.52" cy="533.96" r="2.1"/>
<circle class="gc" cx="520.68" cy="551" r="2.1"/>
<circle class="gc" cx="550.74" cy="554.05" r="2.1"/>
<circle class="gc" cx="609.32" cy="532.36" r="2.1"/>
<circle class="gc" cx="558.4" cy="549.46" r="2.1"/>
<circle class="gc" cx="467.73" cy="516.19" r="2.1"/>
<circle class="gc" cx="563.92" cy="553.66" r="2.1"/>
<circle class="gc" cx="534.16" cy="554.27" r="2.1"/>
<circle class="gc" cx="472.52" cy="518.4" r="2.1"/>
<circle class="gc" cx="612.01" cy="520.47" r="2.1"/>
<circle class="gc" cx="524.3" cy="547.39" r="2.1"/>
<circle class="gc" cx="532.25" cy="552.22" r="2.1"/>
<circle class="gc" cx="490.81" cy="528.32" r="2.1"/>
<circle class="gc" cx="599.03" cy="533.57" r="2.1"/>
<circle class="gc" cx="476.2" cy="517.6" r="2.1"/>
<circle class="gc" cx="559.5" cy="558.84" r="2.1"/>
<circle class="gc" cx="502.71" cy="540.66" r="2.1"/>
<circle class="gc" cx="488.04" cy="531.52" r="2.1"/>
<circle class="gc" cx="487.09" cy="525.52" r="2.1"/>
<circle class="gc" cx="616.26" cy="529.87" r="2.1"/>
<circle class="gc" cx="556.07" cy="550.88" r="2.1"/>
<circle class="gc" cx="493.35" cy="531.3" r="2.1"/>
<circle class="gc" cx="532.42" cy="548.44" r="2.1"/>
<circle class="gc" cx="545.4" cy="551.23" r="2.1"/>
<circle class="gc" cx="591.62" cy="546.48" r="2.1"/>
<circle class="gc" cx="528.28" cy="550.84" r="2.1"/>
<circle class="gc" cx="579.55" cy="538.95" r="2.1"/>
<circle class="gc" cx="466.85" cy="512.29" r="2.1"/>
<circle class="gc" cx="616.12" cy="515.77" r="2.1"/>
<circle class="gc" cx="588.58" cy="550.88" r="2.1"/>
<circle class="gc" cx="530.27" cy="556.83" r="2.1"/>
<circle class="gc" cx="595.47" cy="534.41" r="2.1"/>
<circle class="gc" cx="509.47" cy="545.6" r="2.1"/>
<circle class="gc" cx="490.39" cy="534.41" r="2.1"/>
<circle class="gc" cx="599.98" cy="544.5" r="2.1"/>
<circle class="gc" cx="482.37" cy="526.77" r="2.1"/>
<circle class="gc" cx="506.1" cy="537.75" r="2.1"/>
<circle class="gc" cx="503.16" cy="546.22" r="2.1"/>
<circle class="gc" cx="481.08" cy="527.02" r="2.1"/>
<circle class="gc" cx="563.72" cy="553.75" r="2.1"/>
<circle class="gc" cx="597.5" cy="534.27" r="2.1"/>
<circle class="gc" cx="504.26" cy="540.39" r="2.1"/>
<circle class="gc" cx="484.35" cy="524.73" r="2.1"/>
<circle class="gc" cx="569.96" cy="551.13" r="2.1"/>
<circle class="gc" cx="568.85" cy="551.26" r="2.1"/>
<circle class="gc" cx="599.84" cy="543.87" r="2.1"/>
<circle class="gc" cx="508.16" cy="538.24" r="2.1"/>
<circle class="gc" cx="539.46" cy="552.64" r="2.1"/>
<circle class="gc" cx="552.93" cy="552.11" r="2.1"/>
<circle class="gc" cx="541.5" cy="550.86" r="2.1"/>
<circle class="gc" cx="584.11" cy="547.19" r="2.1"/>
<circle class="gc" cx="532.02" cy="554.72" r="2.1"/>
<circle class="gc" cx="497.69" cy="541.81" r="2.1"/>
<circle class="gc" cx="525.18" cy="548.27" r="2.1"/>
<circle class="gc" cx="567.52" cy="556.47" r="2.1"/>
<circle class="gc" cx="470.59" cy="513.28" r="2.1"/>
<circle class="gc" cx="542.93" cy="557.18" r="2.1"/>
<circle class="gc" cx="548.43" cy="552.93" r="2.1"/>
<circle class="gc" cx="523.81" cy="552.32" r="2.1"/>
<circle class="gc" cx="577.49" cy="540.28" r="2.1"/>
<circle class="gc" cx="570.52" cy="551.57" r="2.1"/>
<circle class="gc" cx="563.49" cy="551.29" r="2.1"/>
<circle class="gc" cx="543.07" cy="550.43" r="2.1"/>
<circle class="gc" cx="531.55" cy="558.91" r="2.1"/>
<circle class="gc" cx="587.8" cy="536.53" r="2.1"/>
<circle class="gc" cx="536.37" cy="554.64" r="2.1"/>
<circle class="gc" cx="568.18" cy="546.3" r="2.1"/>
<circle class="gc" cx="551.41" cy="552.15" r="2.1"/>
<circle class="gc" cx="575.98" cy="552.49" r="2.1"/>
<circle class="gc" cx="547.84" cy="557.22" r="2.1"/>
<circle class="gc" cx="605.06" cy="535.59" r="2.1"/>
<circle class="gc" cx="611.69" cy="520.61" r="2.1"/>
<circle class="gc" cx="557.05" cy="556.5" r="2.1"/>
<circle class="gc" cx="530.11" cy="557.49" r="2.1"/>
<circle class="gc" cx="548.91" cy="552.03" r="2.1"/>
<circle class="gc" cx="568.34" cy="547.77" r="2.1"/>
<circle class="gc" cx="564.23" cy="549.4" r="2.1"/>
<circle class="gc" cx="607.87" cy="523.49" r="2.1"/>
<circle class="gc" cx="568.81" cy="545.88" r="2.1"/>
<circle class="gc" cx="504.86" cy="539.27" r="2.1"/>
<circle class="gc" cx="593.14" cy="548.58" r="2.1"/>
<circle class="gc" cx="474.72" cy="521.21" r="2.1"/>
<rect class="gs" x="530.83" y="545.95" width="4" height="4"/>
<rect class="gs" x="607.32" y="530.36" width="4" height="4"/>
<rect class="gs" x="595.7" y="541.25" width="4" height="4"/>
<rect class="gs" x="521.81" y="550.32" width="4" height="4"/>
<rect class="gs" x="467.87" y="518.38" width="4" height="4"/>
<rect class="gs" x="530.25" y="550.22" width="4" height="4"/>
<rect class="gs" x="614.12" y="513.77" width="4" height="4"/>
<rect class="gs" x="586.91" y="548.56" width="4" height="4"/>
<rect class="gs" x="538.77" y="554.01" width="4" height="4"/>
<rect class="gs" x="470.31" y="510.81" width="4" height="4"/>
<rect class="gs" x="528.27" y="554.83" width="4" height="4"/>
<rect class="gs" x="495.47" y="535.27" width="4" height="4"/>
<rect class="gs" x="523.49" y="553.95" width="4" height="4"/>
<rect class="gs" x="525.5" y="553.92" width="4" height="4"/>
<rect class="gs" x="585.8" y="534.53" width="4" height="4"/>
<rect class="gs" x="482.35" y="522.73" width="4" height="4"/>
<rect class="gs" x="504.56" y="543.2" width="4" height="4"/>
<rect class="gs" x="514.26" y="546.79" width="4" height="4"/>
<rect class="gs" x="595.62" y="531.46" width="4" height="4"/>
<rect class="gs" x="567.53" y="546.18" width="4" height="4"/>
<rect class="gs" x="480.37" y="524.77" width="4" height="4"/>
<rect class="gs" x="486.04" y="529.52" width="4" height="4"/>
<rect class="gs" x="478.91" y="515.27" width="4" height="4"/>
<rect class="gs" x="597.84" y="541.87" width="4" height="4"/>
<rect class="gs" x="493.08" y="524.07" width="4" height="4"/>
<rect class="gs" x="540.69" y="557.43" width="4" height="4"/>
<rect class="gs" x="572.77" y="551.03" width="4" height="4"/>
<rect class="gs" x="587.08" y="540.38" width="4" height="4"/>
<rect class="gs" x="522.3" y="545.39" width="4" height="4"/>
<rect class="gs" x="604.1" y="535.48" width="4" height="4"/>
<rect class="gs" x="576.71" y="553.19" width="4" height="4"/>
<rect class="gs" x="479.7" y="519.73" width="4" height="4"/>
<rect class="gs" x="597.98" y="542.5" width="4" height="4"/>
<rect class="gs" x="554.9" y="558.67" width="4" height="4"/>
<rect class="gs" x="555.81" y="548.26" width="4" height="4"/>
<rect class="gs" x="553.11" y="551.7" width="4" height="4"/>
<rect class="gs" x="540.93" y="555.18" width="4" height="4"/>
<rect class="gs" x="477.73" y="519.14" width="4" height="4"/>
<rect class="gs" x="469.91" y="513.17" width="4" height="4"/>
<rect class="gs" x="470.52" y="516.4" width="4" height="4"/>
<rect class="gs" x="492.61" y="535.29" width="4" height="4"/>
<rect class="gs" x="582.49" y="536.9" width="4" height="4"/>
<rect class="gs" x="469.35" y="516.12" width="4" height="4"/>
<rect class="gs" x="538.07" y="558.38" width="4" height="4"/>
<rect class="gs" x="587.35" y="547.94" width="4" height="4"/>
<rect class="gs" x="547.41" y="554.81" width="4" height="4"/>
<rect class="gs" x="472.62" y="512.63" width="4" height="4"/>
<rect class="gs" x="598.78" y="526.99" width="4" height="4"/>
<rect class="gs" x="561.72" y="551.75" width="4" height="4"/>
<rect class="gs" x="508.12" y="540.55" width="4" height="4"/>
<rect class="gs" x="482.26" y="525.78" width="4" height="4"/>
<rect class="gs" x="504.1" y="535.75" width="4" height="4"/>
<rect class="gs" x="467.71" y="512.2" width="4" height="4"/>
<rect class="gs" x="539.91" y="558.93" width="4" height="4"/>
<rect class="gs" x="599.47" y="533.45" width="4" height="4"/>
<rect class="gs" x="500.71" y="538.66" width="4" height="4"/>
<rect class="gs" x="578.41" y="545.36" width="4" height="4"/>
<rect class="gs" x="546.84" y="558.19" width="4" height="4"/>
<rect class="gs" x="557.42" y="544.24" width="4" height="4"/>
<rect class="gs" x="539.73" y="557.13" width="4" height="4"/>
<rect class="gs" x="500.47" y="541.74" width="4" height="4"/>
<rect class="gs" x="507.82" y="547.87" width="4" height="4"/>
<rect class="gs" x="557.42" y="551.97" width="4" height="4"/>
<rect class="gs" x="551.91" y="553.08" width="4" height="4"/>
<rect class="gs" x="566.97" y="542.71" width="4" height="4"/>
<rect class="gs" x="575.49" y="538.28" width="4" height="4"/>
<rect class="gs" x="474.01" y="513.22" width="4" height="4"/>
<rect class="gs" x="509.56" y="535.2" width="4" height="4"/>
<rect class="gs" x="527.22" y="552.42" width="4" height="4"/>
<rect class="gs" x="565.16" y="545.05" width="4" height="4"/>
<rect class="gs" x="600.19" y="534.31" width="4" height="4"/>
<rect class="gs" x="596.63" y="537.21" width="4" height="4"/>
<rect class="gs" x="561.92" y="551.66" width="4" height="4"/>
<rect class="gs" x="479.08" y="525.02" width="4" height="4"/>
<rect class="gs" x="497.06" y="541.3" width="4" height="4"/>
<rect class="gs" x="597.03" y="531.57" width="4" height="4"/>
<rect class="gs" x="541.07" y="548.43" width="4" height="4"/>
<rect class="gs" x="523.18" y="546.27" width="4" height="4"/>
<rect class="gs" x="507.47" y="543.6" width="4" height="4"/>
<rect class="gs" x="504.76" y="543.72" width="4" height="4"/>
<rect class="gs" x="515.63" y="543.89" width="4" height="4"/>
<rect class="gs" x="569.64" y="545.01" width="4" height="4"/>
<rect class="gs" x="534.65" y="554.42" width="4" height="4"/>
<rect class="gs" x="594.7" y="542.96" width="4" height="4"/>
<rect class="gs" x="615.63" y="526.75" width="4" height="4"/>
<rect class="gs" x="566.34" y="545.77" width="4" height="4"/>
<rect class="gs" x="520.44" y="554.38" width="4" height="4"/>
<rect class="gs" x="519.24" y="543.96" width="4" height="4"/>
<rect class="gs" x="516.17" y="552.43" width="4" height="4"/>
<rect class="gs" x="495.61" y="529.1" width="4" height="4"/>
<rect class="gs" x="596.81" y="543.17" width="4" height="4"/>
<rect class="gs" x="557.51" y="546.65" width="4" height="4"/>
<rect class="gs" x="513.71" y="550.75" width="4" height="4"/>
<rect class="gs" x="472.25" y="511.44" width="4" height="4"/>
<rect class="gs" x="468.2" y="518.73" width="4" height="4"/>
<rect class="gs" x="559.08" y="551.37" width="4" height="4"/>
<rect class="gs" x="505.11" y="535" width="4" height="4"/>
<rect class="gs" x="498.02" y="529.57" width="4" height="4"/>
<rect class="gs" x="546.91" y="550.03" width="4" height="4"/>
<rect class="gs" x="576.35" y="551.24" width="4" height="4"/>
<rect class="gs" x="560.98" y="547.38" width="4" height="4"/>
<rect class="gs" x="546.98" y="549.7" width="4" height="4"/>
<rect class="gs" x="536.68" y="550.34" width="4" height="4"/>
<rect class="gs" x="491.71" y="531.65" width="4" height="4"/>
<rect class="gs" x="506.16" y="536.24" width="4" height="4"/>
<rect class="gs" x="563.14" y="542.05" width="4" height="4"/>
<rect class="gs" x="554.07" y="548.88" width="4" height="4"/>
<rect class="gs" x="540.8" y="552.27" width="4" height="4"/>
<rect class="gs" x="472.99" y="517.51" width="4" height="4"/>
<rect class="gs" x="611.01" y="528.09" width="4" height="4"/>
<circle class="gc" cx="590.27" cy="530.77" r="2.1"/>
<circle class="gc" cx="598.21" cy="543.02" r="2.1"/>
<circle class="gc" cx="567.54" cy="545.3" r="2.1"/>
<circle class="gc" cx="562.71" cy="553.93" r="2.1"/>
<circle class="gc" cx="617.94" cy="531" r="2.1"/>
<circle class="gc" cx="582.84" cy="546.34" r="2.1"/>
<circle class="gc" cx="582.74" cy="541.53" r="2.1"/>
<circle class="gc" cx="601.97" cy="527.79" r="2.1"/>
<circle class="gc" cx="559.87" cy="551.82" r="2.1"/>
<circle class="gc" cx="579.52" cy="543.04" r="2.1"/>
<circle class="gc" cx="576.6" cy="543.65" r="2.1"/>
<circle class="gc" cx="571.22" cy="545.89" r="2.1"/>
<circle class="gc" cx="617.35" cy="524.09" r="2.1"/>
<circle class="gc" cx="621.51" cy="516.55" r="2.1"/>
<circle class="gc" cx="575.16" cy="546.55" r="2.1"/>
<circle class="gc" cx="581.88" cy="540.52" r="2.1"/>
<circle class="gc" cx="562.98" cy="558.91" r="2.1"/>
<circle class="gc" cx="608.48" cy="521.08" r="2.1"/>
<circle class="gc" cx="599.81" cy="532.79" r="2.1"/>
<circle class="gc" cx="576.12" cy="555.07" r="2.1"/>
<circle class="gc" cx="605.35" cy="540.9" r="2.1"/>
<circle class="gc" cx="605.12" cy="539.46" r="2.1"/>
<circle class="gc" cx="561.81" cy="542.91" r="2.1"/>
<circle class="gc" cx="606.51" cy="531.65" r="2.1"/>
<circle class="gc" cx="625.28" cy="525.51" r="2.1"/>
<circle class="gc" cx="587.97" cy="542.15" r="2.1"/>
<circle class="gc" cx="563.06" cy="544.59" r="2.1"/>
<circle class="gc" cx="566.67" cy="551.64" r="2.1"/>
<circle class="gc" cx="578.38" cy="542.16" r="2.1"/>
<circle class="gc" cx="621.65" cy="525.12" r="2.1"/>
<circle class="gc" cx="556.23" cy="547.01" r="2.1"/>
<circle class="gc" cx="566.24" cy="542.06" r="2.1"/>
<circle class="gc" cx="564.16" cy="556.95" r="2.1"/>
<circle class="gc" cx="608.83" cy="530.9" r="2.1"/>
<circle class="gc" cx="567.14" cy="545.14" r="2.1"/>
<circle class="gc" cx="569.19" cy="557.53" r="2.1"/>
<circle class="gc" cx="576.25" cy="535.88" r="2.1"/>
<circle class="gc" cx="606.77" cy="529.21" r="2.1"/>
<circle class="gc" cx="561.41" cy="551.49" r="2.1"/>
<circle class="gc" cx="626.26" cy="516.53" r="2.1"/>
<circle class="gc" cx="584.92" cy="551.39" r="2.1"/>
<circle class="gc" cx="610.97" cy="534.65" r="2.1"/>
<circle class="gc" cx="621.61" cy="516.83" r="2.1"/>
<circle class="gc" cx="591.62" cy="534.56" r="2.1"/>
<circle class="gc" cx="586.09" cy="547.6" r="2.1"/>
<circle class="gc" cx="624.96" cy="518.46" r="2.1"/>
<circle class="gc" cx="567.32" cy="547.58" r="2.1"/>
<circle class="gc" cx="569.01" cy="538.95" r="2.1"/>
<circle class="gc" cx="586.01" cy="551.04" r="2.1"/>
<circle class="gc" cx="626.15" cy="522.99" r="2.1"/>
<circle class="gc" cx="573.18" cy="553.53" r="2.1"/>
<circle class="gc" cx="593.08" cy="539.02" r="2.1"/>
<circle class="gc" cx="576.41" cy="538.4" r="2.1"/>
<circle class="gc" cx="593.22" cy="546.09" r="2.1"/>
<circle class="gc" cx="598.84" cy="529.87" r="2.1"/>
<circle class="gc" cx="573.46" cy="549.93" r="2.1"/>
<circle class="gc" cx="618.55" cy="530.81" r="2.1"/>
<circle class="gc" cx="572.12" cy="537.78" r="2.1"/>
<circle class="gc" cx="592.68" cy="532.37" r="2.1"/>
<circle class="gc" cx="573.53" cy="544.66" r="2.1"/>
<circle class="gc" cx="616.94" cy="524.41" r="2.1"/>
<circle class="gc" cx="570.29" cy="538.79" r="2.1"/>
<circle class="gc" cx="572.22" cy="548.93" r="2.1"/>
<circle class="gc" cx="573.84" cy="537.68" r="2.1"/>
<circle class="gc" cx="592.4" cy="538.77" r="2.1"/>
<circle class="gc" cx="626.48" cy="522.91" r="2.1"/>
<circle class="gc" cx="613.11" cy="532.23" r="2.1"/>
<circle class="gc" cx="587.13" cy="535.34" r="2.1"/>
<circle class="gc" cx="626.52" cy="523.94" r="2.1"/>
<circle class="gc" cx="612.29" cy="520.35" r="2.1"/>
<circle class="gc" cx="574.02" cy="545.41" r="2.1"/>
<circle class="gc" cx="596.39" cy="531.26" r="2.1"/>
<circle class="gc" cx="605.56" cy="524.08" r="2.1"/>
<circle class="gc" cx="576.7" cy="549.02" r="2.1"/>
<circle class="gc" cx="559.22" cy="549.25" r="2.1"/>
<circle class="gc" cx="596.95" cy="546.21" r="2.1"/>
<circle class="gc" cx="568.51" cy="556.31" r="2.1"/>
<circle class="gc" cx="598.6" cy="538.12" r="2.1"/>
<circle class="gc" cx="606.38" cy="541.19" r="2.1"/>
<circle class="gc" cx="594.23" cy="540.23" r="2.1"/>
<circle class="gc" cx="594.46" cy="543.33" r="2.1"/>
<circle class="gc" cx="591.25" cy="530.12" r="2.1"/>
<circle class="gc" cx="560.85" cy="554.48" r="2.1"/>
<circle class="gc" cx="623.86" cy="524.52" r="2.1"/>
<circle class="gc" cx="623.15" cy="525.14" r="2.1"/>
<circle class="gc" cx="577.99" cy="544.33" r="2.1"/>
<circle class="gc" cx="571.08" cy="548.56" r="2.1"/>
<circle class="gc" cx="612.08" cy="527.54" r="2.1"/>
<circle class="gc" cx="556.86" cy="550.9" r="2.1"/>
<circle class="gc" cx="561.96" cy="555.11" r="2.1"/>
<circle class="gc" cx="595.89" cy="530.95" r="2.1"/>
<circle class="gc" cx="589.65" cy="539.52" r="2.1"/>
<circle class="gc" cx="578.94" cy="544.78" r="2.1"/>
<circle class="gc" cx="587.56" cy="535.59" r="2.1"/>
<circle class="gc" cx="565.6" cy="551.44" r="2.1"/>
<circle class="gc" cx="610.5" cy="532.16" r="2.1"/>
<circle class="gc" cx="564.89" cy="546.13" r="2.1"/>
<circle class="gc" cx="601.32" cy="526.72" r="2.1"/>
<circle class="gc" cx="603.25" cy="532.84" r="2.1"/>
<circle class="gc" cx="568.87" cy="550.26" r="2.1"/>
<circle class="gc" cx="577.54" cy="541.05" r="2.1"/>
<circle class="gc" cx="577.31" cy="540.66" r="2.1"/>
<circle class="gc" cx="561.64" cy="549.5" r="2.1"/>
<circle class="gc" cx="558.58" cy="545.06" r="2.1"/>
<circle class="gc" cx="578.51" cy="536.51" r="2.1"/>
<circle class="gc" cx="593.37" cy="545.93" r="2.1"/>
<circle class="gc" cx="614.02" cy="530.91" r="2.1"/>
<circle class="gc" cx="620.48" cy="524.09" r="2.1"/>
<circle class="gc" cx="615.14" cy="530.49" r="2.1"/>
<circle class="gc" cx="588.03" cy="547.55" r="2.1"/>
<circle class="gc" cx="609.68" cy="536.25" r="2.1"/>
<circle class="gc" cx="625.29" cy="523.13" r="2.1"/>
<circle class="gc" cx="564.2" cy="542.4" r="2.1"/>
<circle class="gc" cx="568.16" cy="549.63" r="2.1"/>
<circle class="gc" cx="601.25" cy="536.17" r="2.1"/>
<circle class="gc" cx="563.46" cy="546.49" r="2.1"/>
<circle class="gc" cx="586.15" cy="541.42" r="2.1"/>
<circle class="gc" cx="583.23" cy="551.76" r="2.1"/>
<circle class="gc" cx="571.24" cy="543.97" r="2.1"/>
<circle class="gc" cx="602.66" cy="536.69" r="2.1"/>
<rect class="gs" x="620" y="488" width="4" height="4"/>
<rect class="gs" x="625" y="484" width="4" height="4"/>
<rect class="gs" x="631" y="483" width="4" height="4"/>
<rect class="gs" x="628" y="491" width="4" height="4"/>
<rect class="gs" x="635" y="488" width="4" height="4"/>
<rect class="gs" x="622.5" y="492" width="4" height="4"/>
<rect class="gs" x="617" y="498" width="4" height="4"/>
<circle class="gc" cx="442.7" cy="466.8" r="2.1"/>
<circle class="gc" cx="444.9" cy="471.8" r="2.1"/>
<circle class="gc" cx="448" cy="464.8" r="2.1"/>
<circle class="gc" cx="450.1" cy="463.7" r="2.1"/>
<circle class="gc" cx="452.3" cy="475.1" r="2.1"/>
<circle class="gc" cx="455.2" cy="472.5" r="2.1"/>
<circle class="gc" cx="456.7" cy="483.4" r="2.1"/>
<circle class="gc" cx="459.5" cy="482.7" r="2.1"/>
<circle class="gc" cx="462.4" cy="484.2" r="2.1"/>
<circle class="gc" cx="465" cy="485.5" r="2.1"/>
<circle class="gc" cx="466.7" cy="488.6" r="2.1"/>
<circle class="gc" cx="469.3" cy="487.7" r="2.1"/>
<circle class="gc" cx="472" cy="494.3" r="2.1"/>
<circle class="gc" cx="474.1" cy="500.1" r="2.1"/>
<circle class="gc" cx="476.3" cy="507.3" r="2.1"/>
<circle class="gc" cx="479.1" cy="509.5" r="2.1"/>
<circle class="gc" cx="481.3" cy="509.5" r="2.1"/>
<circle class="gc" cx="485" cy="512" r="2.1"/>
<circle class="gc" cx="489" cy="516" r="2.1"/>
<rect class="gs" x="447.7" y="507.5" width="4" height="4"/>
<rect class="gs" x="450.3" y="501" width="4" height="4"/>
<rect class="gs" x="452.1" y="495.3" width="4" height="4"/>
<rect class="gs" x="454.3" y="491" width="4" height="4"/>
<rect class="gs" x="456.9" y="501.4" width="4" height="4"/>
<rect class="gs" x="460.4" y="500.3" width="4" height="4"/>
<rect class="gs" x="463.4" y="501" width="4" height="4"/>
<rect class="gs" x="465.2" y="511.9" width="4" height="4"/>
<rect class="gs" x="468.4" y="517.1" width="4" height="4"/>
<rect class="gs" x="470.6" y="514.5" width="4" height="4"/>
<rect class="gs" x="473.9" y="513.4" width="4" height="4"/>
<rect class="gs" x="478.2" y="512.3" width="4" height="4"/>
<circle class="gc" cx="673" cy="446.7" r="2.1"/>
<circle class="gc" cx="669.7" cy="453.7" r="2.1"/>
<circle class="gc" cx="667.6" cy="459.8" r="2.1"/>
<circle class="gc" cx="665.4" cy="463.1" r="2.1"/>
<circle class="gc" cx="662.1" cy="468.5" r="2.1"/>
<circle class="gc" cx="659.5" cy="470.3" r="2.1"/>
<circle class="gc" cx="657.8" cy="477.3" r="2.1"/>
<circle class="gc" cx="655.1" cy="475.5" r="2.1"/>
<circle class="gc" cx="653" cy="483.8" r="2.1"/>
<circle class="gc" cx="658.8" cy="489.9" r="2.1"/>
<circle class="gc" cx="651.2" cy="490.3" r="2.1"/>
<circle class="gc" cx="646.8" cy="493.6" r="2.1"/>
<circle class="gc" cx="647.9" cy="501.2" r="2.1"/>
<circle class="gc" cx="644.7" cy="499.1" r="2.1"/>
<circle class="gc" cx="641.4" cy="501.2" r="2.1"/>
<circle class="gc" cx="640.3" cy="507.8" r="2.1"/>
<circle class="gc" cx="637" cy="512.1" r="2.1"/>
<circle class="gc" cx="633.8" cy="514.3" r="2.1"/>
<circle class="gc" cx="630.5" cy="518.7" r="2.1"/>
<circle class="gc" cx="628.3" cy="523" r="2.1"/>
<circle class="gc" cx="612" cy="540.5" r="2.1"/>
<circle class="gc" cx="605.4" cy="542.7" r="2.1"/>
<circle class="gc" cx="596.7" cy="549.2" r="2.1"/>
<circle class="gc" cx="590.2" cy="556.8" r="2.1"/>
<circle class="gc" cx="620" cy="530" r="2.1"/>
<circle class="gc" cx="625" cy="527" r="2.1"/>
<rect class="gs" x="640.5" y="473.1" width="4" height="4"/>
<rect class="gs" x="637.2" y="479.6" width="4" height="4"/>
<rect class="gs" x="633.9" y="485.7" width="4" height="4"/>
<rect class="gs" x="627.4" y="485.7" width="4" height="4"/>
<rect class="gs" x="625.2" y="488.3" width="4" height="4"/>
<rect class="gs" x="622" y="495.3" width="4" height="4"/>
<rect class="gs" x="618.7" y="501.4" width="4" height="4"/>
<rect class="gs" x="615.4" y="510.1" width="4" height="4"/>
<rect class="gs" x="610" y="514.1" width="4" height="4"/>
<rect class="gs" x="605.6" y="517.8" width="4" height="4"/>
<rect class="gs" x="599.1" y="523.2" width="4" height="4"/>
<rect class="gs" x="593.6" y="525.4" width="4" height="4"/>
<rect class="gs" x="588.2" y="527.6" width="4" height="4"/>
<rect class="gs" x="582.7" y="529.8" width="4" height="4"/>
<rect class="gs" x="577.3" y="530.9" width="4" height="4"/>
<rect class="gs" x="572.9" y="535.2" width="4" height="4"/>
<rect class="gs" x="568" y="536" width="4" height="4"/>
<rect class="gs" x="563" y="538" width="4" height="4"/>
<clipPath id="ti2"><rect x="417.9" y="438.5" width="129" height="105.4"/><rect x="546.9" y="438.5" width="128.5" height="84.5"/></clipPath><g clip-path="url(#ti2)">
<path d="M426.22,434.6 L426.82,435.89 L427.43,437.18 L428.03,438.46 L428.63,439.73 L429.24,440.99 L429.84,442.25 L430.44,443.5 L431.05,444.75 L431.65,445.98 L432.25,447.21 L432.86,448.44 L433.46,449.65 L434.06,450.86 L434.67,452.06 L435.27,453.26 L435.87,454.45 L436.48,455.63 L437.08,456.81 L437.68,457.97 L438.29,459.14 L438.89,460.29 L439.49,461.44 L440.1,462.58 L440.7,463.71 L441.3,464.84 L441.91,465.96 L442.51,467.08 L443.12,468.18 L443.72,469.28 L444.32,470.38 L444.93,471.46 L445.53,472.54 L446.13,473.62 L446.74,474.68 L447.34,475.74 L447.94,476.79 L448.55,477.84 L449.15,478.88 L449.75,479.91 L450.36,480.93 L450.96,481.95 L451.56,482.97 L452.17,483.97 L452.77,484.97 L453.37,485.96 L453.98,486.94 L454.58,487.92 L455.18,488.89 L455.79,489.86 L456.39,490.82 L456.99,491.77 L457.6,492.71 L458.2,493.65 L458.8,494.58 L459.41,495.5 L460.01,496.42 L460.61,497.33 L461.22,498.23 L461.82,499.13 L462.42,500.02 L463.03,500.9 L463.63,501.78 L464.23,502.65 L464.84,503.51 L465.44,504.37 L466.04,505.22 L466.65,506.06 L467.25,506.9 L467.85,507.73 L468.46,508.55 L469.06,509.37 L469.66,510.18 L470.27,510.98 L470.87,511.77 L471.47,512.56 L472.08,513.35 L472.68,514.12 L473.29,514.89 L473.89,515.66 L474.49,516.41 L475.1,517.16 L475.7,517.9 L476.3,518.64 L476.91,519.37 L477.51,520.09 L478.11,520.81 L478.72,521.52 L479.32,522.22 L479.92,522.92 L480.53,523.61 L481.13,524.29 L481.73,524.96 L482.34,525.63 L482.94,526.3 L483.54,526.95 L484.15,527.6 L484.75,528.25 L485.35,528.88 L485.96,529.51 L486.56,530.14 L487.16,530.75 L487.77,531.36 L488.37,531.97 L488.97,532.56 L489.58,533.16 L490.18,533.74 L490.78,534.32 L491.39,534.89 L491.99,535.45 L492.59,536.01 L493.2,536.56 L493.8,537.11 L494.4,537.64 L495.01,538.17 L495.61,538.7 L496.21,539.22 L496.82,539.73 L497.42,540.24 L498.02,540.73 L498.63,541.23 L499.23,541.71 L499.83,542.19 L500.44,542.67 L501.04,543.13 L501.64,543.59 L502.25,544.04 L502.85,544.47 L503.46,544.9 L504.06,545.32 L504.66,545.74 L505.27,546.15 L505.87,546.55 L506.47,546.95 L507.08,547.34 L507.68,547.73 L508.28,548.11 L508.89,548.49 L509.49,548.86 L510.09,549.22 L510.7,549.58 L511.3,549.93 L511.9,550.27 L512.51,550.61 L513.11,550.95 L513.71,551.27 L514.32,551.59 L514.92,551.91 L515.52,552.22 L516.13,552.52 L516.73,552.82 L517.33,553.11 L517.94,553.4 L518.54,553.68 L519.14,553.96 L519.75,554.22 L520.35,554.49 L520.95,554.74 L521.56,554.99 L522.16,555.24 L522.76,555.48 L523.37,555.71 L523.97,555.94 L524.57,556.16 L525.18,556.38 L525.78,556.58 L526.38,556.79 L526.99,556.99 L527.59,557.18 L528.19,557.36 L528.8,557.54 L529.4,557.72 L530,557.89 L530.61,558.05 L531.21,558.21 L531.81,558.36 L532.42,558.5 L533.02,558.64 L533.63,558.77 L534.23,558.9 L534.83,559.02 L535.44,559.13 L536.04,559.24 L536.64,559.35 L537.25,559.44 L537.85,559.54 L538.45,559.62 L539.06,559.7 L539.66,559.78 L540.26,559.84 L540.87,559.9 L541.47,559.96 L542.07,560.01 L542.68,560.06 L543.28,560.09 L543.88,560.13 L544.49,560.15 L545.09,560.17 L545.69,560.19 L546.3,560.2 L546.9,560.2" fill="none" stroke="#000" stroke-width="1.7" stroke-dasharray="5.5 3"/>
<path d="M546.9,560.2 L547.55,560.2 L548.19,560.18 L548.84,560.16 L549.49,560.14 L550.13,560.1 L550.78,560.06 L551.43,560.01 L552.07,559.95 L552.72,559.88 L553.37,559.81 L554.01,559.73 L554.66,559.64 L555.3,559.54 L555.95,559.44 L556.6,559.32 L557.24,559.2 L557.89,559.07 L558.54,558.94 L559.18,558.79 L559.83,558.64 L560.48,558.48 L561.12,558.31 L561.77,558.14 L562.42,557.95 L563.06,557.76 L563.71,557.57 L564.36,557.36 L565,557.14 L565.65,556.92 L566.29,556.69 L566.94,556.45 L567.59,556.21 L568.23,555.96 L568.88,555.69 L569.53,555.43 L570.17,555.15 L570.82,554.86 L571.47,554.57 L572.11,554.27 L572.76,553.96 L573.41,553.65 L574.05,553.32 L574.7,552.99 L575.35,552.65 L575.99,552.31 L576.64,551.95 L577.29,551.59 L577.93,551.22 L578.58,550.84 L579.23,550.46 L579.87,550.06 L580.52,549.66 L581.16,549.25 L581.81,548.83 L582.46,548.41 L583.1,547.98 L583.75,547.54 L584.4,547.09 L585.04,546.63 L585.69,546.17 L586.34,545.7 L586.98,545.22 L587.63,544.73 L588.28,544.23 L588.92,543.73 L589.57,543.22 L590.22,542.73 L590.86,542.28 L591.51,541.82 L592.15,541.36 L592.8,540.9 L593.45,540.43 L594.09,539.95 L594.74,539.47 L595.39,538.99 L596.03,538.5 L596.68,538.01 L597.33,537.51 L597.97,537.01 L598.62,536.5 L599.27,535.99 L599.91,535.47 L600.56,534.95 L601.21,534.42 L601.85,533.9 L602.5,533.36 L603.15,532.82 L603.79,532.28 L604.44,531.73 L605.09,531.18 L605.73,530.62 L606.38,530.06 L607.02,529.5 L607.67,528.93 L608.32,528.35 L608.96,527.77 L609.61,527.19 L610.26,526.6 L610.9,526.01 L611.55,525.42 L612.2,524.82 L612.84,524.21 L613.49,523.6 L614.14,522.99 L614.78,522.29 L615.43,521.58 L616.08,520.87 L616.72,520.15 L617.37,519.43 L618.01,518.7 L618.66,517.96 L619.31,517.22 L619.95,516.47 L620.6,515.71 L621.25,514.95 L621.89,514.18 L622.54,513.4 L623.19,512.62 L623.83,511.83 L624.48,511.04 L625.13,510.24 L625.77,509.43 L626.42,508.62 L627.07,507.8 L627.71,506.97 L628.36,506.14 L629.01,505.3 L629.65,504.46 L630.3,503.6 L630.94,502.75 L631.59,501.88 L632.24,501.01 L632.88,500.14 L633.53,499.26 L634.18,498.37 L634.82,497.47 L635.47,496.57 L636.12,495.66 L636.76,494.75 L637.41,493.83 L638.06,492.91 L638.7,491.97 L639.35,491.03 L640,490.09 L640.64,489.14 L641.29,488.18 L641.94,487.22 L642.58,486.25 L643.23,485.27 L643.88,484.29 L644.52,483.3 L645.17,482.31 L645.81,481.31 L646.46,480.3 L647.11,479.29 L647.75,478.27 L648.4,477.24 L649.05,476.21 L649.69,475.17 L650.34,474.13 L650.99,473.08 L651.63,472.02 L652.28,470.96 L652.93,469.89 L653.57,468.82 L654.22,467.74 L654.87,466.65 L655.51,465.55 L656.16,464.45 L656.8,463.35 L657.45,462.24 L658.1,461.12 L658.74,459.99 L659.39,458.86 L660.04,457.73 L660.68,456.58 L661.33,455.43 L661.98,454.28 L662.62,453.12 L663.27,451.95 L663.92,450.78 L664.56,449.6 L665.21,448.41 L665.86,447.22 L666.5,446.02 L667.15,444.81 L667.8,443.6 L668.44,442.39 L669.09,441.16 L669.74,439.94 L670.38,438.7 L671.03,437.49 L671.67,436.32 L672.32,435.15 L672.97,433.98 L673.61,432.79 L674.26,431.61 L674.91,430.42 L675.55,429.22 L676.2,428.02" fill="none" stroke="#000" stroke-width="1.7" stroke-dasharray="5.5 3"/>
</g>
</g>
<line x1="555.9" y1="500" x2="566.5" y2="510.6" stroke="#000" stroke-width="1.8" />
<path d="M580.8,524.4 L571.7,505 L568.4,511.6 L560.9,515.4 Z" fill="#000"/>
<rect x="417.9" y="438.5" width="257.5" height="127.7" fill="none" stroke="#1e1e1e" stroke-width="1.05"/>
<line x1="426.22" y1="566.2" x2="426.22" y2="563.5" stroke="#555" stroke-width="0.85" />
<line x1="443.46" y1="566.2" x2="443.46" y2="563.5" stroke="#555" stroke-width="0.85" />
<line x1="477.94" y1="566.2" x2="477.94" y2="563.5" stroke="#555" stroke-width="0.85" />
<line x1="495.18" y1="566.2" x2="495.18" y2="563.5" stroke="#555" stroke-width="0.85" />
<line x1="512.42" y1="566.2" x2="512.42" y2="563.5" stroke="#555" stroke-width="0.85" />
<line x1="529.66" y1="566.2" x2="529.66" y2="563.5" stroke="#555" stroke-width="0.85" />
<line x1="564.14" y1="566.2" x2="564.14" y2="563.5" stroke="#555" stroke-width="0.85" />
<line x1="581.38" y1="566.2" x2="581.38" y2="563.5" stroke="#555" stroke-width="0.85" />
<line x1="598.62" y1="566.2" x2="598.62" y2="563.5" stroke="#555" stroke-width="0.85" />
<line x1="615.86" y1="566.2" x2="615.86" y2="563.5" stroke="#555" stroke-width="0.85" />
<line x1="650.34" y1="566.2" x2="650.34" y2="563.5" stroke="#555" stroke-width="0.85" />
<line x1="667.58" y1="566.2" x2="667.58" y2="563.5" stroke="#555" stroke-width="0.85" />
<line x1="460.7" y1="566.2" x2="460.7" y2="561.2" stroke="#333" stroke-width="1.0" />
<line x1="546.9" y1="566.2" x2="546.9" y2="561.2" stroke="#333" stroke-width="1.0" />
<line x1="633.1" y1="566.2" x2="633.1" y2="561.2" stroke="#333" stroke-width="1.0" />
<line x1="417.9" y1="548" x2="420.6" y2="548" stroke="#555" stroke-width="0.85" />
<line x1="417.9" y1="535.8" x2="420.6" y2="535.8" stroke="#555" stroke-width="0.85" />
<line x1="417.9" y1="523.6" x2="420.6" y2="523.6" stroke="#555" stroke-width="0.85" />
<line x1="417.9" y1="511.4" x2="420.6" y2="511.4" stroke="#555" stroke-width="0.85" />
<line x1="417.9" y1="487" x2="420.6" y2="487" stroke="#555" stroke-width="0.85" />
<line x1="417.9" y1="474.8" x2="420.6" y2="474.8" stroke="#555" stroke-width="0.85" />
<line x1="417.9" y1="462.6" x2="420.6" y2="462.6" stroke="#555" stroke-width="0.85" />
<line x1="417.9" y1="450.4" x2="420.6" y2="450.4" stroke="#555" stroke-width="0.85" />
<line x1="417.9" y1="560.2" x2="422.9" y2="560.2" stroke="#333" stroke-width="1.0" />
<line x1="417.9" y1="499.2" x2="422.9" y2="499.2" stroke="#333" stroke-width="1.0" />
<text x="460.7" y="583.8" font-size="21.3" font-weight="normal" font-style="normal" text-anchor="middle" fill="#000" textLength="51.72" lengthAdjust="spacingAndGlyphs" stroke="#000" stroke-width="0.3">−0.1</text>
<text x="546.9" y="583.8" font-size="21.3" font-weight="normal" font-style="normal" text-anchor="middle" fill="#000" textLength="33.87" lengthAdjust="spacingAndGlyphs" stroke="#000" stroke-width="0.3">0.0</text>
<text x="633.1" y="583.8" font-size="21.3" font-weight="normal" font-style="normal" text-anchor="middle" fill="#000" textLength="33.87" lengthAdjust="spacingAndGlyphs" stroke="#000" stroke-width="0.3">0.1</text>
<text x="415.3" y="568" font-size="21.3" font-weight="normal" font-style="normal" text-anchor="end" fill="#000" textLength="60.96" lengthAdjust="spacingAndGlyphs" stroke="#000" stroke-width="0.3">0.000</text>
<text x="415.3" y="507" font-size="21.3" font-weight="normal" font-style="normal" text-anchor="end" fill="#000" textLength="60.96" lengthAdjust="spacingAndGlyphs" stroke="#000" stroke-width="0.3">0.005</text>
<text x="415.3" y="446" font-size="21.3" font-weight="normal" font-style="normal" text-anchor="end" fill="#000" textLength="60.96" lengthAdjust="spacingAndGlyphs" stroke="#000" stroke-width="0.3">0.010</text>
</svg></body></html>
